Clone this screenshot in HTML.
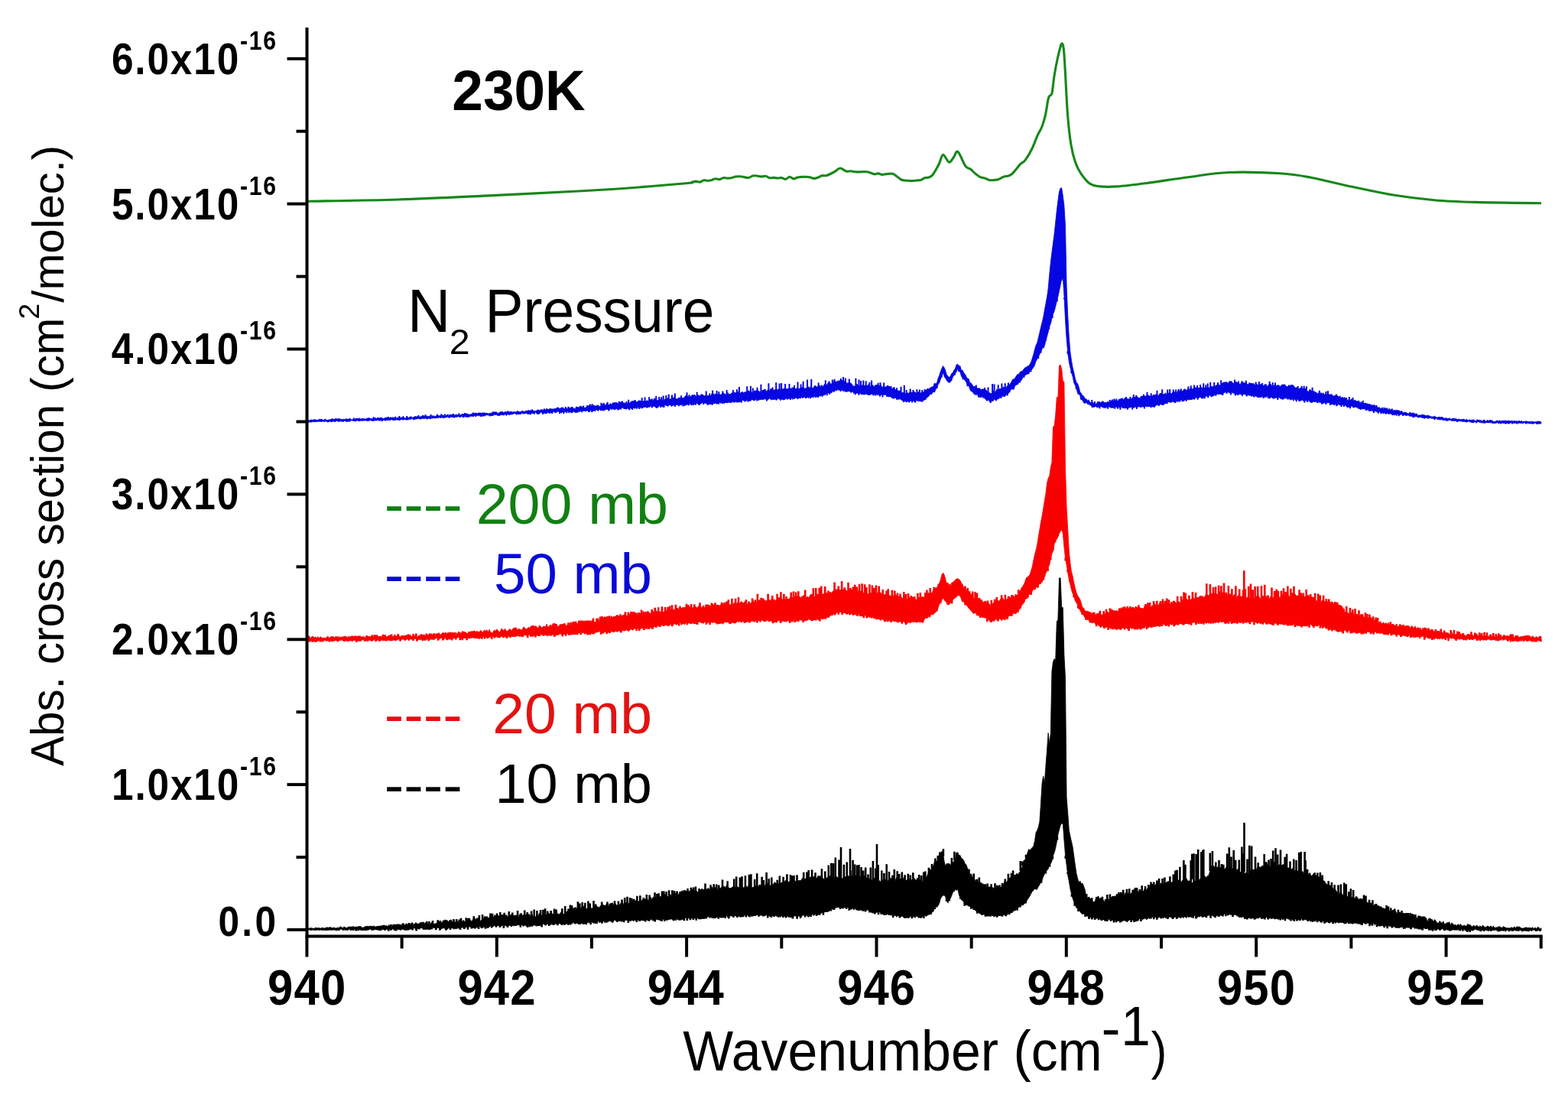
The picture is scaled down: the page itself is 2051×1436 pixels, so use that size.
<!DOCTYPE html>
<html><head><meta charset="utf-8"><title>Absorption cross section 230K</title>
<style>html,body{margin:0;padding:0;background:#fff;}body{width:2051px;height:1436px;overflow:hidden;}svg{display:block;filter:blur(0.55px);}</style>
</head><body>
<svg width="2051" height="1436" viewBox="0 0 2051 1436">
<rect width="100%" height="100%" fill="#fff"/>
<path d="M401.5 263.3C421.2 262.9 479.6 262.3 520.0 261.0C560.4 259.7 603.0 257.5 644.0 255.6C685.0 253.7 733.5 251.3 766.0 249.5C798.5 247.7 816.7 246.3 839.0 244.6C861.3 242.9 889.0 240.5 900.0 239.5C911.0 238.5 903.4 238.7 905.1 238.3C906.9 237.9 908.6 237.2 910.3 237.1C912.0 237.1 913.7 238.4 915.4 238.1C917.2 237.9 918.9 235.9 920.6 235.7C922.3 235.4 924.0 236.6 925.7 236.5C927.4 236.5 929.2 235.8 930.9 235.4C932.6 234.9 934.3 233.9 936.0 233.8C937.7 233.6 939.4 234.8 941.2 234.6C942.9 234.4 944.6 232.7 946.3 232.5C948.0 232.2 949.7 233.1 951.5 233.1C953.2 233.1 954.8 233.0 956.6 232.7C958.4 232.4 960.3 231.3 962.2 231.0C964.1 230.7 965.9 230.7 967.8 230.8C969.7 230.9 971.5 231.3 973.4 231.6C975.3 231.9 977.1 232.8 979.0 232.5C980.9 232.3 982.7 230.4 984.6 230.0C986.5 229.6 988.3 229.8 990.2 230.0C992.1 230.2 993.9 231.0 995.8 231.0C997.7 231.1 999.6 230.0 1001.4 230.3C1003.2 230.6 1004.9 232.3 1006.6 232.6C1008.3 233.0 1010.1 232.3 1011.8 232.3C1013.5 232.4 1015.3 233.0 1017.0 233.0C1018.7 233.0 1020.5 232.4 1022.3 232.6C1024.0 232.8 1025.8 234.6 1027.5 234.4C1029.3 234.2 1031.1 231.4 1032.8 231.3C1034.6 231.3 1036.3 233.8 1038.1 233.9C1039.8 234.0 1041.6 232.4 1043.3 232.0C1045.1 231.6 1046.9 231.6 1048.6 231.4C1050.4 231.3 1052.1 231.2 1053.9 231.3C1055.6 231.4 1057.4 231.5 1059.2 231.8C1060.9 232.2 1062.7 233.3 1064.4 233.4C1066.2 233.5 1068.0 232.9 1069.7 232.3C1071.4 231.7 1073.1 230.3 1074.8 229.8C1076.5 229.4 1078.2 230.0 1079.9 229.7C1081.6 229.4 1083.0 228.9 1085.0 228.0C1087.0 227.1 1089.6 225.8 1092.0 224.4C1094.3 223.1 1096.4 220.1 1098.9 220.0C1101.4 219.9 1104.4 223.3 1106.7 223.9C1109.0 224.5 1110.6 223.7 1112.6 223.8C1114.5 224.0 1116.5 224.5 1118.4 224.7C1120.4 224.9 1122.2 224.9 1124.3 224.9C1126.4 224.9 1128.6 224.4 1130.8 224.5C1133.0 224.6 1135.1 224.9 1137.3 225.4C1139.5 226.0 1141.9 227.6 1143.8 227.8C1145.7 228.0 1147.2 226.8 1148.9 226.9C1150.5 227.0 1152.2 228.3 1153.9 228.4C1155.6 228.5 1157.3 227.8 1159.0 227.6C1160.7 227.4 1162.4 227.2 1164.0 227.2C1165.7 227.2 1166.6 226.5 1169.1 227.8C1171.6 229.1 1176.1 233.6 1178.9 235.0C1181.7 236.4 1183.4 235.8 1185.7 236.1C1188.0 236.3 1190.4 236.6 1192.5 236.6C1194.6 236.6 1196.4 236.1 1198.3 236.0C1200.3 235.8 1202.4 236.1 1204.2 235.6C1206.0 235.1 1207.7 233.3 1209.4 232.7C1211.1 232.1 1212.9 232.7 1214.6 232.0C1216.3 231.4 1217.6 231.6 1219.8 228.8C1222.0 226.0 1225.7 219.4 1228.0 215.0C1230.3 210.6 1231.3 202.9 1233.5 202.4C1235.7 201.9 1239.0 211.6 1241.3 212.2C1243.6 212.8 1245.2 208.3 1247.2 206.0C1249.1 203.7 1250.4 196.6 1253.0 198.5C1255.6 200.4 1260.1 213.3 1262.8 217.1C1265.5 220.9 1267.1 219.5 1269.3 221.1C1271.5 222.8 1273.6 225.3 1275.8 227.1C1278.0 228.8 1280.2 230.7 1282.3 231.7C1284.4 232.7 1286.2 232.4 1288.2 233.1C1290.2 233.7 1292.1 235.1 1294.1 235.5C1296.1 235.9 1298.0 235.8 1300.0 235.6C1302.0 235.4 1304.2 235.2 1306.3 234.5C1308.4 233.7 1310.6 231.9 1312.7 231.2C1314.8 230.4 1317.1 230.7 1319.0 230.0C1320.9 229.3 1322.4 228.6 1324.1 227.2C1325.8 225.7 1327.4 223.5 1329.2 221.3C1331.0 219.1 1333.1 216.2 1335.1 214.2C1337.0 212.3 1338.5 212.8 1340.9 209.6C1343.3 206.4 1347.0 200.4 1349.7 195.0C1352.4 189.6 1354.8 182.3 1357.0 177.4C1359.2 172.5 1361.2 170.1 1362.9 165.7C1364.6 161.3 1365.8 157.4 1367.3 151.1C1368.8 144.8 1370.1 132.6 1371.6 127.7C1373.0 122.8 1374.8 126.5 1376.0 121.9C1377.2 117.3 1377.7 107.5 1378.9 99.9C1380.1 92.3 1381.7 83.6 1383.3 76.5C1384.9 69.4 1387.2 59.4 1388.5 57.5C1389.8 55.6 1390.6 58.1 1391.4 64.9C1392.2 71.7 1392.8 84.4 1393.6 98.5C1394.4 112.6 1395.3 134.5 1396.5 149.6C1397.7 164.7 1399.2 178.6 1400.9 189.1C1402.6 199.6 1404.5 206.2 1406.7 212.5C1408.9 218.8 1410.8 222.5 1414.0 227.1C1417.2 231.7 1421.5 237.5 1425.7 240.3C1429.9 243.1 1433.1 243.3 1438.9 243.9C1444.8 244.5 1450.6 244.6 1460.8 243.9C1471.0 243.2 1484.5 241.5 1500.0 239.5C1515.5 237.5 1535.8 234.0 1553.7 231.7C1571.6 229.4 1587.3 226.3 1607.5 225.5C1627.7 224.7 1656.7 225.7 1674.6 226.8C1692.5 227.9 1699.2 229.3 1714.9 232.2C1730.6 235.1 1750.8 240.5 1768.7 244.3C1786.6 248.1 1804.5 252.1 1822.4 255.0C1840.3 257.9 1858.2 260.1 1876.1 261.7C1894.0 263.3 1906.6 263.7 1929.9 264.4C1953.2 265.1 2001.7 265.6 2016.0 265.8" fill="none" stroke="#17871a" stroke-width="3.1" stroke-linejoin="round"/>
<polygon points="401.5,549.2 403.1,549.4 404.7,550.0 406.3,549.1 407.9,549.2 409.5,549.3 411.1,548.5 412.7,549.1 414.3,549.2 415.9,549.5 417.5,548.2 419.1,548.5 420.7,548.1 422.3,549.4 423.9,549.1 425.5,547.9 427.1,549.5 428.7,549.5 430.3,548.9 431.9,548.8 433.5,548.0 435.1,547.7 436.7,548.5 438.3,547.7 439.9,547.9 441.5,547.9 443.1,547.5 444.7,548.2 446.3,548.2 447.9,548.8 449.5,548.2 451.1,548.4 452.7,548.1 454.3,548.4 455.9,548.0 457.5,547.6 459.1,548.8 460.7,548.8 462.3,548.5 463.9,548.2 465.5,547.5 467.1,547.3 468.7,547.4 470.3,546.9 471.9,548.1 473.5,547.5 475.1,548.2 476.7,547.4 478.3,548.3 479.9,548.1 481.5,546.6 483.1,546.9 484.7,548.1 486.3,547.3 487.9,548.1 489.5,547.1 491.1,546.5 492.7,547.4 494.3,547.6 495.9,546.7 497.5,546.3 499.1,546.7 500.7,547.8 502.3,547.4 503.9,546.3 505.5,546.4 507.1,546.1 508.7,546.0 510.3,547.3 511.9,546.2 513.5,546.8 515.1,546.6 516.7,546.1 518.3,547.0 519.9,545.9 521.5,546.8 523.1,545.8 524.7,546.2 526.3,545.8 527.9,545.8 529.5,546.9 531.1,546.6 532.7,545.6 534.3,546.5 535.9,545.2 537.5,545.5 539.1,546.2 540.7,545.8 542.3,544.7 543.9,546.2 545.5,544.7 547.1,544.7 548.7,545.6 550.3,544.7 551.9,544.5 553.5,544.0 555.1,544.0 556.7,544.8 558.3,544.1 559.9,544.7 561.5,544.2 563.1,544.2 564.7,545.1 566.3,544.1 567.9,544.2 569.5,544.7 571.1,543.3 572.7,543.1 574.3,544.5 575.9,544.2 577.5,543.1 579.1,542.9 580.7,543.8 582.3,544.1 583.9,542.6 585.5,544.0 587.1,543.8 588.7,543.1 590.3,542.7 591.9,542.0 593.5,541.8 595.1,543.5 596.7,542.0 598.3,542.8 599.9,541.9 601.5,542.9 603.1,542.4 604.7,541.7 606.3,541.4 607.9,542.4 609.5,541.0 611.1,541.2 612.7,541.8 614.3,542.3 615.9,541.7 617.5,541.0 619.1,542.2 620.7,540.6 622.3,540.2 623.9,540.6 625.5,540.9 627.1,540.0 628.7,540.1 630.3,540.5 631.9,540.8 633.5,539.8 635.1,540.2 636.7,541.2 638.3,541.3 639.9,540.5 641.5,540.5 643.1,540.2 644.7,539.2 646.3,538.9 647.9,538.7 649.5,540.5 651.1,540.0 652.7,540.5 654.3,538.2 655.9,539.5 657.5,539.1 659.1,539.5 660.7,538.5 662.3,540.0 663.9,537.7 665.5,538.7 667.1,539.1 668.7,539.4 670.3,538.9 671.9,538.7 673.5,538.8 675.1,539.0 676.7,537.5 678.3,538.2 679.9,538.7 681.5,538.5 683.1,537.2 684.7,538.1 686.3,538.2 687.9,537.3 689.5,537.4 691.1,536.6 692.7,537.0 694.3,537.0 695.9,535.4 697.5,536.9 699.1,537.8 700.7,537.4 702.3,536.8 703.9,535.7 705.5,536.7 707.1,536.1 708.7,535.6 710.3,536.7 711.9,534.3 713.5,536.2 715.1,533.9 716.7,535.6 718.3,535.1 719.9,534.2 721.5,535.6 723.1,534.8 724.7,535.1 726.3,536.0 727.9,533.7 729.5,532.8 731.1,533.6 732.7,534.8 734.3,533.1 735.9,532.8 737.5,535.3 739.1,534.3 740.7,533.5 742.3,534.9 743.9,532.8 745.5,533.9 747.1,532.2 748.7,532.9 750.3,534.1 751.9,534.4 753.5,534.2 755.1,532.3 756.7,532.9 758.3,531.8 759.9,531.1 761.5,532.3 763.1,533.4 764.7,533.3 766.3,532.7 767.9,533.4 769.5,530.8 771.1,530.3 772.7,531.1 774.3,530.4 775.9,530.0 777.5,530.5 779.1,531.1 780.7,530.5 782.3,529.7 783.9,531.4 785.5,531.8 787.1,529.7 788.7,528.2 790.3,527.9 791.9,530.7 793.5,527.6 795.1,529.8 796.7,529.2 798.3,528.1 799.9,529.6 801.5,526.7 803.1,527.0 804.7,527.9 806.3,526.2 807.9,529.0 809.5,526.7 811.1,526.2 812.7,525.7 814.3,527.6 815.9,526.8 817.5,527.3 819.1,527.2 820.7,527.6 822.3,528.0 823.9,526.8 825.5,524.9 827.1,525.8 828.7,524.5 830.3,523.8 831.9,525.3 833.5,526.0 835.1,523.9 836.7,524.1 838.3,524.2 839.9,525.3 841.5,524.5 843.1,524.6 844.7,525.0 846.3,523.5 847.9,524.8 849.5,525.1 851.1,521.9 852.7,524.8 854.3,523.9 855.9,521.6 857.5,522.6 859.1,523.1 860.7,523.9 862.3,521.9 863.9,522.4 865.5,523.3 867.1,522.9 868.7,523.3 870.3,521.4 871.9,521.9 873.5,520.1 875.1,521.8 876.7,522.0 878.3,521.2 879.9,521.3 881.5,519.3 883.1,521.6 884.7,521.8 886.3,521.6 887.9,519.9 889.5,520.6 891.1,518.8 892.7,520.7 894.3,520.4 895.9,518.4 897.5,517.2 899.1,518.4 900.7,518.6 902.3,519.3 903.9,518.1 905.5,516.4 907.1,519.0 908.7,516.2 910.3,518.8 911.9,516.4 913.5,516.8 915.1,518.3 916.7,515.9 918.3,515.8 919.9,517.0 921.5,517.6 923.1,517.9 924.7,517.2 926.3,518.0 927.9,516.3 929.5,517.8 931.1,514.5 932.7,514.9 934.3,515.9 935.9,514.9 937.5,516.3 939.1,515.9 940.7,515.3 942.3,516.4 943.9,515.2 945.5,514.2 947.1,514.3 948.7,515.9 950.3,515.9 951.9,513.3 953.5,515.5 955.1,515.8 956.7,514.1 958.3,514.1 959.9,512.7 961.5,513.7 963.1,513.5 964.7,513.7 966.3,511.5 967.9,514.8 969.5,513.0 971.1,512.5 972.7,513.8 974.3,512.8 975.9,512.4 977.5,513.0 979.1,510.6 980.7,512.2 982.3,511.6 983.9,513.5 985.5,513.2 987.1,510.7 988.7,511.4 990.3,510.0 991.9,511.0 993.5,512.3 995.1,512.5 996.7,510.8 998.3,510.1 999.9,509.6 1001.5,511.0 1003.1,512.0 1004.7,509.0 1006.3,511.3 1007.9,508.4 1009.5,508.9 1011.1,508.9 1012.7,510.5 1014.3,509.1 1015.9,509.1 1017.5,509.9 1019.1,508.0 1020.7,510.1 1022.3,507.8 1023.9,509.1 1025.5,508.0 1027.1,507.7 1028.7,508.8 1030.3,508.4 1031.9,508.1 1033.5,508.1 1035.1,508.4 1036.7,506.9 1038.3,506.9 1039.9,508.3 1041.5,508.2 1043.1,507.7 1044.7,508.7 1046.3,507.7 1047.9,508.5 1049.5,506.1 1051.1,507.8 1052.7,507.9 1054.3,508.1 1055.9,505.9 1057.5,505.8 1059.1,507.8 1060.7,505.1 1062.3,507.8 1063.9,507.3 1065.5,504.5 1067.1,504.7 1068.7,506.3 1070.3,504.5 1071.9,503.8 1073.5,506.3 1075.1,504.7 1076.7,505.5 1078.3,502.5 1079.9,503.0 1081.5,503.5 1083.1,500.5 1084.7,500.6 1086.3,501.8 1087.9,502.1 1089.5,501.7 1091.1,498.1 1092.7,499.0 1094.3,499.3 1095.9,497.9 1097.5,498.3 1099.1,497.0 1100.7,497.0 1102.3,497.6 1103.9,497.9 1105.5,500.2 1107.1,500.5 1108.7,501.2 1110.3,500.2 1111.9,500.8 1113.5,501.3 1115.1,504.1 1116.7,505.1 1118.3,505.3 1119.9,502.6 1121.5,502.5 1123.1,505.7 1124.7,504.0 1126.3,505.1 1127.9,503.6 1129.5,504.1 1131.1,504.3 1132.7,504.1 1134.3,504.7 1135.9,502.6 1137.5,505.1 1139.1,505.7 1140.7,503.3 1142.3,504.4 1143.9,505.4 1145.5,504.3 1147.1,503.5 1148.7,503.5 1150.3,504.8 1151.9,503.0 1153.5,506.2 1155.1,505.9 1156.7,505.6 1158.3,506.2 1159.9,505.4 1161.5,504.6 1163.1,505.4 1164.7,505.7 1166.3,508.1 1167.9,508.1 1169.5,506.8 1171.1,509.8 1172.7,509.8 1174.3,510.6 1175.9,511.4 1177.5,510.6 1179.1,513.0 1180.7,513.6 1182.3,513.6 1183.9,514.5 1185.5,514.9 1187.1,513.6 1188.7,514.6 1190.3,512.2 1191.9,513.1 1193.5,513.5 1195.1,511.8 1196.7,512.9 1198.3,513.9 1199.9,513.8 1201.5,512.3 1203.1,514.8 1204.7,513.7 1206.3,512.4 1207.9,513.0 1209.5,511.6 1211.1,510.4 1212.7,508.8 1214.3,509.9 1215.9,507.6 1217.5,506.7 1219.1,505.9 1220.7,505.6 1222.3,501.1 1223.9,502.1 1225.5,500.6 1227.1,494.7 1228.7,491.1 1230.3,485.7 1231.9,482.0 1233.5,478.6 1235.1,480.8 1236.7,484.5 1238.3,490.1 1239.9,492.0 1241.5,493.3 1243.1,492.4 1244.7,488.5 1246.3,487.6 1247.9,483.9 1249.5,482.0 1251.1,476.9 1252.7,476.3 1254.3,478.5 1255.9,478.5 1257.5,484.3 1259.1,484.1 1260.7,487.8 1262.3,489.2 1263.9,492.6 1265.5,495.2 1267.1,495.4 1268.7,500.7 1270.3,501.0 1271.9,503.6 1273.5,505.6 1275.1,505.4 1276.7,505.7 1278.3,507.7 1279.9,508.0 1281.5,507.7 1283.1,509.9 1284.7,509.1 1286.3,508.7 1287.9,510.2 1289.5,510.1 1291.1,511.2 1292.7,514.0 1294.3,513.3 1295.9,515.1 1297.5,513.9 1299.1,510.7 1300.7,513.4 1302.3,512.6 1303.9,508.8 1305.5,511.2 1307.1,508.8 1308.7,508.3 1310.3,509.4 1311.9,506.2 1313.5,506.5 1315.1,507.4 1316.7,505.9 1318.3,503.6 1319.9,503.8 1321.5,501.6 1323.1,499.3 1324.7,495.9 1326.3,496.1 1327.9,493.9 1329.5,491.4 1331.1,489.3 1332.7,489.4 1334.3,486.3 1335.9,485.9 1337.5,485.1 1339.1,482.8 1340.7,480.8 1342.3,480.6 1343.9,478.7 1345.5,478.7 1347.1,476.3 1348.7,473.4 1350.3,468.6 1351.9,463.2 1353.5,456.8 1355.1,451.5 1356.7,448.2 1358.3,441.7 1359.9,435.1 1361.5,428.1 1363.1,421.7 1364.7,415.1 1366.3,405.8 1367.9,397.1 1369.5,388.5 1371.1,377.4 1372.7,359.2 1374.3,343.2 1375.9,330.2 1377.5,317.9 1379.1,305.7 1380.7,290.6 1382.3,275.4 1383.9,262.3 1385.5,250.6 1387.1,246.1 1388.7,245.7 1390.3,256.1 1391.9,268.7 1393.5,295.2 1395.1,373.6 1396.7,412.0 1398.3,440.3 1399.9,460.2 1401.5,471.4 1403.1,480.4 1404.7,486.9 1406.3,494.5 1407.9,500.1 1409.5,501.5 1411.1,505.9 1412.7,512.4 1414.3,514.4 1415.9,517.5 1417.5,518.0 1419.1,521.3 1420.7,521.5 1422.3,524.2 1423.9,523.5 1425.5,525.3 1427.1,527.1 1428.7,525.8 1430.3,527.1 1431.9,527.7 1433.5,528.3 1435.1,526.5 1436.7,526.2 1438.3,525.2 1439.9,527.9 1441.5,524.9 1443.1,524.9 1444.7,526.5 1446.3,526.2 1447.9,526.8 1449.5,525.3 1451.1,527.0 1452.7,524.1 1454.3,524.3 1455.9,525.5 1457.5,523.1 1459.1,523.6 1460.7,524.8 1462.3,524.3 1463.9,522.5 1465.5,521.6 1467.1,522.1 1468.7,523.1 1470.3,521.4 1471.9,520.2 1473.5,522.0 1475.1,521.2 1476.7,522.1 1478.3,522.0 1479.9,521.7 1481.5,519.8 1483.1,521.0 1484.7,519.0 1486.3,518.9 1487.9,519.0 1489.5,520.8 1491.1,520.5 1492.7,518.0 1494.3,518.3 1495.9,518.1 1497.5,518.0 1499.1,517.9 1500.7,517.7 1502.3,516.9 1503.9,518.0 1505.5,518.6 1507.1,517.5 1508.7,518.3 1510.3,517.1 1511.9,515.5 1513.5,517.4 1515.1,517.6 1516.7,515.3 1518.3,514.1 1519.9,515.7 1521.5,515.6 1523.1,515.5 1524.7,516.7 1526.3,515.3 1527.9,515.7 1529.5,512.8 1531.1,514.3 1532.7,515.0 1534.3,512.2 1535.9,512.0 1537.5,514.0 1539.1,514.2 1540.7,510.8 1542.3,512.4 1543.9,510.2 1545.5,512.0 1547.1,511.3 1548.7,509.4 1550.3,508.9 1551.9,510.5 1553.5,509.2 1555.1,509.7 1556.7,507.9 1558.3,507.3 1559.9,509.2 1561.5,507.7 1563.1,506.9 1564.7,506.9 1566.3,507.5 1567.9,507.3 1569.5,507.9 1571.1,506.0 1572.7,507.4 1574.3,506.7 1575.9,507.2 1577.5,506.9 1579.1,506.9 1580.7,507.0 1582.3,507.1 1583.9,505.8 1585.5,505.3 1587.1,505.8 1588.7,505.9 1590.3,504.0 1591.9,503.6 1593.5,502.1 1595.1,503.8 1596.7,504.2 1598.3,501.5 1599.9,500.3 1601.5,500.0 1603.1,500.3 1604.7,499.3 1606.3,501.8 1607.9,498.6 1609.5,499.7 1611.1,499.1 1612.7,501.1 1614.3,501.7 1615.9,499.7 1617.5,499.4 1619.1,501.0 1620.7,501.6 1622.3,502.9 1623.9,499.8 1625.5,500.2 1627.1,500.6 1628.7,500.9 1630.3,501.1 1631.9,502.9 1633.5,502.5 1635.1,501.3 1636.7,501.3 1638.3,501.7 1639.9,501.4 1641.5,503.6 1643.1,502.1 1644.7,503.0 1646.3,504.1 1647.9,503.0 1649.5,502.3 1651.1,504.6 1652.7,504.8 1654.3,502.8 1655.9,503.7 1657.5,505.2 1659.1,503.6 1660.7,502.7 1662.3,502.2 1663.9,505.5 1665.5,505.0 1667.1,503.6 1668.7,504.2 1670.3,504.2 1671.9,503.4 1673.5,506.0 1675.1,504.9 1676.7,503.5 1678.3,502.7 1679.9,504.5 1681.5,504.2 1683.1,505.8 1684.7,505.5 1686.3,505.2 1687.9,503.7 1689.5,503.7 1691.1,504.7 1692.7,504.9 1694.3,507.5 1695.9,506.6 1697.5,507.5 1699.1,509.2 1700.7,507.0 1702.3,508.4 1703.9,507.5 1705.5,510.1 1707.1,507.8 1708.7,511.2 1710.3,511.7 1711.9,512.1 1713.5,509.8 1715.1,510.9 1716.7,512.9 1718.3,511.0 1719.9,512.7 1721.5,512.9 1723.1,515.0 1724.7,513.9 1726.3,515.2 1727.9,513.5 1729.5,515.6 1731.1,514.5 1732.7,516.6 1734.3,514.0 1735.9,516.9 1737.5,515.0 1739.1,516.5 1740.7,516.8 1742.3,515.8 1743.9,518.6 1745.5,517.2 1747.1,517.5 1748.7,517.1 1750.3,518.3 1751.9,519.3 1753.5,520.6 1755.1,519.7 1756.7,521.2 1758.3,519.5 1759.9,521.0 1761.5,521.6 1763.1,523.8 1764.7,523.7 1766.3,523.5 1767.9,521.5 1769.5,523.2 1771.1,524.8 1772.7,523.5 1774.3,525.1 1775.9,525.1 1777.5,523.9 1779.1,527.9 1780.7,527.6 1782.3,525.9 1783.9,527.8 1785.5,527.1 1787.1,527.9 1788.7,528.9 1790.3,528.5 1791.9,529.1 1793.5,529.7 1795.1,531.1 1796.7,530.1 1798.3,530.3 1799.9,532.7 1801.5,531.7 1803.1,534.4 1804.7,533.4 1806.3,534.4 1807.9,533.5 1809.5,535.7 1811.1,533.5 1812.7,534.2 1814.3,534.3 1815.9,536.6 1817.5,536.9 1819.1,535.4 1820.7,536.4 1822.3,538.1 1823.9,537.5 1825.5,536.2 1827.1,536.9 1828.7,537.0 1830.3,537.1 1831.9,538.2 1833.5,537.5 1835.1,540.2 1836.7,539.1 1838.3,539.6 1839.9,540.2 1841.5,540.7 1843.1,541.1 1844.7,540.3 1846.3,540.4 1847.9,540.8 1849.5,540.2 1851.1,541.3 1852.7,542.3 1854.3,543.1 1855.9,542.9 1857.5,542.9 1859.1,543.0 1860.7,541.9 1862.3,542.8 1863.9,543.0 1865.5,543.8 1867.1,542.9 1868.7,543.7 1870.3,544.1 1871.9,544.9 1873.5,545.1 1875.1,544.9 1876.7,544.2 1878.3,545.6 1879.9,546.0 1881.5,545.5 1883.1,545.4 1884.7,545.8 1886.3,545.4 1887.9,546.6 1889.5,547.3 1891.1,546.6 1892.7,547.2 1894.3,547.6 1895.9,546.6 1897.5,548.2 1899.1,547.8 1900.7,547.2 1902.3,547.2 1903.9,547.5 1905.5,548.2 1907.1,548.5 1908.7,548.0 1910.3,549.1 1911.9,548.2 1913.5,548.5 1915.1,548.0 1916.7,549.6 1918.3,548.2 1919.9,549.7 1921.5,549.1 1923.1,549.3 1924.7,549.4 1926.3,548.9 1927.9,550.2 1929.5,550.4 1931.1,550.2 1932.7,549.9 1934.3,549.2 1935.9,550.5 1937.5,549.7 1939.1,550.8 1940.7,549.8 1942.3,550.5 1943.9,551.0 1945.5,550.0 1947.1,550.6 1948.7,549.8 1950.3,549.7 1951.9,550.0 1953.5,551.4 1955.1,551.4 1956.7,550.9 1958.3,550.3 1959.9,550.9 1961.5,551.1 1963.1,550.5 1964.7,550.9 1966.3,551.2 1967.9,549.9 1969.5,550.2 1971.1,550.7 1972.7,550.1 1974.3,550.6 1975.9,550.9 1977.5,550.2 1979.1,550.9 1980.7,550.4 1982.3,551.0 1983.9,550.6 1985.5,551.2 1987.1,550.1 1988.7,551.2 1990.3,550.3 1991.9,551.8 1993.5,551.2 1995.1,550.9 1996.7,550.9 1998.3,551.2 1999.9,551.4 2001.5,551.5 2003.1,551.5 2004.7,551.1 2006.3,552.0 2007.9,551.7 2009.5,551.8 2011.1,551.0 2012.7,551.0 2014.3,551.3 2015.9,551.9 2016.0,553.8 2014.4,553.8 2012.8,553.7 2011.2,554.4 2009.6,553.4 2008.0,553.0 2006.4,554.0 2004.8,554.3 2003.2,554.0 2001.6,553.8 2000.0,554.0 1998.4,553.3 1996.8,553.7 1995.2,552.9 1993.6,553.0 1992.0,553.4 1990.4,553.5 1988.8,553.3 1987.2,552.8 1985.6,553.8 1984.0,553.5 1982.4,553.0 1980.8,553.1 1979.2,553.2 1977.6,553.0 1976.0,552.7 1974.4,554.0 1972.8,554.0 1971.2,553.5 1969.6,553.8 1968.0,553.1 1966.4,553.7 1964.8,552.8 1963.2,553.6 1961.6,553.3 1960.0,553.8 1958.4,552.5 1956.8,553.6 1955.2,552.5 1953.6,553.2 1952.0,553.8 1950.4,552.3 1948.8,552.7 1947.2,552.7 1945.6,552.7 1944.0,552.3 1942.4,553.4 1940.8,553.2 1939.2,552.5 1937.6,552.3 1936.0,552.6 1934.4,551.7 1932.8,551.5 1931.2,552.8 1929.6,551.8 1928.0,552.0 1926.4,552.5 1924.8,552.5 1923.2,551.6 1921.6,551.1 1920.0,551.2 1918.4,552.0 1916.8,551.9 1915.2,550.7 1913.6,551.6 1912.0,550.8 1910.4,550.8 1908.8,550.3 1907.2,551.3 1905.6,551.3 1904.0,550.0 1902.4,550.6 1900.8,549.8 1899.2,550.7 1897.6,549.2 1896.0,549.2 1894.4,549.9 1892.8,549.1 1891.2,549.9 1889.6,549.6 1888.0,549.2 1886.4,548.1 1884.8,548.8 1883.2,549.1 1881.6,548.1 1880.0,547.3 1878.4,547.4 1876.8,547.3 1875.2,547.8 1873.6,546.8 1872.0,546.6 1870.4,546.5 1868.8,547.1 1867.2,547.1 1865.6,546.2 1864.0,546.5 1862.4,546.8 1860.8,546.1 1859.2,545.3 1857.6,545.2 1856.0,546.2 1854.4,545.5 1852.8,544.6 1851.2,545.1 1849.6,543.8 1848.0,545.5 1846.4,544.2 1844.8,544.2 1843.2,544.0 1841.6,542.7 1840.0,543.8 1838.4,542.9 1836.8,542.6 1835.2,543.7 1833.6,541.8 1832.0,542.1 1830.4,543.1 1828.8,541.6 1827.2,541.5 1825.6,542.1 1824.0,540.9 1822.4,542.7 1820.8,542.7 1819.2,539.9 1817.6,540.9 1816.0,541.6 1814.4,540.3 1812.8,541.7 1811.2,540.1 1809.6,538.9 1808.0,539.7 1806.4,539.7 1804.8,538.5 1803.2,539.1 1801.6,539.1 1800.0,538.0 1798.4,537.7 1796.8,538.4 1795.2,537.6 1793.6,536.8 1792.0,537.8 1790.4,535.1 1788.8,536.6 1787.2,534.5 1785.6,535.5 1784.0,534.1 1782.4,534.4 1780.8,535.1 1779.2,534.8 1777.6,534.5 1776.0,532.6 1774.4,533.1 1772.8,532.0 1771.2,532.9 1769.6,532.4 1768.0,530.8 1766.4,532.2 1764.8,532.3 1763.2,531.7 1761.6,532.3 1760.0,530.0 1758.4,529.7 1756.8,529.1 1755.2,530.2 1753.6,529.8 1752.0,529.6 1750.4,528.8 1748.8,530.2 1747.2,527.8 1745.6,530.1 1744.0,528.8 1742.4,528.5 1740.8,529.0 1739.2,527.1 1737.6,526.7 1736.0,527.0 1734.4,526.0 1732.8,526.7 1731.2,527.4 1729.6,527.0 1728.0,526.0 1726.4,526.8 1724.8,525.2 1723.2,527.2 1721.6,525.1 1720.0,525.2 1718.4,524.7 1716.8,526.2 1715.2,526.4 1713.6,526.0 1712.0,523.6 1710.4,524.5 1708.8,524.1 1707.2,523.5 1705.6,525.5 1704.0,522.5 1702.4,523.6 1700.8,524.2 1699.2,524.7 1697.6,522.0 1696.0,522.7 1694.4,523.3 1692.8,521.0 1691.2,521.4 1689.6,523.1 1688.0,520.8 1686.4,521.4 1684.8,521.0 1683.2,521.3 1681.6,520.1 1680.0,519.9 1678.4,522.6 1676.8,521.8 1675.2,521.6 1673.6,520.0 1672.0,519.9 1670.4,520.7 1668.8,519.7 1667.2,520.2 1665.6,521.5 1664.0,519.7 1662.4,519.5 1660.8,521.3 1659.2,520.1 1657.6,518.2 1656.0,519.2 1654.4,519.8 1652.8,517.9 1651.2,518.6 1649.6,519.5 1648.0,519.8 1646.4,518.8 1644.8,519.6 1643.2,518.2 1641.6,517.8 1640.0,519.0 1638.4,517.5 1636.8,518.5 1635.2,516.6 1633.6,516.9 1632.0,516.2 1630.4,517.2 1628.8,515.8 1627.2,515.7 1625.6,515.5 1624.0,516.1 1622.4,515.4 1620.8,515.6 1619.2,517.0 1617.6,515.8 1616.0,516.1 1614.4,513.9 1612.8,514.2 1611.2,513.1 1609.6,514.7 1608.0,513.5 1606.4,513.0 1604.8,512.1 1603.2,512.9 1601.6,513.5 1600.0,514.2 1598.4,516.1 1596.8,515.8 1595.2,514.8 1593.6,515.4 1592.0,515.1 1590.4,517.8 1588.8,516.4 1587.2,518.0 1585.6,518.1 1584.0,519.0 1582.4,516.6 1580.8,517.9 1579.2,518.3 1577.6,517.7 1576.0,520.5 1574.4,519.1 1572.8,520.7 1571.2,520.3 1569.6,519.2 1568.0,520.5 1566.4,520.4 1564.8,520.1 1563.2,520.7 1561.6,522.3 1560.0,520.9 1558.4,521.9 1556.8,522.5 1555.2,523.0 1553.6,522.0 1552.0,524.0 1550.4,522.8 1548.8,524.5 1547.2,524.5 1545.6,523.1 1544.0,523.5 1542.4,524.0 1540.8,525.5 1539.2,524.8 1537.6,524.9 1536.0,526.6 1534.4,525.0 1532.8,525.5 1531.2,526.0 1529.6,525.9 1528.0,525.7 1526.4,525.9 1524.8,528.0 1523.2,528.1 1521.6,529.2 1520.0,530.0 1518.4,528.3 1516.8,529.7 1515.2,530.7 1513.6,528.9 1512.0,530.7 1510.4,530.9 1508.8,532.1 1507.2,532.1 1505.6,530.5 1504.0,532.0 1502.4,530.7 1500.8,531.9 1499.2,531.8 1497.6,530.9 1496.0,532.0 1494.4,531.9 1492.8,532.5 1491.2,532.0 1489.6,531.7 1488.0,532.5 1486.4,532.9 1484.8,532.0 1483.2,533.6 1481.6,532.4 1480.0,532.1 1478.4,532.9 1476.8,533.3 1475.2,532.4 1473.6,533.7 1472.0,534.0 1470.4,533.5 1468.8,533.9 1467.2,531.9 1465.6,533.0 1464.0,532.8 1462.4,531.9 1460.8,532.9 1459.2,531.8 1457.6,533.1 1456.0,533.4 1454.4,533.0 1452.8,532.5 1451.2,532.3 1449.6,531.5 1448.0,532.3 1446.4,533.8 1444.8,532.8 1443.2,531.7 1441.6,532.8 1440.0,531.3 1438.4,532.0 1436.8,532.3 1435.2,533.2 1433.6,531.4 1432.0,531.9 1430.4,532.7 1428.8,531.7 1427.2,530.6 1425.6,529.8 1424.0,528.5 1422.4,527.7 1420.8,526.6 1419.2,527.5 1417.6,526.9 1416.0,523.6 1414.4,522.7 1412.8,517.6 1411.2,515.4 1409.6,514.0 1408.0,508.6 1406.4,503.9 1404.8,500.9 1403.2,493.0 1401.6,487.2 1400.0,481.3 1398.4,473.8 1396.8,462.3 1395.2,444.4 1393.6,420.7 1392.0,387.8 1390.4,364.4 1388.8,364.0 1387.2,372.5 1385.6,380.1 1384.0,387.6 1382.4,393.4 1380.8,400.2 1379.2,406.7 1377.6,410.4 1376.0,415.9 1374.4,423.1 1372.8,427.0 1371.2,434.1 1369.6,439.8 1368.0,445.6 1366.4,452.1 1364.8,454.8 1363.2,455.9 1361.6,460.4 1360.0,463.1 1358.4,466.4 1356.8,469.2 1355.2,472.3 1353.6,477.1 1352.0,479.9 1350.4,482.4 1348.8,484.3 1347.2,486.0 1345.6,487.0 1344.0,489.5 1342.4,489.8 1340.8,491.1 1339.2,492.5 1337.6,494.2 1336.0,497.6 1334.4,497.4 1332.8,500.1 1331.2,502.6 1329.6,503.3 1328.0,504.0 1326.4,507.7 1324.8,509.3 1323.2,508.5 1321.6,510.7 1320.0,513.0 1318.4,515.5 1316.8,515.8 1315.2,517.4 1313.6,516.6 1312.0,518.7 1310.4,518.2 1308.8,518.9 1307.2,520.8 1305.6,521.7 1304.0,522.3 1302.4,522.2 1300.8,522.4 1299.2,523.9 1297.6,524.3 1296.0,525.6 1294.4,525.6 1292.8,522.8 1291.2,522.7 1289.6,522.8 1288.0,520.7 1286.4,519.8 1284.8,518.4 1283.2,519.4 1281.6,519.6 1280.0,518.9 1278.4,515.6 1276.8,516.5 1275.2,514.9 1273.6,514.7 1272.0,512.3 1270.4,511.6 1268.8,509.5 1267.2,504.5 1265.6,504.2 1264.0,500.2 1262.4,497.7 1260.8,495.8 1259.2,494.4 1257.6,492.4 1256.0,487.0 1254.4,484.9 1252.8,481.9 1251.2,486.0 1249.6,488.3 1248.0,490.5 1246.4,492.9 1244.8,496.9 1243.2,499.5 1241.6,500.4 1240.0,499.7 1238.4,497.3 1236.8,494.7 1235.2,492.2 1233.6,487.4 1232.0,492.0 1230.4,495.7 1228.8,500.6 1227.2,502.7 1225.6,507.0 1224.0,509.2 1222.4,513.0 1220.8,512.4 1219.2,514.5 1217.6,514.7 1216.0,516.7 1214.4,517.2 1212.8,520.2 1211.2,520.3 1209.6,523.1 1208.0,523.5 1206.4,524.2 1204.8,524.9 1203.2,524.6 1201.6,524.3 1200.0,523.7 1198.4,523.7 1196.8,526.2 1195.2,524.4 1193.6,523.7 1192.0,524.0 1190.4,525.0 1188.8,526.5 1187.2,524.1 1185.6,526.1 1184.0,524.6 1182.4,523.9 1180.8,524.6 1179.2,522.8 1177.6,521.3 1176.0,522.3 1174.4,522.1 1172.8,521.5 1171.2,519.9 1169.6,521.4 1168.0,520.7 1166.4,520.6 1164.8,518.4 1163.2,519.1 1161.6,518.5 1160.0,516.8 1158.4,516.2 1156.8,516.4 1155.2,516.1 1153.6,515.9 1152.0,516.6 1150.4,517.6 1148.8,516.1 1147.2,516.6 1145.6,514.9 1144.0,515.4 1142.4,517.5 1140.8,514.5 1139.2,515.9 1137.6,516.6 1136.0,516.4 1134.4,516.1 1132.8,515.0 1131.2,516.0 1129.6,515.9 1128.0,515.6 1126.4,516.1 1124.8,513.3 1123.2,515.7 1121.6,513.9 1120.0,514.7 1118.4,513.1 1116.8,514.8 1115.2,511.8 1113.6,513.1 1112.0,511.7 1110.4,511.9 1108.8,511.5 1107.2,512.1 1105.6,512.2 1104.0,510.5 1102.4,511.0 1100.8,509.8 1099.2,509.3 1097.6,510.8 1096.0,509.4 1094.4,509.3 1092.8,510.6 1091.2,512.5 1089.6,511.5 1088.0,513.7 1086.4,513.7 1084.8,514.8 1083.2,513.9 1081.6,514.3 1080.0,515.0 1078.4,516.2 1076.8,517.1 1075.2,516.5 1073.6,518.1 1072.0,518.0 1070.4,517.8 1068.8,518.6 1067.2,520.0 1065.6,517.9 1064.0,520.0 1062.4,518.5 1060.8,519.9 1059.2,518.1 1057.6,520.9 1056.0,519.3 1054.4,521.1 1052.8,519.0 1051.2,519.7 1049.6,520.7 1048.0,519.2 1046.4,519.6 1044.8,521.0 1043.2,521.9 1041.6,520.2 1040.0,519.9 1038.4,520.6 1036.8,522.6 1035.2,520.2 1033.6,521.8 1032.0,521.1 1030.4,522.0 1028.8,520.7 1027.2,522.0 1025.6,522.8 1024.0,522.8 1022.4,522.1 1020.8,521.8 1019.2,522.0 1017.6,520.7 1016.0,522.9 1014.4,522.5 1012.8,521.8 1011.2,522.5 1009.6,521.8 1008.0,521.7 1006.4,521.3 1004.8,522.4 1003.2,522.4 1001.6,522.2 1000.0,520.8 998.4,522.6 996.8,522.1 995.2,522.6 993.6,522.7 992.0,523.7 990.4,521.4 988.8,522.4 987.2,524.1 985.6,523.5 984.0,522.3 982.4,523.8 980.8,524.7 979.2,523.1 977.6,524.7 976.0,522.6 974.4,525.4 972.8,524.0 971.2,523.4 969.6,525.4 968.0,525.0 966.4,526.0 964.8,525.9 963.2,525.9 961.6,525.2 960.0,526.8 958.4,524.2 956.8,526.8 955.2,526.5 953.6,525.3 952.0,527.1 950.4,526.2 948.8,526.6 947.2,527.8 945.6,525.9 944.0,526.3 942.4,527.5 940.8,525.9 939.2,527.4 937.6,528.2 936.0,527.3 934.4,526.7 932.8,528.4 931.2,528.6 929.6,528.5 928.0,527.9 926.4,529.0 924.8,528.8 923.2,526.9 921.6,527.6 920.0,526.9 918.4,526.8 916.8,527.8 915.2,529.4 913.6,529.4 912.0,527.3 910.4,527.6 908.8,528.3 907.2,529.7 905.6,529.1 904.0,530.0 902.4,527.6 900.8,530.4 899.2,528.2 897.6,529.5 896.0,530.4 894.4,530.0 892.8,528.5 891.2,530.1 889.6,529.5 888.0,528.3 886.4,529.4 884.8,529.4 883.2,530.5 881.6,529.5 880.0,530.6 878.4,531.0 876.8,529.5 875.2,529.5 873.6,531.3 872.0,530.7 870.4,529.8 868.8,529.8 867.2,532.4 865.6,531.5 864.0,530.9 862.4,530.5 860.8,533.0 859.2,532.2 857.6,532.4 856.0,531.4 854.4,531.3 852.8,531.7 851.2,531.0 849.6,532.6 848.0,532.1 846.4,533.4 844.8,532.2 843.2,532.5 841.6,532.7 840.0,534.1 838.4,532.4 836.8,533.6 835.2,532.3 833.6,533.4 832.0,532.7 830.4,534.5 828.8,532.9 827.2,534.7 825.6,534.2 824.0,533.7 822.4,535.2 820.8,533.7 819.2,534.9 817.6,534.5 816.0,534.2 814.4,533.1 812.8,534.3 811.2,534.0 809.6,534.6 808.0,536.2 806.4,534.3 804.8,535.6 803.2,535.7 801.6,534.5 800.0,535.1 798.4,534.3 796.8,536.7 795.2,534.9 793.6,535.5 792.0,535.4 790.4,536.9 788.8,537.1 787.2,536.4 785.6,536.4 784.0,535.2 782.4,537.6 780.8,535.3 779.2,536.3 777.6,536.4 776.0,537.5 774.4,537.5 772.8,536.6 771.2,538.4 769.6,538.6 768.0,535.9 766.4,537.9 764.8,537.5 763.2,537.2 761.6,537.6 760.0,537.2 758.4,538.4 756.8,538.2 755.2,539.4 753.6,539.5 752.0,539.6 750.4,537.9 748.8,539.3 747.2,538.8 745.6,539.0 744.0,540.0 742.4,537.3 740.8,538.5 739.2,538.4 737.6,539.2 736.0,538.0 734.4,540.4 732.8,538.2 731.2,538.7 729.6,538.1 728.0,538.9 726.4,540.0 724.8,538.2 723.2,538.5 721.6,539.9 720.0,539.9 718.4,540.3 716.8,539.1 715.2,540.6 713.6,540.5 712.0,540.7 710.4,539.0 708.8,540.0 707.2,538.9 705.6,541.1 704.0,541.4 702.4,541.4 700.8,539.3 699.2,540.1 697.6,540.7 696.0,540.7 694.4,539.8 692.8,541.5 691.2,540.4 689.6,541.0 688.0,540.1 686.4,541.2 684.8,540.3 683.2,540.3 681.6,541.3 680.0,540.9 678.4,542.1 676.8,541.0 675.2,541.4 673.6,540.7 672.0,541.1 670.4,541.7 668.8,542.0 667.2,541.9 665.6,542.8 664.0,541.3 662.4,542.9 660.8,541.6 659.2,543.2 657.6,542.4 656.0,542.3 654.4,542.7 652.8,543.3 651.2,543.6 649.6,542.6 648.0,541.9 646.4,542.3 644.8,543.5 643.2,543.5 641.6,543.5 640.0,542.6 638.4,543.3 636.8,542.5 635.2,542.7 633.6,543.2 632.0,544.4 630.4,543.9 628.8,544.4 627.2,543.0 625.6,543.8 624.0,543.2 622.4,543.6 620.8,543.5 619.2,544.9 617.6,544.0 616.0,544.4 614.4,544.7 612.8,545.2 611.2,545.4 609.6,544.8 608.0,544.8 606.4,545.5 604.8,544.7 603.2,544.7 601.6,545.5 600.0,544.8 598.4,545.0 596.8,545.2 595.2,545.4 593.6,545.2 592.0,545.4 590.4,545.6 588.8,545.0 587.2,546.4 585.6,545.1 584.0,546.0 582.4,546.1 580.8,545.9 579.2,545.7 577.6,545.6 576.0,546.1 574.4,546.1 572.8,546.5 571.2,546.1 569.6,547.1 568.0,546.7 566.4,546.0 564.8,546.7 563.2,547.7 561.6,546.3 560.0,547.3 558.4,547.9 556.8,547.1 555.2,547.5 553.6,547.2 552.0,547.2 550.4,547.8 548.8,547.8 547.2,547.5 545.6,547.8 544.0,547.9 542.4,548.4 540.8,547.4 539.2,547.5 537.6,547.9 536.0,548.0 534.4,548.8 532.8,548.4 531.2,549.1 529.6,548.5 528.0,548.4 526.4,549.1 524.8,548.2 523.2,549.7 521.6,549.5 520.0,548.8 518.4,548.8 516.8,549.6 515.2,549.6 513.6,549.4 512.0,548.6 510.4,549.7 508.8,548.6 507.2,549.5 505.6,549.5 504.0,550.1 502.4,549.7 500.8,548.8 499.2,550.2 497.6,549.9 496.0,549.7 494.4,548.9 492.8,550.0 491.2,549.6 489.6,550.0 488.0,550.5 486.4,550.5 484.8,549.2 483.2,550.3 481.6,549.8 480.0,550.4 478.4,549.8 476.8,550.0 475.2,550.0 473.6,549.6 472.0,549.9 470.4,550.6 468.8,549.6 467.2,549.7 465.6,550.8 464.0,550.6 462.4,550.5 460.8,549.8 459.2,549.9 457.6,550.2 456.0,551.2 454.4,550.7 452.8,551.2 451.2,550.2 449.6,550.6 448.0,550.8 446.4,551.3 444.8,550.2 443.2,551.4 441.6,550.8 440.0,550.2 438.4,550.8 436.8,550.8 435.2,551.3 433.6,551.7 432.0,551.1 430.4,551.4 428.8,551.0 427.2,551.6 425.6,550.6 424.0,551.6 422.4,550.8 420.8,551.5 419.2,550.9 417.6,551.2 416.0,551.0 414.4,551.3 412.8,551.7 411.2,551.6 409.6,551.4 408.0,551.8 406.4,552.2 404.8,551.5 403.2,551.9 401.6,551.8" fill="#0606e2" stroke="#0606e2" stroke-width="0.8" stroke-linejoin="round"/>
<path d="M439.7 550.4V547.5M443.5 550.3V547.5M452.9 550.1V547.5M457.7 550.0V547.3M462.8 549.9V546.6M467.0 549.8V546.9M474.8 549.6V547.2M479.7 549.5V546.8M483.8 549.4V546.8M488.6 549.3V545.3M494.0 549.2V546.0M499.4 549.0V545.9M504.6 548.9V545.8M507.8 548.8V545.1M511.0 548.8V545.6M513.8 548.7V545.5M517.1 548.6V544.8M522.3 548.5V544.0M527.5 548.2V544.3M532.2 548.0V543.9M537.5 547.7V544.5M543.7 547.3V544.3M547.5 547.1V543.1M552.9 546.9V543.1M556.5 546.7V542.3M563.7 546.3V542.1M566.4 546.1V543.5M572.0 545.8V541.8M574.6 545.7V543.3M577.1 545.6V541.4M581.7 545.3V541.4M585.8 545.1V541.7M588.8 544.9V541.8M592.8 544.7V541.1M596.5 544.5V542.1M600.4 544.3V540.4M604.6 544.1V541.2M608.1 543.9V540.1M619.0 543.3V539.6M621.5 543.2V539.9M626.1 543.0V539.7M631.4 542.7V539.5M636.9 542.4V539.9M644.6 542.0V538.6M649.2 541.7V538.6M654.0 541.3V539.3M656.6 541.2V537.9M661.7 540.8V538.2M665.2 540.6V537.7M668.4 540.4V537.7M720.9 537.0V534.5M726.1 536.6V534.1M729.5 536.4V533.3M734.1 536.1V533.1M736.7 535.9V533.2M739.8 535.7V532.0M743.4 535.5V531.8M749.0 535.1V532.5M753.9 534.8V531.7M758.8 534.5V531.4M763.1 534.2V530.5M768.1 533.8V529.9M771.8 533.4V528.6M774.6 533.1V528.3M786.4 531.9V526.7M789.5 531.6V526.9M794.7 531.1V525.7M798.5 530.7V527.7M804.4 530.1V526.1M807.0 529.9V526.5M809.8 529.6V524.8M814.0 529.2V524.4M819.4 528.6V524.9M822.1 528.3V522.7M827.4 527.8V524.3M830.9 527.5V523.3M839.7 526.6V520.2M843.6 526.2V519.4M849.1 525.6V519.3M852.8 525.3V521.5M855.8 525.0V520.9M858.2 524.7V518.0M862.2 524.3V518.9M865.2 524.0V519.3M867.7 523.8V517.6M871.3 523.4V517.1M874.7 523.0V515.7M879.0 522.6V516.5M882.9 522.2V514.5M891.1 521.4V517.3M898.5 520.7V513.3M901.6 520.4V516.2M907.1 519.9V516.3M911.7 519.6V512.8M919.7 518.9V516.8M923.7 518.6V511.6M928.1 518.3V514.6M932.1 517.9V510.4M937.6 517.5V511.0M940.3 517.3V512.2M945.3 516.9V511.6M950.6 516.5V509.9M958.8 515.8V510.1M963.9 515.4V509.2M966.9 515.2V506.0M977.2 514.4V505.2M981.9 514.0V504.7M984.8 513.8V507.6M990.5 513.3V506.8M995.4 513.0V502.7M1000.8 512.6V508.9M1005.4 512.3V501.3M1010.5 512.0V506.6M1015.2 511.6V500.3M1019.6 511.3V501.5M1022.1 511.2V501.0M1027.1 510.8V501.9M1032.5 510.5V502.0M1036.1 510.2V507.1M1039.0 509.9V503.8M1043.5 509.6V499.4M1047.6 509.2V502.5M1050.6 509.0V498.8M1056.0 508.5V496.6M1061.3 508.1V495.9M1070.6 507.4V500.4M1074.6 507.0V503.6M1079.8 505.4V497.2M1084.6 503.7V498.5M1088.8 502.3V496.5M1091.5 501.4V495.7M1100.0 500.4V494.9M1103.1 501.3V492.9M1105.9 502.1V494.5M1110.8 503.6V495.5M1119.4 506.0V494.7M1123.5 506.1V496.5M1126.0 506.2V498.1M1129.3 506.2V497.4M1132.7 506.3V498.2M1137.4 506.4V499.9M1140.1 506.5V497.4M1145.4 506.6V503.2M1148.6 506.7V500.8M1151.5 506.7V500.3M1156.2 506.8V500.5M1160.8 507.0V504.1M1165.5 508.0V505.0M1169.4 509.6V506.3M1173.1 511.1V507.2M1178.5 513.3V505.8M1182.8 515.1V503.7M1185.6 516.0V510.0M1190.7 515.7V508.6M1194.4 515.6V510.1M1199.4 515.3V509.2M1202.9 515.2V509.5M1206.3 515.0V510.0M1209.7 513.2V509.1M1213.6 510.6V507.9M1276.8 508.5V503.4M1284.4 511.7V509.0M1288.1 513.2V507.1M1292.5 515.0V506.5M1298.1 514.7V502.0M1300.6 513.7V502.4M1305.7 511.6V503.2M1310.4 509.7V501.6M1314.7 508.0V501.3M1318.9 505.1V500.4M1423.7 525.9V522.8M1428.3 528.2V523.0M1431.9 528.9V525.0M1436.1 528.7V525.3M1440.6 528.5V525.7M1448.9 528.1V525.3M1451.6 527.9V523.1M1454.9 527.2V522.5M1457.4 526.7V521.6M1460.4 526.0V521.4M1463.9 525.3V522.0M1467.8 524.4V520.4M1472.8 523.4V519.0M1478.4 522.4V519.0M1482.8 521.9V516.1M1486.3 521.6V517.0M1495.9 520.6V515.7M1500.5 520.1V512.7M1505.7 519.5V514.2M1508.9 519.1V516.1M1513.5 518.5V510.8M1517.6 517.9V514.4M1520.2 517.6V509.3M1524.5 517.0V513.8M1527.2 516.7V509.4M1530.2 516.3V509.1M1534.8 515.7V509.4M1538.1 515.0V509.5M1541.7 514.1V509.1M1544.9 513.3V508.4M1549.2 512.2V508.7M1554.3 510.9V505.6M1557.7 510.1V504.2M1562.1 509.0V503.6M1566.1 508.7V504.1M1570.1 508.4V503.1M1574.2 508.1V501.2M1577.3 507.8V503.2M1579.8 507.6V501.4M1583.2 507.4V500.0M1588.2 506.9V499.9M1593.0 505.5V500.3M1597.2 504.3V497.3M1602.5 502.7V499.8M1609.9 502.4V498.3M1615.0 502.8V496.4M1620.1 503.2V498.6M1624.5 503.6V498.2M1629.9 504.0V497.7M1634.2 504.2V500.5M1642.7 504.7V499.5M1646.8 505.0V499.1M1651.2 505.2V501.0M1655.7 505.5V502.3M1660.6 505.7V498.7M1664.8 505.9V500.3M1668.0 506.0V500.4M1672.8 506.2V503.7M1677.8 506.5V503.1M1680.3 506.6V502.4M1685.8 506.8V503.5M1690.8 507.2V503.3M1697.7 509.1V505.1M1702.7 510.4V505.0M1705.7 511.2V504.7M1708.9 512.1V505.3M1713.5 513.3V509.3M1716.6 514.1V506.7M1725.8 515.8V510.8M1730.5 516.7V513.8M1734.5 517.5V512.1M1737.0 517.9V511.2M1740.6 518.7V515.2M1747.9 520.4V515.4M1752.7 521.6V517.7M1755.8 522.3V519.3M1760.9 523.6V519.9M1764.8 524.5V519.1M1769.6 525.7V520.0M1772.2 526.3V522.9M1775.1 527.0V524.5M1780.3 528.4V525.4M1782.8 529.1V524.0M1788.2 530.6V527.6M1791.5 531.5V528.5M1794.5 532.4V529.2M1797.5 533.2V529.3M1800.4 534.0V529.9M1804.0 535.0V532.6M1808.4 536.2V532.8M1810.8 536.9V533.0M1814.4 537.7V533.4M1817.3 538.2V534.3M1820.9 538.8V534.6M1823.4 539.2V536.1M1828.2 539.9V536.3M1833.6 540.8V537.7M1838.7 541.6V539.1M1844.2 542.5V539.1M1847.8 543.0V539.7M1853.0 543.9V540.8M1927.8 551.4V548.8M1932.4 551.7V548.6M1935.5 551.9V549.2M1937.9 552.1V550.0M1941.3 552.3V548.8M1945.8 552.5V549.2M1948.9 552.5V549.3M1957.8 552.6V549.8M1961.2 552.7V549.8M1965.8 552.7V549.7M1971.3 552.8V549.9M1974.2 552.8V550.2M403.7 549.7V552.8M407.7 549.7V551.8M412.7 549.5V551.6M416.3 549.5V551.5M419.5 549.4V551.5M424.2 549.3V551.4M429.0 549.2V552.2M433.0 549.1V551.2M438.1 548.9V551.9M444.0 548.8V551.5M448.8 548.7V551.8M453.9 548.6V551.8M457.6 548.5V551.5M462.6 548.4V551.0M465.4 548.3V550.9M469.0 548.2V551.0M473.5 548.1V550.8M476.5 548.1V550.2M481.3 547.9V550.8M487.6 547.8V550.8M491.3 547.7V550.3M495.9 547.6V550.6M500.0 547.5V550.7M504.4 547.4V549.9M508.9 547.3V549.8M515.2 547.2V549.2M519.3 547.1V549.2M524.4 546.9V549.1M527.7 546.7V549.3M532.5 546.5V549.5M536.8 546.3V548.6M540.9 546.1V549.2M544.3 545.9V547.9M550.2 545.6V548.2M553.4 545.5V547.6M559.3 545.2V548.2M562.2 545.0V547.9M565.7 544.9V547.4M570.6 544.6V546.7M576.6 544.3V546.8M579.9 544.2V547.2M583.0 544.0V546.1M588.0 543.8V546.4M593.9 543.5V546.6M597.4 543.3V545.4M602.3 543.1V545.7M606.0 542.9V546.2M609.5 542.7V545.6M612.5 542.6V545.9M618.6 542.3V545.1M622.4 542.1V545.1M628.4 541.8V544.9M631.2 541.6V544.4M634.4 541.5V544.3M640.6 541.2V544.5M644.2 541.0V543.8M648.0 540.8V543.1M653.4 540.6V543.8M657.3 540.4V543.1M662.5 540.2V543.4M666.9 540.0V542.2M669.9 539.8V542.1M675.6 539.6V542.5M680.6 539.4V542.0M684.6 539.2V541.5M690.8 538.9V542.1M694.0 538.7V542.2M698.9 538.5V541.8M704.3 538.3V541.6M710.2 538.0V542.1M714.3 537.8V541.3M718.4 537.6V540.6M722.4 537.5V541.0M726.4 537.3V540.1M732.1 537.0V540.9M737.3 536.8V540.9M741.3 536.6V540.2M745.0 536.4V539.2M748.0 536.3V540.3M754.0 536.0V538.8M758.1 535.9V538.1M761.3 535.7V539.3M767.2 535.4V537.6M770.8 535.2V539.1M774.3 535.0V539.2M778.3 534.7V537.9M781.7 534.5V537.2M786.0 534.2V536.9M791.3 533.9V536.0M796.3 533.6V537.6M800.2 533.3V535.8M803.3 533.1V535.3M808.9 532.8V536.3M811.6 532.6V535.7M816.5 532.3V535.1M819.3 532.1V535.2M823.3 531.9V536.3M827.3 531.6V535.9M833.1 531.2V534.7M836.2 531.0V535.1M839.3 530.9V534.2M842.3 530.7V532.9M846.5 530.4V532.8M852.8 530.0V533.4M858.7 529.6V534.0M864.1 529.3V532.9M868.5 529.0V532.9M873.6 528.7V531.1M878.2 528.4V531.4M882.8 528.1V531.9M888.0 527.8V531.2M893.5 527.4V531.5M896.5 527.2V529.6M899.4 527.0V529.4M905.6 526.7V529.5M909.8 526.6V529.7M914.6 526.3V529.0M920.1 526.1V528.9M925.8 525.8V529.8M928.5 525.7V529.1M931.6 525.6V529.8M934.5 525.4V528.1M940.0 525.2V528.7M945.1 524.9V527.9M949.7 524.4V526.9M954.0 524.0V526.6M959.2 523.4V525.7M962.4 523.1V525.6M967.0 522.7V526.1M969.7 522.4V526.8M975.4 521.8V524.7M978.7 521.5V525.5M984.9 520.8V523.3M990.3 520.4V524.5M996.4 520.3V522.8M999.5 520.2V522.6M1003.0 520.2V524.4M1009.0 520.0V523.2M1012.2 520.0V522.8M1015.7 519.9V523.5M1021.0 519.7V523.7M1025.3 519.7V522.8M1029.7 519.6V522.5M1034.0 519.3V523.0M1039.3 518.9V521.7M1044.0 518.5V520.9M1046.9 518.3V521.3M1050.9 518.0V520.0M1053.9 517.7V520.8M1060.0 517.2V521.3M1062.8 517.0V519.8M1066.8 516.7V519.4M1070.0 516.4V519.9M1075.7 515.7V518.7M1079.1 514.4V516.7M1081.8 513.4V517.3M1085.3 512.0V515.8M1090.9 509.9V512.1M1094.3 508.6V511.3M1099.7 508.1V511.9M1103.5 508.8V512.0M1107.5 509.6V512.8M1113.1 510.8V513.4M1118.7 511.9V516.2M1123.5 512.4V516.8M1129.6 513.0V515.4M1135.9 513.5V516.0M1141.5 514.0V516.3M1145.3 514.4V517.5M1151.0 514.9V518.6M1154.4 515.2V519.5M1160.2 515.7V519.0M1163.1 516.0V518.8M1166.9 517.2V520.3M1173.0 519.2V522.7M1178.6 521.0V523.1M1182.2 522.1V525.9M1186.1 523.0V525.6M1189.1 523.0V525.1M1193.2 523.0V526.4M1197.4 523.0V526.4M1201.1 523.0V525.0M1206.3 523.0V525.8M1210.7 519.8V522.7M1214.4 516.6V518.8M1218.2 513.4V516.1M1221.3 510.7V512.8M1225.7 505.7V507.7M1231.6 490.5V493.4M1235.9 490.1V493.4M1238.7 495.5V497.7M1244.2 495.0V498.3M1248.7 487.9V490.7M1254.1 482.8V486.1M1259.6 492.4V496.5M1265.5 501.5V505.3M1270.7 508.7V511.9M1275.3 513.1V516.6M1279.9 515.4V519.5M1285.7 518.3V520.5M1291.1 521.0V524.6M1295.9 522.6V526.9M1298.8 521.4V524.6M1302.9 519.8V524.2M1306.1 518.4V521.8M1309.4 517.1V521.0M1313.8 515.3V519.1M1317.6 513.4V517.6M1320.4 510.6V513.2M1325.7 505.3V509.5M1331.2 499.8V502.5M1334.2 496.8V500.6M1339.5 491.5V493.7M1345.6 486.0V489.3M1348.4 483.4V486.6M1352.3 477.1V479.3M1358.2 464.6V468.9M1361.4 458.5V461.6M1365.0 451.3V455.0M1368.1 442.5V445.4M1372.3 427.4V430.5M1376.6 412.4V415.9M1382.7 390.3V394.6M1388.6 362.8V366.9M1392.2 389.2V391.8M1396.5 459.2V462.8M1401.4 485.3V488.2M1407.7 506.2V509.0M1410.4 513.3V515.5M1413.9 518.6V522.5M1419.6 524.7V526.8M1423.2 526.3V528.9M1428.7 528.9V532.9M1432.3 529.7V531.9M1438.5 530.1V534.5M1443.8 530.5V533.7M1449.2 530.9V534.8M1453.7 531.1V533.7M1458.3 531.1V534.8M1462.2 531.2V534.8M1465.4 531.3V535.7M1468.9 531.3V533.9M1475.0 531.5V535.8M1481.1 531.3V535.4M1486.8 530.9V535.0M1491.6 530.6V532.8M1496.9 530.3V534.4M1502.6 529.9V532.0M1505.5 529.3V533.2M1510.0 528.5V532.7M1516.3 527.3V530.4M1521.4 526.3V530.0M1526.6 525.3V528.2M1531.6 524.3V526.5M1537.5 523.3V527.1M1543.1 522.5V525.7M1546.6 522.1V525.2M1551.7 521.4V524.8M1554.8 521.0V523.0M1558.9 520.4V523.0M1562.4 519.9V522.5M1566.6 519.1V522.8M1572.6 518.0V521.6M1575.4 517.4V521.6M1580.3 516.5V520.3M1585.2 515.5V518.4M1589.1 514.8V516.9M1594.2 513.7V515.9M1599.4 512.7V516.9M1604.5 511.6V515.1M1610.1 512.2V516.6M1615.7 513.0V517.5M1620.1 513.6V515.6M1625.0 514.3V517.9M1630.8 515.1V518.6M1634.8 515.5V517.5M1640.5 516.0V519.6M1646.7 516.6V520.1M1652.5 517.2V521.1M1658.8 517.7V520.9M1664.7 518.1V521.1M1667.4 518.3V521.2M1671.4 518.6V523.1M1675.5 518.9V521.6M1680.7 519.3V521.6M1684.5 519.6V522.6M1687.6 519.8V523.3M1691.9 520.3V524.3M1695.8 520.8V525.2M1699.2 521.2V524.6M1702.7 521.7V523.7M1706.5 522.2V526.5M1710.2 522.7V525.9M1714.8 523.3V526.0M1719.5 523.9V526.0M1723.4 524.3V527.0M1729.1 524.9V528.8M1734.3 525.4V528.9M1740.1 526.0V529.9M1743.0 526.4V528.8M1748.4 527.2V531.3M1754.6 528.2V532.1M1757.9 528.7V532.1M1762.9 529.4V532.9M1766.0 529.9V534.3M1770.6 530.5V533.2M1776.8 531.5V534.4M1779.8 532.0V535.7M1783.4 532.7V535.3M1787.2 533.5V537.0M1791.0 534.2V537.9M1797.0 535.4V539.9M1802.9 536.5V540.8M1806.5 537.2V541.3M1809.5 537.8V541.3M1812.5 538.4V540.7M1818.6 539.1V541.4M1823.9 539.7V542.9M1826.6 540.0V543.8M1829.5 540.4V544.3M1835.2 541.0V544.0M1839.5 541.5V543.6M1844.7 542.1V544.2M1849.3 542.6V546.2M1854.4 543.2V545.4M1859.7 543.8V546.8M1863.6 544.2V547.4M1868.4 544.7V547.3M1873.0 545.2V547.6M1876.7 545.7V548.9M1880.7 546.1V549.1M1884.7 546.5V548.8M1887.4 546.8V550.1M1892.8 547.4V550.7M1897.6 547.9V550.0M1900.9 548.3V550.4M1905.8 548.6V551.4M1912.0 549.0V551.3M1915.5 549.2V551.5M1918.7 549.4V551.4M1923.2 549.7V552.2M1927.2 549.9V553.1M1931.1 550.1V553.2M1935.7 550.4V552.6M1938.5 550.6V553.4M1944.3 551.0V553.0M1949.6 551.1V553.3M1954.7 551.1V554.2M1960.1 551.2V553.5M1963.3 551.2V554.4M1969.3 551.3V554.4M1974.0 551.3V553.4M1978.0 551.4V554.5M1980.9 551.4V553.8M1983.8 551.4V554.6M1987.8 551.5V553.6M1991.7 551.5V553.8M1996.0 551.6V554.4M2001.1 551.6V553.8M2005.7 551.7V553.8M2010.0 551.7V554.8M2013.6 551.8V554.8" stroke="#0606e2" stroke-width="2.0" fill="none"/>
<polygon points="401.5,835.0 403.1,832.3 404.7,831.9 406.3,835.1 407.9,832.4 409.5,832.2 411.1,833.9 412.7,832.9 414.3,834.7 415.9,832.5 417.5,834.9 419.1,832.8 420.7,833.7 422.3,834.8 423.9,833.9 425.5,834.7 427.1,834.0 428.7,831.8 430.3,834.5 431.9,833.5 433.5,832.6 435.1,832.2 436.7,834.4 438.3,833.5 439.9,834.6 441.5,834.1 443.1,834.7 444.7,833.4 446.3,833.8 447.9,833.5 449.5,832.3 451.1,834.6 452.7,832.5 454.3,834.0 455.9,834.5 457.5,833.5 459.1,831.9 460.7,834.1 462.3,833.5 463.9,832.0 465.5,831.5 467.1,833.1 468.7,831.4 470.3,834.3 471.9,832.9 473.5,833.0 475.1,832.6 476.7,833.4 478.3,834.2 479.9,832.2 481.5,832.4 483.1,833.1 484.7,832.2 486.3,833.1 487.9,832.9 489.5,832.6 491.1,833.3 492.7,832.8 494.3,831.4 495.9,834.3 497.5,832.2 499.1,832.5 500.7,832.4 502.3,834.0 503.9,834.1 505.5,832.7 507.1,832.3 508.7,831.3 510.3,833.9 511.9,831.5 513.5,832.7 515.1,832.1 516.7,832.0 518.3,832.1 519.9,831.5 521.5,831.0 523.1,832.5 524.7,833.3 526.3,832.7 527.9,831.2 529.5,832.7 531.1,830.5 532.7,831.6 534.3,832.9 535.9,833.1 537.5,831.5 539.1,832.7 540.7,831.4 542.3,831.4 543.9,831.5 545.5,832.9 547.1,831.9 548.7,830.9 550.3,831.7 551.9,831.3 553.5,830.1 555.1,831.7 556.7,831.7 558.3,830.8 559.9,832.0 561.5,828.3 563.1,830.1 564.7,830.6 566.3,829.3 567.9,828.5 569.5,830.6 571.1,829.4 572.7,828.6 574.3,827.6 575.9,831.4 577.5,828.7 579.1,827.6 580.7,827.9 582.3,828.0 583.9,830.5 585.5,827.5 587.1,827.8 588.7,826.9 590.3,828.4 591.9,827.2 593.5,827.7 595.1,829.4 596.7,830.2 598.3,829.7 599.9,825.9 601.5,827.4 603.1,829.5 604.7,825.5 606.3,826.2 607.9,827.5 609.5,826.9 611.1,828.6 612.7,828.4 614.3,827.0 615.9,825.9 617.5,825.7 619.1,825.8 620.7,824.7 622.3,827.6 623.9,824.9 625.5,828.5 627.1,827.2 628.7,824.2 630.3,826.3 631.9,826.7 633.5,823.8 635.1,825.9 636.7,823.6 638.3,827.2 639.9,823.3 641.5,826.3 643.1,828.0 644.7,827.2 646.3,823.9 647.9,825.3 649.5,823.2 651.1,824.0 652.7,826.5 654.3,826.1 655.9,821.9 657.5,823.6 659.1,824.7 660.7,822.2 662.3,825.2 663.9,825.5 665.5,823.6 667.1,822.5 668.7,824.8 670.3,823.0 671.9,821.2 673.5,821.5 675.1,820.7 676.7,824.0 678.3,822.2 679.9,823.0 681.5,823.4 683.1,824.0 684.7,819.9 686.3,820.9 687.9,823.1 689.5,822.3 691.1,820.3 692.7,821.5 694.3,819.0 695.9,818.7 697.5,818.0 699.1,819.5 700.7,818.6 702.3,819.9 703.9,822.0 705.5,817.7 707.1,819.6 708.7,821.0 710.3,819.5 711.9,819.0 713.5,820.0 715.1,816.1 716.7,820.6 718.3,819.1 719.9,819.6 721.5,819.5 723.1,815.7 724.7,815.4 726.3,815.8 727.9,817.3 729.5,819.3 731.1,819.0 732.7,816.3 734.3,817.2 735.9,817.7 737.5,815.5 739.1,818.5 740.7,818.2 742.3,817.0 743.9,817.7 745.5,817.0 747.1,816.1 748.7,814.3 750.3,814.0 751.9,813.6 753.5,812.5 755.1,816.7 756.7,813.4 758.3,811.9 759.9,813.2 761.5,812.0 763.1,813.5 764.7,812.8 766.3,811.8 767.9,813.1 769.5,812.5 771.1,811.9 772.7,813.9 774.3,811.1 775.9,812.0 777.5,813.4 779.1,813.5 780.7,810.3 782.3,808.4 783.9,812.7 785.5,810.2 787.1,808.5 788.7,807.7 790.3,808.0 791.9,808.1 793.5,807.0 795.1,806.2 796.7,810.7 798.3,809.5 799.9,805.7 801.5,807.3 803.1,808.6 804.7,806.9 806.3,804.4 807.9,805.5 809.5,805.4 811.1,807.8 812.7,805.9 814.3,805.0 815.9,805.6 817.5,802.4 819.1,805.3 820.7,805.6 822.3,804.7 823.9,802.8 825.5,802.2 827.1,800.5 828.7,800.7 830.3,800.9 831.9,802.3 833.5,803.7 835.1,800.8 836.7,801.9 838.3,802.5 839.9,802.3 841.5,799.1 843.1,803.4 844.7,801.6 846.3,800.0 847.9,799.5 849.5,801.6 851.1,802.7 852.7,799.5 854.3,799.7 855.9,800.3 857.5,798.2 859.1,799.2 860.7,801.6 862.3,799.7 863.9,800.8 865.5,797.9 867.1,800.7 868.7,800.1 870.3,797.2 871.9,798.5 873.5,799.1 875.1,798.4 876.7,798.4 878.3,796.4 879.9,797.8 881.5,796.7 883.1,798.7 884.7,796.4 886.3,799.3 887.9,797.1 889.5,795.2 891.1,796.0 892.7,794.4 894.3,797.3 895.9,793.7 897.5,796.3 899.1,794.6 900.7,796.8 902.3,793.4 903.9,796.0 905.5,796.0 907.1,793.4 908.7,792.8 910.3,793.8 911.9,795.0 913.5,792.9 915.1,791.5 916.7,793.5 918.3,795.2 919.9,791.8 921.5,795.5 923.1,793.2 924.7,791.3 926.3,790.8 927.9,792.0 929.5,792.4 931.1,790.7 932.7,790.1 934.3,792.0 935.9,790.6 937.5,791.4 939.1,791.3 940.7,792.3 942.3,791.6 943.9,789.7 945.5,789.3 947.1,792.5 948.7,788.3 950.3,788.5 951.9,788.1 953.5,791.8 955.1,790.2 956.7,792.0 958.3,790.3 959.9,788.7 961.5,789.1 963.1,790.4 964.7,787.8 966.3,790.5 967.9,788.4 969.5,786.4 971.1,787.8 972.7,788.7 974.3,786.5 975.9,790.1 977.5,790.1 979.1,787.9 980.7,789.7 982.3,788.5 983.9,787.6 985.5,785.5 987.1,789.3 988.7,789.0 990.3,786.5 991.9,786.0 993.5,784.3 995.1,786.9 996.7,787.9 998.3,785.4 999.9,784.7 1001.5,786.2 1003.1,786.9 1004.7,783.6 1006.3,784.0 1007.9,785.7 1009.5,782.5 1011.1,786.2 1012.7,783.6 1014.3,786.0 1015.9,783.9 1017.5,782.3 1019.1,781.4 1020.7,781.7 1022.3,782.3 1023.9,784.6 1025.5,784.6 1027.1,783.7 1028.7,781.9 1030.3,783.5 1031.9,783.7 1033.5,781.7 1035.1,780.1 1036.7,781.9 1038.3,780.5 1039.9,780.1 1041.5,781.0 1043.1,779.2 1044.7,783.2 1046.3,779.9 1047.9,782.8 1049.5,781.9 1051.1,778.1 1052.7,782.3 1054.3,781.7 1055.9,780.1 1057.5,781.8 1059.1,779.6 1060.7,777.1 1062.3,777.6 1063.9,778.2 1065.5,780.8 1067.1,780.5 1068.7,776.7 1070.3,777.7 1071.9,776.4 1073.5,776.8 1075.1,777.2 1076.7,777.1 1078.3,775.3 1079.9,777.3 1081.5,774.8 1083.1,777.6 1084.7,775.0 1086.3,774.3 1087.9,775.5 1089.5,772.9 1091.1,772.0 1092.7,770.9 1094.3,771.3 1095.9,770.5 1097.5,772.7 1099.1,771.0 1100.7,772.9 1102.3,770.9 1103.9,770.0 1105.5,771.3 1107.1,771.9 1108.7,774.6 1110.3,771.2 1111.9,771.4 1113.5,771.3 1115.1,771.9 1116.7,775.6 1118.3,775.6 1119.9,772.2 1121.5,771.5 1123.1,773.9 1124.7,774.6 1126.3,772.4 1127.9,774.1 1129.5,776.0 1131.1,772.4 1132.7,776.1 1134.3,776.2 1135.9,776.9 1137.5,775.5 1139.1,775.6 1140.7,776.1 1142.3,774.3 1143.9,776.3 1145.5,775.1 1147.1,775.7 1148.7,774.4 1150.3,775.1 1151.9,774.8 1153.5,777.3 1155.1,776.0 1156.7,777.7 1158.3,777.6 1159.9,776.4 1161.5,776.0 1163.1,778.5 1164.7,779.2 1166.3,779.6 1167.9,779.0 1169.5,779.7 1171.1,777.3 1172.7,779.0 1174.3,781.8 1175.9,780.0 1177.5,779.0 1179.1,780.9 1180.7,783.3 1182.3,779.9 1183.9,780.3 1185.5,782.5 1187.1,784.4 1188.7,782.0 1190.3,781.2 1191.9,783.8 1193.5,780.5 1195.1,781.5 1196.7,783.0 1198.3,784.2 1199.9,784.3 1201.5,781.6 1203.1,781.3 1204.7,781.8 1206.3,780.6 1207.9,780.7 1209.5,782.0 1211.1,781.8 1212.7,777.1 1214.3,774.9 1215.9,777.0 1217.5,777.0 1219.1,774.9 1220.7,771.8 1222.3,772.2 1223.9,771.1 1225.5,769.1 1227.1,764.1 1228.7,763.0 1230.3,758.2 1231.9,751.8 1233.5,749.2 1235.1,751.6 1236.7,757.2 1238.3,763.6 1239.9,766.1 1241.5,768.5 1243.1,767.8 1244.7,762.3 1246.3,761.6 1247.9,760.3 1249.5,758.3 1251.1,757.3 1252.7,756.6 1254.3,757.7 1255.9,759.1 1257.5,762.4 1259.1,764.4 1260.7,769.3 1262.3,769.8 1263.9,771.4 1265.5,772.0 1267.1,773.7 1268.7,777.0 1270.3,776.7 1271.9,780.9 1273.5,781.4 1275.1,783.3 1276.7,782.9 1278.3,783.0 1279.9,782.8 1281.5,781.8 1283.1,785.9 1284.7,787.1 1286.3,787.8 1287.9,788.7 1289.5,785.9 1291.1,790.0 1292.7,788.7 1294.3,790.1 1295.9,792.5 1297.5,789.6 1299.1,789.3 1300.7,786.6 1302.3,786.6 1303.9,786.1 1305.5,785.5 1307.1,786.4 1308.7,783.4 1310.3,783.0 1311.9,782.4 1313.5,785.0 1315.1,785.6 1316.7,783.9 1318.3,782.2 1319.9,779.8 1321.5,782.6 1323.1,778.9 1324.7,778.2 1326.3,779.9 1327.9,781.2 1329.5,778.0 1331.1,778.6 1332.7,773.0 1334.3,773.3 1335.9,769.2 1337.5,766.9 1339.1,764.6 1340.7,761.1 1342.3,755.8 1343.9,755.1 1345.5,753.1 1347.1,751.7 1348.7,746.2 1350.3,741.0 1351.9,732.6 1353.5,725.2 1355.1,719.5 1356.7,712.3 1358.3,702.2 1359.9,692.3 1361.5,682.7 1363.1,674.5 1364.7,665.2 1366.3,655.0 1367.9,645.6 1369.5,631.9 1371.1,625.6 1372.7,622.4 1374.3,611.3 1375.9,604.5 1377.5,558.1 1379.1,556.8 1380.7,542.7 1382.3,519.5 1383.9,520.1 1385.5,478.2 1387.1,477.2 1388.7,482.5 1390.3,498.4 1391.9,499.3 1393.5,611.4 1395.1,663.8 1396.7,691.7 1398.3,720.9 1399.9,736.1 1401.5,747.7 1403.1,753.5 1404.7,761.9 1406.3,768.7 1407.9,774.9 1409.5,778.7 1411.1,781.2 1412.7,784.0 1414.3,788.6 1415.9,794.8 1417.5,795.0 1419.1,799.0 1420.7,799.3 1422.3,799.3 1423.9,799.7 1425.5,801.5 1427.1,804.0 1428.7,802.2 1430.3,801.3 1431.9,805.0 1433.5,803.7 1435.1,802.4 1436.7,802.5 1438.3,801.0 1439.9,803.3 1441.5,804.4 1443.1,802.6 1444.7,802.9 1446.3,802.5 1447.9,799.8 1449.5,800.7 1451.1,801.7 1452.7,799.8 1454.3,796.6 1455.9,798.8 1457.5,798.6 1459.1,799.1 1460.7,798.5 1462.3,799.4 1463.9,799.6 1465.5,795.6 1467.1,796.8 1468.7,794.5 1470.3,799.0 1471.9,794.4 1473.5,795.9 1475.1,796.7 1476.7,795.6 1478.3,794.1 1479.9,795.6 1481.5,794.1 1483.1,795.2 1484.7,796.2 1486.3,794.0 1487.9,794.5 1489.5,795.2 1491.1,794.5 1492.7,795.6 1494.3,795.8 1495.9,795.9 1497.5,791.7 1499.1,793.0 1500.7,791.0 1502.3,793.6 1503.9,791.9 1505.5,793.9 1507.1,791.9 1508.7,793.2 1510.3,789.1 1511.9,791.8 1513.5,790.5 1515.1,792.4 1516.7,788.5 1518.3,788.2 1519.9,791.0 1521.5,788.9 1523.1,789.2 1524.7,788.8 1526.3,791.5 1527.9,789.4 1529.5,790.2 1531.1,790.0 1532.7,789.9 1534.3,787.6 1535.9,786.6 1537.5,787.5 1539.1,789.1 1540.7,788.8 1542.3,786.5 1543.9,788.4 1545.5,787.5 1547.1,783.6 1548.7,786.4 1550.3,786.9 1551.9,782.9 1553.5,784.4 1555.1,785.5 1556.7,784.4 1558.3,784.1 1559.9,781.4 1561.5,781.8 1563.1,784.4 1564.7,781.3 1566.3,781.5 1567.9,781.5 1569.5,779.5 1571.1,779.7 1572.7,779.7 1574.3,781.1 1575.9,780.5 1577.5,776.7 1579.1,777.8 1580.7,778.6 1582.3,778.8 1583.9,776.5 1585.5,776.6 1587.1,776.2 1588.7,775.8 1590.3,776.5 1591.9,776.9 1593.5,777.3 1595.1,773.3 1596.7,776.5 1598.3,775.2 1599.9,775.0 1601.5,774.4 1603.1,778.8 1604.7,779.0 1606.3,777.5 1607.9,777.7 1609.5,776.6 1611.1,780.5 1612.7,780.0 1614.3,777.4 1615.9,779.7 1617.5,782.2 1619.1,778.8 1620.7,779.7 1622.3,780.0 1623.9,780.3 1625.5,779.3 1627.1,781.8 1628.7,779.9 1630.3,782.1 1631.9,781.0 1633.5,782.9 1635.1,782.4 1636.7,783.0 1638.3,779.5 1639.9,782.7 1641.5,782.6 1643.1,780.2 1644.7,778.7 1646.3,779.2 1647.9,782.6 1649.5,783.5 1651.1,779.0 1652.7,779.9 1654.3,780.7 1655.9,779.0 1657.5,781.9 1659.1,783.0 1660.7,782.7 1662.3,779.3 1663.9,782.7 1665.5,782.0 1667.1,778.6 1668.7,782.0 1670.3,782.2 1671.9,781.8 1673.5,781.0 1675.1,781.1 1676.7,779.6 1678.3,776.8 1679.9,779.9 1681.5,778.9 1683.1,777.0 1684.7,776.7 1686.3,780.3 1687.9,780.2 1689.5,775.8 1691.1,775.5 1692.7,778.7 1694.3,776.9 1695.9,780.1 1697.5,778.4 1699.1,780.0 1700.7,777.0 1702.3,781.0 1703.9,778.4 1705.5,779.9 1707.1,780.5 1708.7,780.0 1710.3,779.9 1711.9,781.3 1713.5,779.6 1715.1,780.5 1716.7,780.7 1718.3,784.6 1719.9,782.2 1721.5,785.9 1723.1,785.8 1724.7,782.5 1726.3,786.2 1727.9,787.3 1729.5,785.0 1731.1,785.7 1732.7,787.1 1734.3,786.7 1735.9,786.0 1737.5,788.8 1739.1,786.7 1740.7,788.0 1742.3,786.7 1743.9,788.6 1745.5,791.5 1747.1,788.6 1748.7,789.4 1750.3,791.0 1751.9,791.8 1753.5,791.6 1755.1,793.1 1756.7,795.1 1758.3,799.3 1759.9,800.5 1761.5,801.6 1763.1,801.3 1764.7,803.1 1766.3,799.6 1767.9,802.1 1769.5,801.0 1771.1,803.8 1772.7,801.5 1774.3,803.2 1775.9,803.7 1777.5,804.8 1779.1,804.4 1780.7,802.9 1782.3,805.2 1783.9,806.7 1785.5,808.1 1787.1,805.4 1788.7,808.5 1790.3,809.1 1791.9,807.0 1793.5,807.5 1795.1,810.5 1796.7,811.3 1798.3,810.7 1799.9,812.9 1801.5,811.2 1803.1,814.0 1804.7,814.6 1806.3,816.7 1807.9,816.6 1809.5,813.7 1811.1,816.3 1812.7,814.4 1814.3,816.6 1815.9,817.6 1817.5,818.0 1819.1,814.8 1820.7,817.6 1822.3,816.1 1823.9,818.0 1825.5,818.1 1827.1,818.4 1828.7,820.0 1830.3,817.9 1831.9,819.0 1833.5,818.1 1835.1,818.1 1836.7,820.4 1838.3,818.2 1839.9,821.6 1841.5,819.6 1843.1,818.5 1844.7,822.0 1846.3,818.3 1847.9,819.9 1849.5,821.8 1851.1,818.8 1852.7,822.4 1854.3,821.8 1855.9,824.1 1857.5,820.9 1859.1,823.7 1860.7,824.6 1862.3,822.3 1863.9,820.5 1865.5,822.2 1867.1,824.9 1868.7,821.2 1870.3,824.7 1871.9,824.5 1873.5,826.0 1875.1,824.5 1876.7,827.7 1878.3,824.0 1879.9,825.8 1881.5,825.7 1883.1,827.3 1884.7,825.9 1886.3,827.2 1887.9,827.8 1889.5,830.4 1891.1,826.7 1892.7,827.9 1894.3,827.4 1895.9,830.0 1897.5,830.3 1899.1,827.1 1900.7,830.5 1902.3,831.0 1903.9,829.3 1905.5,829.9 1907.1,830.8 1908.7,831.5 1910.3,828.6 1911.9,830.7 1913.5,828.2 1915.1,829.4 1916.7,831.7 1918.3,830.7 1919.9,830.4 1921.5,830.1 1923.1,830.2 1924.7,828.6 1926.3,830.8 1927.9,832.3 1929.5,829.2 1931.1,829.0 1932.7,831.3 1934.3,832.1 1935.9,830.7 1937.5,829.6 1939.1,831.7 1940.7,831.8 1942.3,830.4 1943.9,832.5 1945.5,831.6 1947.1,832.6 1948.7,830.7 1950.3,831.2 1951.9,832.3 1953.5,832.3 1955.1,833.0 1956.7,833.3 1958.3,832.6 1959.9,830.2 1961.5,831.8 1963.1,832.5 1964.7,833.0 1966.3,831.4 1967.9,830.5 1969.5,832.4 1971.1,831.1 1972.7,832.2 1974.3,831.3 1975.9,833.6 1977.5,830.7 1979.1,832.5 1980.7,833.7 1982.3,832.9 1983.9,831.2 1985.5,832.6 1987.1,833.6 1988.7,833.0 1990.3,834.0 1991.9,833.7 1993.5,832.3 1995.1,831.4 1996.7,833.4 1998.3,832.7 1999.9,833.9 2001.5,832.7 2003.1,833.6 2004.7,831.7 2006.3,833.8 2007.9,834.2 2009.5,834.1 2011.1,834.0 2012.7,833.7 2014.3,832.1 2015.9,832.6 2016.0,837.4 2014.4,837.4 2012.8,838.2 2011.2,837.5 2009.6,838.3 2008.0,839.0 2006.4,839.2 2004.8,836.3 2003.2,838.1 2001.6,837.9 2000.0,837.5 1998.4,838.3 1996.8,838.7 1995.2,836.8 1993.6,837.9 1992.0,836.5 1990.4,837.3 1988.8,837.0 1987.2,838.3 1985.6,838.6 1984.0,838.4 1982.4,837.4 1980.8,837.9 1979.2,837.7 1977.6,837.3 1976.0,836.1 1974.4,836.5 1972.8,838.5 1971.2,837.4 1969.6,835.9 1968.0,836.6 1966.4,835.9 1964.8,835.8 1963.2,836.6 1961.6,836.3 1960.0,835.4 1958.4,836.8 1956.8,838.1 1955.2,836.6 1953.6,836.4 1952.0,836.3 1950.4,835.9 1948.8,836.1 1947.2,835.7 1945.6,836.3 1944.0,837.7 1942.4,836.1 1940.8,837.6 1939.2,836.4 1937.6,836.8 1936.0,836.3 1934.4,835.9 1932.8,837.4 1931.2,836.5 1929.6,835.2 1928.0,835.5 1926.4,835.7 1924.8,836.2 1923.2,835.6 1921.6,835.2 1920.0,835.3 1918.4,837.4 1916.8,836.6 1915.2,836.9 1913.6,836.9 1912.0,834.6 1910.4,835.8 1908.8,836.3 1907.2,835.6 1905.6,835.6 1904.0,835.9 1902.4,835.9 1900.8,834.5 1899.2,834.1 1897.6,834.7 1896.0,833.9 1894.4,834.7 1892.8,833.9 1891.2,834.0 1889.6,835.6 1888.0,834.1 1886.4,835.6 1884.8,834.6 1883.2,835.8 1881.6,834.9 1880.0,835.7 1878.4,834.3 1876.8,834.2 1875.2,835.6 1873.6,834.8 1872.0,834.0 1870.4,835.2 1868.8,834.7 1867.2,834.4 1865.6,832.4 1864.0,834.9 1862.4,832.5 1860.8,832.0 1859.2,832.8 1857.6,832.2 1856.0,832.2 1854.4,832.8 1852.8,832.7 1851.2,833.1 1849.6,833.5 1848.0,832.8 1846.4,833.1 1844.8,831.7 1843.2,830.7 1841.6,832.2 1840.0,832.9 1838.4,830.2 1836.8,831.4 1835.2,830.6 1833.6,832.2 1832.0,829.2 1830.4,830.4 1828.8,829.9 1827.2,829.7 1825.6,830.7 1824.0,828.3 1822.4,829.0 1820.8,830.9 1819.2,829.2 1817.6,827.7 1816.0,829.4 1814.4,829.3 1812.8,830.0 1811.2,829.7 1809.6,829.7 1808.0,827.5 1806.4,827.5 1804.8,828.6 1803.2,827.5 1801.6,827.5 1800.0,826.4 1798.4,826.8 1796.8,826.5 1795.2,827.1 1793.6,828.1 1792.0,826.5 1790.4,826.7 1788.8,826.0 1787.2,826.9 1785.6,827.3 1784.0,827.3 1782.4,827.4 1780.8,826.9 1779.2,827.3 1777.6,827.6 1776.0,827.6 1774.4,825.0 1772.8,827.7 1771.2,826.3 1769.6,827.8 1768.0,827.0 1766.4,826.0 1764.8,824.7 1763.2,824.8 1761.6,826.7 1760.0,824.3 1758.4,824.4 1756.8,826.2 1755.2,825.9 1753.6,826.0 1752.0,824.1 1750.4,826.7 1748.8,825.7 1747.2,823.0 1745.6,824.2 1744.0,823.1 1742.4,822.3 1740.8,823.0 1739.2,823.6 1737.6,820.3 1736.0,822.2 1734.4,822.1 1732.8,819.1 1731.2,821.1 1729.6,818.0 1728.0,818.5 1726.4,817.2 1724.8,817.6 1723.2,817.5 1721.6,818.6 1720.0,818.2 1718.4,819.7 1716.8,819.0 1715.2,816.8 1713.6,816.7 1712.0,817.3 1710.4,818.8 1708.8,818.7 1707.2,818.7 1705.6,818.7 1704.0,818.2 1702.4,817.6 1700.8,818.4 1699.2,818.3 1697.6,818.2 1696.0,818.3 1694.4,817.2 1692.8,815.8 1691.2,817.3 1689.6,817.4 1688.0,818.1 1686.4,817.4 1684.8,817.8 1683.2,817.7 1681.6,815.9 1680.0,817.6 1678.4,816.5 1676.8,816.0 1675.2,815.9 1673.6,816.0 1672.0,815.7 1670.4,816.5 1668.8,815.1 1667.2,815.5 1665.6,816.1 1664.0,817.0 1662.4,816.2 1660.8,815.6 1659.2,814.9 1657.6,815.7 1656.0,816.4 1654.4,813.6 1652.8,814.6 1651.2,814.3 1649.6,815.7 1648.0,815.3 1646.4,813.2 1644.8,815.8 1643.2,814.2 1641.6,813.3 1640.0,813.1 1638.4,813.0 1636.8,813.4 1635.2,812.9 1633.6,814.6 1632.0,812.9 1630.4,813.7 1628.8,814.3 1627.2,813.5 1625.6,813.0 1624.0,813.5 1622.4,813.5 1620.8,813.8 1619.2,813.9 1617.6,813.0 1616.0,814.1 1614.4,814.7 1612.8,815.0 1611.2,814.0 1609.6,813.0 1608.0,812.1 1606.4,813.4 1604.8,815.1 1603.2,815.1 1601.6,814.2 1600.0,812.7 1598.4,812.7 1596.8,812.6 1595.2,813.4 1593.6,815.0 1592.0,812.7 1590.4,814.6 1588.8,813.9 1587.2,813.1 1585.6,813.7 1584.0,812.6 1582.4,814.4 1580.8,815.3 1579.2,813.6 1577.6,815.7 1576.0,813.7 1574.4,814.0 1572.8,815.1 1571.2,813.7 1569.6,813.3 1568.0,814.7 1566.4,814.8 1564.8,813.9 1563.2,814.0 1561.6,813.9 1560.0,814.2 1558.4,814.1 1556.8,815.7 1555.2,816.5 1553.6,815.7 1552.0,814.7 1550.4,815.7 1548.8,817.0 1547.2,815.3 1545.6,816.5 1544.0,814.4 1542.4,816.8 1540.8,817.1 1539.2,816.3 1537.6,817.4 1536.0,816.6 1534.4,817.2 1532.8,816.4 1531.2,816.2 1529.6,815.9 1528.0,816.9 1526.4,817.6 1524.8,815.5 1523.2,817.5 1521.6,815.7 1520.0,817.7 1518.4,818.2 1516.8,819.0 1515.2,818.5 1513.6,818.7 1512.0,819.0 1510.4,819.3 1508.8,819.6 1507.2,819.8 1505.6,820.5 1504.0,819.3 1502.4,821.3 1500.8,819.3 1499.2,819.1 1497.6,819.3 1496.0,821.0 1494.4,822.2 1492.8,820.2 1491.2,822.8 1489.6,821.9 1488.0,822.6 1486.4,821.1 1484.8,823.6 1483.2,822.0 1481.6,821.3 1480.0,822.5 1478.4,820.7 1476.8,822.6 1475.2,823.1 1473.6,821.0 1472.0,821.4 1470.4,821.4 1468.8,821.2 1467.2,822.5 1465.6,823.0 1464.0,822.0 1462.4,822.7 1460.8,823.3 1459.2,823.1 1457.6,821.7 1456.0,823.3 1454.4,821.2 1452.8,822.8 1451.2,820.3 1449.6,820.7 1448.0,819.7 1446.4,820.8 1444.8,819.1 1443.2,820.3 1441.6,818.6 1440.0,819.8 1438.4,819.0 1436.8,818.0 1435.2,816.5 1433.6,817.3 1432.0,814.6 1430.4,814.0 1428.8,814.8 1427.2,813.7 1425.6,812.2 1424.0,810.9 1422.4,810.5 1420.8,809.5 1419.2,807.9 1417.6,805.6 1416.0,802.4 1414.4,801.3 1412.8,798.1 1411.2,796.5 1409.6,791.4 1408.0,788.2 1406.4,786.1 1404.8,780.7 1403.2,776.5 1401.6,771.9 1400.0,765.0 1398.4,758.3 1396.8,749.8 1395.2,739.1 1393.6,730.8 1392.0,716.2 1390.4,698.3 1388.8,692.1 1387.2,694.8 1385.6,697.4 1384.0,701.1 1382.4,705.3 1380.8,705.9 1379.2,711.2 1377.6,720.1 1376.0,723.9 1374.4,731.1 1372.8,738.1 1371.2,742.6 1369.6,746.5 1368.0,749.4 1366.4,754.8 1364.8,756.6 1363.2,761.4 1361.6,762.2 1360.0,763.9 1358.4,764.2 1356.8,768.3 1355.2,767.2 1353.6,771.4 1352.0,770.5 1350.4,773.1 1348.8,774.9 1347.2,777.0 1345.6,778.0 1344.0,782.5 1342.4,782.8 1340.8,784.6 1339.2,788.4 1337.6,790.4 1336.0,792.5 1334.4,795.8 1332.8,797.8 1331.2,798.3 1329.6,802.0 1328.0,802.9 1326.4,801.3 1324.8,803.5 1323.2,805.5 1321.6,805.0 1320.0,805.6 1318.4,807.0 1316.8,808.9 1315.2,806.7 1313.6,809.0 1312.0,809.4 1310.4,810.5 1308.8,809.9 1307.2,809.1 1305.6,810.5 1304.0,811.1 1302.4,809.6 1300.8,811.9 1299.2,811.7 1297.6,812.0 1296.0,812.4 1294.4,812.3 1292.8,810.0 1291.2,809.2 1289.6,808.0 1288.0,808.2 1286.4,807.1 1284.8,807.4 1283.2,805.1 1281.6,804.4 1280.0,804.8 1278.4,804.8 1276.8,803.1 1275.2,801.0 1273.6,802.8 1272.0,800.2 1270.4,799.3 1268.8,796.9 1267.2,795.5 1265.6,793.3 1264.0,791.1 1262.4,789.6 1260.8,787.1 1259.2,786.0 1257.6,783.9 1256.0,779.7 1254.4,778.6 1252.8,778.6 1251.2,779.8 1249.6,781.7 1248.0,783.2 1246.4,784.2 1244.8,787.3 1243.2,788.1 1241.6,790.6 1240.0,790.8 1238.4,788.5 1236.8,786.7 1235.2,784.2 1233.6,782.4 1232.0,784.8 1230.4,788.8 1228.8,789.8 1227.2,794.4 1225.6,799.1 1224.0,800.5 1222.4,801.9 1220.8,803.5 1219.2,802.2 1217.6,804.4 1216.0,806.8 1214.4,806.2 1212.8,808.0 1211.2,808.2 1209.6,809.0 1208.0,812.7 1206.4,813.0 1204.8,813.3 1203.2,813.8 1201.6,812.9 1200.0,813.9 1198.4,813.9 1196.8,813.1 1195.2,813.3 1193.6,812.7 1192.0,813.5 1190.4,814.9 1188.8,812.6 1187.2,815.5 1185.6,813.4 1184.0,814.3 1182.4,813.5 1180.8,812.6 1179.2,814.2 1177.6,812.7 1176.0,813.2 1174.4,814.3 1172.8,813.0 1171.2,812.6 1169.6,811.8 1168.0,811.3 1166.4,813.5 1164.8,812.3 1163.2,811.6 1161.6,812.7 1160.0,811.7 1158.4,810.5 1156.8,812.3 1155.2,810.4 1153.6,809.8 1152.0,811.4 1150.4,809.4 1148.8,809.3 1147.2,810.0 1145.6,809.2 1144.0,807.7 1142.4,806.7 1140.8,806.5 1139.2,806.4 1137.6,807.8 1136.0,806.4 1134.4,806.6 1132.8,805.5 1131.2,804.5 1129.6,807.0 1128.0,805.7 1126.4,805.4 1124.8,804.9 1123.2,802.9 1121.6,804.9 1120.0,804.7 1118.4,802.5 1116.8,804.3 1115.2,804.4 1113.6,801.9 1112.0,803.9 1110.4,801.2 1108.8,803.1 1107.2,803.6 1105.6,801.0 1104.0,801.7 1102.4,800.3 1100.8,801.7 1099.2,800.1 1097.6,801.2 1096.0,800.7 1094.4,801.3 1092.8,803.4 1091.2,802.7 1089.6,803.1 1088.0,804.2 1086.4,805.1 1084.8,806.6 1083.2,807.0 1081.6,807.6 1080.0,808.6 1078.4,808.0 1076.8,809.8 1075.2,808.6 1073.6,808.9 1072.0,810.4 1070.4,810.7 1068.8,809.6 1067.2,811.8 1065.6,809.3 1064.0,811.5 1062.4,810.8 1060.8,811.0 1059.2,810.6 1057.6,809.6 1056.0,810.8 1054.4,811.6 1052.8,811.9 1051.2,812.2 1049.6,810.7 1048.0,811.4 1046.4,810.3 1044.8,811.3 1043.2,811.4 1041.6,812.6 1040.0,810.6 1038.4,810.5 1036.8,812.3 1035.2,812.9 1033.6,810.8 1032.0,812.8 1030.4,811.2 1028.8,813.3 1027.2,812.6 1025.6,811.3 1024.0,811.8 1022.4,813.2 1020.8,813.5 1019.2,810.8 1017.6,812.0 1016.0,811.0 1014.4,813.6 1012.8,813.5 1011.2,812.0 1009.6,813.2 1008.0,811.5 1006.4,813.2 1004.8,811.2 1003.2,811.6 1001.6,812.3 1000.0,812.9 998.4,812.1 996.8,811.0 995.2,810.8 993.6,811.2 992.0,811.5 990.4,812.7 988.8,811.3 987.2,813.5 985.6,812.8 984.0,811.8 982.4,812.7 980.8,813.6 979.2,811.9 977.6,813.2 976.0,813.2 974.4,813.9 972.8,813.4 971.2,811.7 969.6,814.2 968.0,812.3 966.4,813.6 964.8,812.2 963.2,814.3 961.6,814.5 960.0,814.5 958.4,814.3 956.8,815.0 955.2,813.9 953.6,815.0 952.0,813.3 950.4,813.0 948.8,813.4 947.2,813.9 945.6,815.2 944.0,815.2 942.4,813.8 940.8,815.2 939.2,815.6 937.6,814.1 936.0,815.0 934.4,813.8 932.8,814.1 931.2,813.5 929.6,813.9 928.0,813.1 926.4,814.1 924.8,815.3 923.2,813.5 921.6,813.5 920.0,815.6 918.4,813.9 916.8,813.6 915.2,813.4 913.6,813.0 912.0,815.5 910.4,815.1 908.8,815.8 907.2,815.5 905.6,814.8 904.0,815.7 902.4,813.7 900.8,815.1 899.2,815.4 897.6,813.7 896.0,816.2 894.4,816.5 892.8,814.5 891.2,814.5 889.6,814.5 888.0,815.0 886.4,815.7 884.8,817.2 883.2,815.7 881.6,815.9 880.0,817.5 878.4,818.1 876.8,815.9 875.2,818.4 873.6,818.3 872.0,817.4 870.4,818.1 868.8,817.0 867.2,818.4 865.6,817.3 864.0,819.7 862.4,819.2 860.8,818.4 859.2,818.7 857.6,820.1 856.0,819.4 854.4,821.0 852.8,820.7 851.2,821.4 849.6,819.7 848.0,820.1 846.4,822.6 844.8,822.1 843.2,821.4 841.6,823.3 840.0,820.7 838.4,822.6 836.8,821.3 835.2,822.1 833.6,822.0 832.0,822.7 830.4,821.9 828.8,822.5 827.2,824.2 825.6,822.8 824.0,823.9 822.4,825.5 820.8,825.0 819.2,823.1 817.6,825.1 816.0,824.8 814.4,824.8 812.8,825.7 811.2,826.3 809.6,824.7 808.0,826.2 806.4,824.4 804.8,825.6 803.2,826.7 801.6,826.6 800.0,825.4 798.4,827.1 796.8,826.3 795.2,827.4 793.6,827.2 792.0,826.3 790.4,826.1 788.8,825.6 787.2,828.0 785.6,825.8 784.0,825.8 782.4,826.6 780.8,826.2 779.2,826.7 777.6,828.2 776.0,827.2 774.4,828.9 772.8,827.6 771.2,829.2 769.6,829.2 768.0,827.6 766.4,828.7 764.8,829.1 763.2,827.6 761.6,827.3 760.0,829.9 758.4,827.3 756.8,827.9 755.2,827.8 753.6,830.0 752.0,829.5 750.4,829.2 748.8,829.2 747.2,830.6 745.6,828.4 744.0,830.4 742.4,828.8 740.8,828.8 739.2,830.1 737.6,829.4 736.0,829.9 734.4,830.3 732.8,828.5 731.2,829.6 729.6,829.7 728.0,831.0 726.4,830.9 724.8,830.0 723.2,829.9 721.6,831.1 720.0,831.1 718.4,829.0 716.8,831.4 715.2,831.6 713.6,830.0 712.0,831.2 710.4,830.7 708.8,830.1 707.2,829.6 705.6,831.1 704.0,831.7 702.4,830.8 700.8,831.5 699.2,830.2 697.6,832.2 696.0,832.0 694.4,831.4 692.8,830.3 691.2,830.0 689.6,831.3 688.0,830.9 686.4,830.3 684.8,831.2 683.2,833.1 681.6,831.9 680.0,832.5 678.4,831.8 676.8,831.5 675.2,831.1 673.6,832.4 672.0,832.8 670.4,832.4 668.8,832.3 667.2,832.7 665.6,831.6 664.0,833.9 662.4,833.8 660.8,831.7 659.2,833.9 657.6,833.5 656.0,831.5 654.4,833.8 652.8,834.0 651.2,832.5 649.6,832.3 648.0,833.2 646.4,831.9 644.8,832.3 643.2,834.0 641.6,833.1 640.0,833.2 638.4,834.8 636.8,834.5 635.2,833.0 633.6,832.4 632.0,832.4 630.4,834.3 628.8,834.0 627.2,835.4 625.6,834.1 624.0,834.3 622.4,834.9 620.8,834.1 619.2,834.1 617.6,833.8 616.0,834.2 614.4,834.9 612.8,834.3 611.2,835.1 609.6,834.0 608.0,834.8 606.4,834.3 604.8,834.7 603.2,835.4 601.6,833.5 600.0,833.3 598.4,833.9 596.8,834.0 595.2,833.8 593.6,835.1 592.0,834.8 590.4,834.8 588.8,835.8 587.2,833.9 585.6,836.4 584.0,836.0 582.4,834.5 580.8,836.0 579.2,836.4 577.6,833.9 576.0,834.9 574.4,836.1 572.8,835.0 571.2,834.6 569.6,835.0 568.0,835.0 566.4,836.4 564.8,835.7 563.2,835.3 561.6,837.3 560.0,835.4 558.4,836.1 556.8,837.2 555.2,837.5 553.6,835.8 552.0,835.8 550.4,836.5 548.8,836.3 547.2,836.4 545.6,836.5 544.0,835.4 542.4,835.4 540.8,836.6 539.2,835.7 537.6,836.4 536.0,835.2 534.4,836.2 532.8,835.7 531.2,836.7 529.6,837.9 528.0,835.9 526.4,836.1 524.8,836.5 523.2,836.4 521.6,835.9 520.0,835.9 518.4,837.5 516.8,838.0 515.2,835.7 513.6,837.8 512.0,837.9 510.4,837.8 508.8,837.8 507.2,836.1 505.6,836.6 504.0,838.2 502.4,837.3 500.8,838.0 499.2,836.6 497.6,838.2 496.0,838.4 494.4,836.4 492.8,838.0 491.2,838.7 489.6,836.1 488.0,836.6 486.4,838.5 484.8,838.0 483.2,837.0 481.6,836.5 480.0,838.6 478.4,836.2 476.8,838.9 475.2,836.2 473.6,837.1 472.0,837.5 470.4,837.8 468.8,838.5 467.2,837.4 465.6,838.8 464.0,837.1 462.4,837.2 460.8,839.0 459.2,837.2 457.6,837.7 456.0,836.5 454.4,838.6 452.8,837.8 451.2,838.8 449.6,838.3 448.0,837.6 446.4,836.5 444.8,837.4 443.2,837.8 441.6,837.5 440.0,837.7 438.4,837.2 436.8,837.1 435.2,839.1 433.6,838.8 432.0,837.6 430.4,838.9 428.8,836.8 427.2,838.4 425.6,837.4 424.0,837.5 422.4,838.1 420.8,838.3 419.2,837.5 417.6,837.4 416.0,837.8 414.4,839.1 412.8,839.4 411.2,839.3 409.6,838.9 408.0,839.6 406.4,836.9 404.8,839.4 403.2,837.9 401.6,837.0" fill="#fa0000" stroke="#fa0000" stroke-width="0.8" stroke-linejoin="round"/>
<path d="M435.7 835.2V832.6M439.5 835.2V832.2M442.4 835.2V832.2M446.5 835.1V832.7M451.5 835.1V831.8M456.0 835.0V831.9M460.8 835.0V831.6M463.3 835.0V832.0M467.8 834.9V832.2M470.5 834.9V831.5M479.5 834.9V831.0M482.4 834.8V832.2M486.7 834.8V830.4M489.8 834.8V830.2M492.5 834.7V830.2M496.5 834.7V832.0M501.0 834.7V829.8M503.7 834.7V830.2M509.8 834.6V830.5M512.2 834.6V829.4M516.3 834.5V829.9M520.8 834.5V829.1M525.6 834.3V831.0M529.8 834.1V831.1M533.7 833.8V829.4M535.9 833.7V829.7M540.5 833.4V828.9M544.3 833.2V828.5M550.9 832.8V829.2M554.4 832.6V829.7M557.8 832.4V828.5M560.3 832.3V830.0M563.9 832.1V828.5M568.0 831.9V828.6M571.0 831.7V828.5M574.2 831.5V829.3M583.0 831.0V827.3M586.4 830.8V828.3M590.3 830.6V827.0M595.3 830.3V827.0M598.3 830.1V827.8M602.2 829.9V827.2M607.1 829.6V826.1M613.4 829.3V826.0M617.2 829.0V826.0M622.0 828.8V825.9M626.2 828.5V826.1M720.1 820.0V817.0M724.2 819.6V816.9M727.5 819.3V815.9M735.7 818.5V816.0M738.5 818.2V815.2M743.5 817.7V814.3M746.5 817.4V813.9M749.9 817.1V812.7M757.2 816.4V811.8M760.5 816.0V811.4M763.5 815.7V811.7M768.4 815.1V811.6M771.4 814.6V811.5M776.0 813.8V808.5M780.4 813.0V808.8M785.1 812.2V806.5M787.4 811.8V805.9M791.1 811.2V806.5M794.5 810.6V806.1M797.3 810.1V805.2M801.1 809.5V807.1M803.5 809.1V806.1M807.8 808.3V804.5M811.5 807.7V803.2M815.6 807.0V803.9M817.9 806.6V800.2M821.8 805.9V800.6M825.4 805.3V799.8M828.8 804.8V800.0M832.3 804.5V801.6M839.0 803.8V797.6M844.0 803.3V799.9M852.7 802.4V797.1M856.7 801.9V794.7M861.2 801.5V794.2M865.9 801.0V793.3M870.1 800.6V794.1M873.6 800.2V794.0M876.0 800.0V792.6M879.0 799.7V791.3M883.8 799.2V790.8M886.3 798.9V795.0M889.5 798.6V792.7M894.2 798.1V794.3M897.9 797.7V789.8M900.5 797.4V791.2M904.2 797.1V790.1M908.3 796.6V790.3M915.5 795.9V788.2M920.0 795.5V792.0M923.6 795.1V790.5M930.9 794.3V788.6M935.4 793.9V788.3M939.1 793.5V790.9M944.0 793.0V787.7M947.5 792.7V788.1M950.4 792.4V786.4M952.8 792.2V784.3M957.4 791.8V782.8M962.1 791.4V782.8M966.0 791.0V781.1M975.9 790.1V784.3M979.6 789.8V786.6M984.1 789.4V782.5M987.9 789.0V784.3M990.9 788.7V776.7M995.6 788.2V781.7M998.2 788.0V782.4M1001.8 787.6V785.3M1004.6 787.3V776.8M1010.3 786.7V779.1M1016.6 786.1V776.8M1021.4 785.6V774.2M1025.4 785.2V776.8M1028.6 784.8V779.9M1034.7 784.2V774.8M1037.9 783.9V773.6M1041.1 783.5V774.5M1044.3 783.2V773.2M1049.3 782.7V779.8M1053.2 782.3V771.4M1063.8 781.2V769.2M1067.2 780.8V769.1M1071.7 780.3V768.7M1074.3 780.1V766.5M1079.2 778.7V766.9M1083.4 777.5V772.6M1091.6 775.1V761.5M1096.8 773.6V766.4M1101.1 773.9V760.0M1104.8 774.2V768.3M1109.5 774.6V761.7M1112.4 774.9V768.9M1115.9 775.2V767.6M1118.2 775.4V764.7M1120.8 775.7V767.5M1124.1 776.1V763.8M1127.6 776.5V763.3M1131.2 776.9V764.3M1133.4 777.1V768.0M1137.4 777.6V764.3M1140.8 778.0V765.6M1143.3 778.2V769.0M1146.0 778.5V765.6M1149.7 778.8V766.5M1154.7 779.2V770.9M1159.6 779.7V772.5M1161.7 779.9V770.2M1166.9 780.8V771.7M1170.3 781.5V772.4M1174.0 782.2V775.6M1177.6 783.0V776.6M1182.3 783.9V774.1M1185.0 784.5V776.9M1188.1 784.5V776.0M1191.8 784.5V779.0M1196.3 784.5V780.3M1200.4 784.5V775.7M1203.8 784.5V775.1M1206.8 784.5V780.7M1210.2 782.1V775.3M1212.4 780.4V771.5M1216.7 777.2V768.9M1221.7 773.5V767.7M1224.1 771.7V768.5M1239.3 766.6V762.0M1242.0 769.7V763.7M1262.4 771.4V766.5M1265.7 774.7V769.0M1268.2 777.2V773.2M1272.3 781.3V773.4M1275.6 783.3V774.3M1278.0 784.5V775.5M1283.9 787.4V784.3M1287.7 789.4V786.2M1292.0 791.5V785.4M1296.8 792.3V784.7M1301.1 790.6V783.8M1303.8 789.6V781.1M1306.9 788.4V785.8M1310.1 787.2V778.2M1314.9 785.3V777.8M1319.1 783.9V779.7M1323.6 782.6V778.2M1328.6 781.2V777.3M1332.2 776.7V771.2M1425.8 803.4V800.6M1428.6 805.0V801.3M1431.4 805.0V800.7M1436.2 805.0V802.3M1438.8 805.0V798.8M1443.7 804.3V799.2M1447.0 803.0V796.7M1451.9 801.0V795.6M1455.0 800.1V798.0M1464.0 799.2V795.4M1467.8 798.8V794.6M1470.6 798.5V793.3M1474.7 798.1V792.9M1478.3 797.8V793.0M1481.8 797.4V793.9M1485.6 797.0V793.3M1489.4 796.6V791.3M1498.5 795.2V789.9M1501.4 794.8V788.3M1504.1 794.4V787.9M1509.1 793.6V786.0M1513.2 793.0V785.8M1518.0 792.3V786.1M1520.9 791.9V783.5M1523.9 791.4V785.8M1526.3 791.1V782.6M1529.0 790.7V784.2M1532.3 790.2V787.1M1535.3 789.7V785.7M1540.2 789.0V779.8M1545.0 788.2V779.7M1548.5 787.7V774.5M1550.7 787.4V775.6M1555.4 786.7V778.8M1559.9 785.5V773.9M1564.0 784.3V775.0M1578.3 780.0V763.2M1582.9 778.7V764.0M1587.0 777.5V767.9M1590.1 776.6V767.3M1594.1 776.9V765.6M1597.4 777.6V766.3M1601.0 778.3V762.5M1603.9 778.9V774.8M1606.9 779.5V766.0M1611.4 780.4V770.3M1616.4 781.5V766.2M1621.2 782.4V770.4M1626.2 783.2V771.6M1628.9 783.2V770.3M1633.2 783.2V766.7M1636.0 783.2V763.6M1638.7 783.2V771.2M1641.6 783.2V767.1M1645.2 783.2V766.8M1650.0 783.2V766.1M1654.3 783.2V764.7M1658.6 783.2V778.6M1663.5 782.7V768.4M1667.1 782.4V772.9M1669.7 782.1V770.5M1671.8 781.9V772.7M1675.9 781.5V772.7M1679.0 781.1V769.2M1681.7 780.9V774.1M1684.4 780.6V766.4M1688.3 780.2V769.8M1692.5 779.7V766.8M1699.6 781.0V771.3M1701.8 781.5V775.2M1704.8 782.1V775.5M1708.7 782.9V771.1M1711.2 783.4V778.2M1714.2 784.0V776.9M1717.5 784.7V781.1M1720.1 785.2V775.7M1724.1 786.0V776.4M1726.7 786.5V778.5M1731.1 787.8V778.7M1734.8 788.9V783.1M1738.3 789.9V783.4M1746.2 792.2V787.0M1749.3 793.1V787.8M1754.2 796.6V792.0M1757.9 799.5V796.2M1761.3 802.0V792.7M1765.9 802.8V794.9M1769.3 803.3V796.9M1772.6 803.8V796.0M1777.5 804.5V798.3M1782.2 806.4V803.6M1786.0 808.1V801.3M1788.3 809.1V803.0M1791.4 810.5V803.5M1796.1 812.6V806.3M1799.7 814.2V807.4M1802.1 815.2V808.0M1805.6 816.8V812.7M1808.4 817.6V814.9M1815.8 818.7V814.6M1818.8 819.2V813.3M1821.8 819.6V816.2M1826.8 820.4V816.3M1831.4 821.1V816.2M1835.6 821.7V816.9M1840.6 822.2V817.9M1850.0 823.1V820.8M1854.9 823.6V820.5M1857.9 823.9V821.8M1861.5 824.2V821.2M1865.2 824.9V821.3M1868.4 825.6V821.7M1872.9 826.7V822.8M1877.8 827.8V823.1M1881.7 828.7V825.0M1884.8 829.4V822.6M1889.1 830.4V824.4M1897.7 831.1V823.9M1901.9 831.3V824.1M1906.4 831.6V825.5M1908.7 831.7V826.2M1913.2 831.9V828.1M1920.4 832.2V828.9M1924.5 832.4V826.2M1929.1 832.7V827.5M1931.3 832.8V828.8M1935.2 833.0V827.2M1938.1 833.1V828.0M1941.6 833.3V826.8M1944.9 833.4V827.2M1949.9 833.6V829.6M1953.3 833.7V828.1M1956.8 833.8V828.9M1960.3 833.9V828.2M1962.9 833.9V830.0M1967.3 834.1V830.6M1976.1 834.3V829.3M1978.7 834.3V829.4M1982.6 834.4V830.9M1985.0 834.5V831.3M1989.5 834.6V832.2M1992.3 834.6V831.7M1997.0 834.8V830.7M1999.8 834.8V831.0M2004.8 834.9V832.4M2009.6 835.0V832.4M2013.9 835.1V832.2M405.3 836.3V839.5M408.7 836.2V838.7M412.6 836.2V838.3M415.3 836.2V838.6M418.8 836.1V839.6M421.9 836.1V839.4M427.9 836.0V838.2M430.9 836.0V839.6M437.1 835.9V838.5M441.7 835.9V839.3M444.7 835.8V838.1M450.3 835.8V838.8M456.0 835.7V838.9M459.3 835.7V838.3M462.2 835.6V837.8M466.3 835.6V839.9M471.2 835.5V838.7M477.5 835.5V838.7M481.2 835.4V838.8M487.3 835.4V838.2M491.5 835.3V839.1M496.1 835.3V839.0M500.7 835.2V837.6M506.0 835.2V838.5M511.3 835.1V837.7M514.8 835.1V837.5M519.5 835.0V837.3M523.5 835.0V838.8M529.6 834.8V836.9M534.9 834.6V837.7M540.5 834.5V837.9M545.3 834.3V838.7M548.8 834.2V836.3M552.8 834.1V838.2M556.0 834.0V837.6M560.5 833.9V838.2M564.1 833.8V836.6M567.7 833.7V836.8M573.1 833.5V837.7M579.4 833.3V837.4M584.4 833.2V837.2M587.8 833.1V836.5M591.1 833.0V837.4M596.3 832.8V836.4M601.7 832.6V837.2M604.8 832.6V837.3M610.6 832.4V837.2M613.6 832.3V835.0M616.8 832.2V834.2M620.9 832.1V834.7M625.8 831.9V835.4M630.4 831.8V835.8M634.0 831.7V835.6M638.2 831.6V833.9M643.2 831.4V835.9M646.7 831.3V834.5M651.1 831.1V834.1M653.9 831.0V833.6M659.9 830.8V833.1M662.8 830.6V834.9M667.3 830.5V834.0M671.2 830.3V832.6M674.9 830.2V832.4M680.9 829.9V831.9M684.0 829.8V832.8M690.2 829.5V834.3M694.2 829.4V832.8M697.5 829.3V832.2M700.5 829.1V833.5M705.9 828.9V832.1M710.2 828.7V831.4M716.1 828.5V831.4M719.5 828.4V831.4M725.2 828.1V832.9M730.2 827.9V830.5M735.8 827.7V832.5M740.1 827.5V831.7M744.7 827.4V830.7M750.0 827.1V829.9M755.3 826.9V829.9M759.6 826.8V829.9M765.3 826.5V828.8M768.6 826.3V830.6M772.0 826.0V830.2M776.4 825.7V829.4M780.0 825.4V827.4M786.2 824.9V829.7M789.2 824.7V828.6M793.6 824.3V829.1M797.6 824.0V828.1M802.1 823.7V826.3M806.9 823.3V826.5M812.1 822.9V827.6M817.8 822.4V824.5M822.0 822.1V824.1M827.4 821.7V823.9M832.6 821.0V825.0M836.2 820.5V825.0M842.4 819.7V824.1M848.7 818.9V823.1M853.5 818.3V823.0M858.5 817.7V820.7M862.6 817.2V819.6M868.0 816.5V819.0M874.3 815.7V819.0M879.3 815.0V819.3M884.9 814.3V817.3M888.1 813.9V818.4M891.6 813.5V817.1M894.7 813.1V815.8M898.8 812.6V817.3M903.2 812.4V816.0M909.4 812.4V816.0M912.1 812.4V817.1M918.0 812.4V815.0M923.9 812.4V816.7M928.5 812.4V817.0M932.1 812.4V814.6M938.2 812.4V816.4M941.6 812.4V816.0M945.3 812.3V816.3M950.1 812.1V814.2M954.8 811.9V815.9M960.9 811.6V815.3M966.7 811.3V813.3M970.1 811.1V813.5M973.9 810.9V815.1M977.5 810.7V813.4M980.4 810.6V814.5M986.0 810.3V812.7M990.3 810.2V814.5M994.5 810.2V813.5M999.9 810.2V812.5M1005.6 810.2V812.6M1011.1 810.2V815.2M1015.6 810.2V814.3M1021.0 810.2V815.1M1025.8 810.2V813.2M1028.6 810.2V812.5M1033.2 810.1V814.9M1036.5 810.0V813.2M1039.7 809.8V814.0M1044.4 809.6V813.1M1050.6 809.2V813.9M1055.9 809.0V811.6M1062.2 808.7V812.0M1066.2 808.4V811.1M1072.4 808.1V812.6M1075.8 807.7V809.7M1079.7 806.1V809.8M1083.4 804.6V807.9M1088.6 802.6V804.9M1092.1 801.2V804.6M1096.7 799.3V803.7M1101.7 799.7V804.1M1106.6 800.2V802.5M1111.5 800.6V804.3M1117.5 801.2V804.3M1121.6 801.9V805.7M1125.0 802.6V805.9M1129.9 803.6V808.2M1133.9 804.4V808.6M1140.1 805.6V808.5M1143.2 806.2V809.0M1146.2 806.8V810.1M1151.4 807.9V810.8M1157.6 809.1V813.3M1160.9 809.8V812.9M1165.5 810.4V813.9M1169.7 810.9V813.1M1174.3 811.3V814.0M1179.8 811.9V815.7M1185.0 812.4V817.0M1190.7 811.8V815.1M1194.8 811.4V813.9M1198.8 811.0V813.8M1203.6 810.5V813.6M1206.9 810.2V814.5M1212.4 806.2V808.4M1215.9 803.7V807.2M1219.7 800.9V804.2M1225.3 796.4V799.2M1230.2 786.3V789.0M1236.1 783.3V785.4M1239.7 788.5V791.0M1245.1 785.1V789.5M1250.4 778.3V781.3M1254.0 776.2V779.2M1259.1 782.4V787.2M1262.6 786.8V791.4M1267.9 793.1V795.8M1273.2 799.3V802.0M1278.6 802.0V805.3M1282.1 803.8V807.9M1285.2 805.3V807.7M1291.2 808.3V812.9M1296.4 809.9V814.0M1299.7 809.3V812.4M1305.5 808.1V812.4M1310.3 807.1V811.6M1314.4 806.3V810.9M1317.7 805.4V810.1M1323.1 802.4V805.8M1327.6 799.9V802.3M1331.5 796.5V800.7M1334.8 791.8V795.5M1339.6 785.2V787.3M1344.4 778.4V781.4M1348.7 773.2V778.0M1354.0 767.9V770.3M1357.7 764.2V768.4M1360.6 761.3V763.7M1364.9 755.2V758.6M1370.6 742.7V747.0M1374.4 729.7V731.8M1377.5 717.2V719.5M1380.3 706.3V709.3M1383.8 699.2V701.5M1388.1 690.7V693.9M1393.7 729.3V733.5M1396.5 745.1V747.8M1399.2 758.4V761.1M1404.5 779.2V781.3M1410.2 792.1V795.7M1415.5 800.0V803.7M1420.4 806.2V810.8M1425.9 809.7V814.4M1428.7 811.5V814.4M1434.1 814.9V819.2M1439.8 817.3V820.8M1444.4 818.2V821.9M1449.6 819.2V824.1M1455.5 820.1V823.1M1460.9 820.1V823.2M1465.6 820.1V823.8M1471.0 820.1V823.6M1476.6 820.1V825.0M1482.8 820.1V822.2M1487.5 820.1V823.6M1492.1 819.5V823.6M1496.8 818.8V821.4M1500.1 818.3V822.9M1506.2 817.4V821.1M1509.6 816.9V819.2M1513.4 816.3V818.6M1516.8 815.8V819.4M1519.9 815.3V819.0M1525.3 814.8V818.7M1528.7 814.7V819.5M1532.1 814.5V817.2M1535.8 814.3V819.2M1540.3 814.1V817.3M1544.8 813.9V816.1M1547.7 813.7V817.6M1552.0 813.5V816.1M1558.1 813.2V817.8M1564.3 812.9V817.0M1568.0 812.7V816.0M1571.1 812.6V816.0M1574.4 812.4V816.7M1580.0 812.1V814.5M1584.1 811.9V815.8M1587.2 811.8V815.4M1592.6 811.6V814.3M1598.2 811.6V814.1M1602.7 811.6V815.8M1607.1 811.6V815.8M1610.9 811.6V815.7M1615.7 811.6V815.1M1618.4 811.6V815.7M1622.6 811.6V815.1M1626.1 811.7V815.8M1630.2 811.9V814.4M1634.8 812.1V816.3M1640.5 812.4V817.3M1646.5 812.7V815.1M1651.9 812.9V816.7M1657.2 813.2V816.4M1660.8 813.4V816.3M1665.6 813.6V817.9M1671.6 813.9V817.7M1675.6 814.1V816.4M1678.5 814.3V816.6M1684.8 814.6V818.6M1689.9 814.8V818.0M1693.9 815.0V820.0M1699.6 815.3V818.1M1702.4 815.5V820.4M1706.0 815.6V818.5M1708.9 815.8V818.6M1712.6 816.0V820.7M1718.3 816.3V820.9M1723.1 816.5V819.2M1726.8 816.7V821.5M1729.9 817.5V821.7M1734.4 818.8V821.8M1737.9 819.8V824.5M1742.4 821.1V825.6M1748.1 822.7V825.5M1751.8 823.4V826.3M1756.7 823.6V828.5M1762.6 823.9V827.5M1766.7 824.1V828.4M1771.3 824.4V827.3M1774.7 824.5V828.8M1780.8 824.8V829.4M1783.5 825.0V829.3M1786.9 825.1V828.8M1793.1 825.4V829.3M1796.7 825.6V829.7M1801.3 825.8V828.4M1806.6 826.1V828.4M1811.9 826.6V829.3M1815.5 827.0V830.6M1819.7 827.4V831.3M1823.9 827.8V829.8M1826.8 828.1V832.4M1832.4 828.6V833.1M1838.5 829.3V832.1M1841.6 829.6V832.2M1845.1 829.9V834.0M1850.2 830.4V833.9M1853.4 830.7V833.3M1857.0 831.1V835.0M1863.2 831.7V836.7M1868.4 832.0V834.5M1873.3 832.3V836.9M1876.2 832.4V836.3M1882.1 832.7V834.8M1887.3 833.0V835.7M1891.0 833.2V836.9M1894.6 833.3V838.2M1899.0 833.4V835.4M1904.8 833.5V837.9M1910.8 833.7V835.9M1914.7 833.8V836.5M1917.8 833.9V836.3M1922.2 834.0V836.9M1926.2 834.1V837.1M1932.1 834.2V837.9M1935.9 834.3V837.9M1941.6 834.4V836.7M1947.4 834.6V836.6M1950.3 834.6V837.5M1953.3 834.7V836.9M1959.5 834.8V838.6M1962.3 834.9V837.4M1966.4 835.0V837.5M1972.1 835.1V838.5M1976.0 835.2V839.6M1979.1 835.2V838.9M1982.3 835.3V838.4M1985.8 835.4V839.2M1989.6 835.5V838.4M1992.9 835.5V839.1M1998.5 835.6V838.2M2004.3 835.8V839.6M2009.7 835.9V839.6M2015.4 836.0V839.3M1627.3 785.0V746.2" stroke="#fa0000" stroke-width="2.6" fill="none"/>
<polygon points="401.5,1213.9 403.1,1214.0 404.7,1214.2 406.3,1213.4 407.9,1213.9 409.5,1214.3 411.1,1214.3 412.7,1213.1 414.3,1213.8 415.9,1213.7 417.5,1213.5 419.1,1214.3 420.7,1213.5 422.3,1213.3 423.9,1214.2 425.5,1213.6 427.1,1213.0 428.7,1212.9 430.3,1213.2 431.9,1212.4 433.5,1213.4 435.1,1213.6 436.7,1213.0 438.3,1213.8 439.9,1213.9 441.5,1213.2 443.1,1213.4 444.7,1212.2 446.3,1212.0 447.9,1213.9 449.5,1212.4 451.1,1212.3 452.7,1213.7 454.3,1213.3 455.9,1212.0 457.5,1212.3 459.1,1212.1 460.7,1212.2 462.3,1211.5 463.9,1212.7 465.5,1212.1 467.1,1212.3 468.7,1211.8 470.3,1211.6 471.9,1211.4 473.5,1213.3 475.1,1213.0 476.7,1212.5 478.3,1211.4 479.9,1211.5 481.5,1211.3 483.1,1211.8 484.7,1211.1 486.3,1211.6 487.9,1211.3 489.5,1211.2 491.1,1212.3 492.7,1211.7 494.3,1211.6 495.9,1211.2 497.5,1211.6 499.1,1212.2 500.7,1210.7 502.3,1209.9 503.9,1211.0 505.5,1210.6 507.1,1211.8 508.7,1209.5 510.3,1211.9 511.9,1209.0 513.5,1210.6 515.1,1210.2 516.7,1209.6 518.3,1211.6 519.9,1210.9 521.5,1208.8 523.1,1209.9 524.7,1210.2 526.3,1207.9 527.9,1208.0 529.5,1209.9 531.1,1210.3 532.7,1209.2 534.3,1208.9 535.9,1209.2 537.5,1208.0 539.1,1210.6 540.7,1210.8 542.3,1208.6 543.9,1206.5 545.5,1208.1 547.1,1209.8 548.7,1207.4 550.3,1206.2 551.9,1206.4 553.5,1208.8 555.1,1208.2 556.7,1206.3 558.3,1207.8 559.9,1208.4 561.5,1209.2 563.1,1208.4 564.7,1206.2 566.3,1207.9 567.9,1208.4 569.5,1207.9 571.1,1207.2 572.7,1206.2 574.3,1205.6 575.9,1207.2 577.5,1206.0 579.1,1206.4 580.7,1203.8 582.3,1203.0 583.9,1203.8 585.5,1205.3 587.1,1205.2 588.7,1203.2 590.3,1203.1 591.9,1206.8 593.5,1202.3 595.1,1206.5 596.7,1205.6 598.3,1204.5 599.9,1206.6 601.5,1204.9 603.1,1201.4 604.7,1206.0 606.3,1203.3 607.9,1205.7 609.5,1205.1 611.1,1201.6 612.7,1201.1 614.3,1200.9 615.9,1204.6 617.5,1204.5 619.1,1201.6 620.7,1200.9 622.3,1201.9 623.9,1203.9 625.5,1203.4 627.1,1203.9 628.7,1204.2 630.3,1202.9 631.9,1203.1 633.5,1198.8 635.1,1198.6 636.7,1202.7 638.3,1201.3 639.9,1199.6 641.5,1198.4 643.1,1199.3 644.7,1199.1 646.3,1199.7 647.9,1199.3 649.5,1197.9 651.1,1197.3 652.7,1197.8 654.3,1197.3 655.9,1197.1 657.5,1198.6 659.1,1197.1 660.7,1200.4 662.3,1199.0 663.9,1198.5 665.5,1199.4 667.1,1197.3 668.7,1196.1 670.3,1196.3 671.9,1197.5 673.5,1197.6 675.1,1197.0 676.7,1197.2 678.3,1199.7 679.9,1195.5 681.5,1197.6 683.1,1197.2 684.7,1196.6 686.3,1198.8 687.9,1196.2 689.5,1195.2 691.1,1195.7 692.7,1199.7 694.3,1196.5 695.9,1195.3 697.5,1199.5 699.1,1197.8 700.7,1199.2 702.3,1195.9 703.9,1198.2 705.5,1194.2 707.1,1195.0 708.7,1197.6 710.3,1196.0 711.9,1197.3 713.5,1195.1 715.1,1197.4 716.7,1193.2 718.3,1195.8 719.9,1193.5 721.5,1193.3 723.1,1196.6 724.7,1194.2 726.3,1195.9 727.9,1193.1 729.5,1195.2 731.1,1195.9 732.7,1194.4 734.3,1192.2 735.9,1194.3 737.5,1195.5 739.1,1194.6 740.7,1192.5 742.3,1191.8 743.9,1189.8 745.5,1192.7 747.1,1189.2 748.7,1189.0 750.3,1187.6 751.9,1187.7 753.5,1188.4 755.1,1188.4 756.7,1186.4 758.3,1187.1 759.9,1188.3 761.5,1184.8 763.1,1184.9 764.7,1186.6 766.3,1188.4 767.9,1188.3 769.5,1186.4 771.1,1183.8 772.7,1187.6 774.3,1188.0 775.9,1187.4 777.5,1185.4 779.1,1184.5 780.7,1185.4 782.3,1186.2 783.9,1187.1 785.5,1184.4 787.1,1184.3 788.7,1183.2 790.3,1184.2 791.9,1184.0 793.5,1182.6 795.1,1183.3 796.7,1185.4 798.3,1181.8 799.9,1181.8 801.5,1181.8 803.1,1184.4 804.7,1181.4 806.3,1183.8 807.9,1184.0 809.5,1183.5 811.1,1183.0 812.7,1179.7 814.3,1180.7 815.9,1182.4 817.5,1179.3 819.1,1180.8 820.7,1182.0 822.3,1182.0 823.9,1178.9 825.5,1177.5 827.1,1176.9 828.7,1178.1 830.3,1179.0 831.9,1177.4 833.5,1179.9 835.1,1178.8 836.7,1178.5 838.3,1179.3 839.9,1176.6 841.5,1177.9 843.1,1176.2 844.7,1175.7 846.3,1174.6 847.9,1177.7 849.5,1178.1 851.1,1173.4 852.7,1176.5 854.3,1173.0 855.9,1174.4 857.5,1173.6 859.1,1176.2 860.7,1173.5 862.3,1173.6 863.9,1172.5 865.5,1171.7 867.1,1171.3 868.7,1170.1 870.3,1169.5 871.9,1171.9 873.5,1172.5 875.1,1171.8 876.7,1169.5 878.3,1172.8 879.9,1167.9 881.5,1169.4 883.1,1168.5 884.7,1167.5 886.3,1171.0 887.9,1169.5 889.5,1166.3 891.1,1166.2 892.7,1169.0 894.3,1166.5 895.9,1165.8 897.5,1165.5 899.1,1165.3 900.7,1166.4 902.3,1164.8 903.9,1166.0 905.5,1163.2 907.1,1165.3 908.7,1165.4 910.3,1163.9 911.9,1166.4 913.5,1166.5 915.1,1165.0 916.7,1163.6 918.3,1162.1 919.9,1164.2 921.5,1162.4 923.1,1161.6 924.7,1163.2 926.3,1161.3 927.9,1163.3 929.5,1163.8 931.1,1159.8 932.7,1162.7 934.3,1160.3 935.9,1160.9 937.5,1162.6 939.1,1163.6 940.7,1160.2 942.3,1162.2 943.9,1160.0 945.5,1162.7 947.1,1158.7 948.7,1161.0 950.3,1157.9 951.9,1160.2 953.5,1161.1 955.1,1161.9 956.7,1161.1 958.3,1159.9 959.9,1159.1 961.5,1160.2 963.1,1160.2 964.7,1160.0 966.3,1160.4 967.9,1160.5 969.5,1161.4 971.1,1159.8 972.7,1161.0 974.3,1160.2 975.9,1158.4 977.5,1160.4 979.1,1158.2 980.7,1160.4 982.3,1160.6 983.9,1160.6 985.5,1160.6 987.1,1159.5 988.7,1158.4 990.3,1157.3 991.9,1159.0 993.5,1160.2 995.1,1157.5 996.7,1156.7 998.3,1159.4 999.9,1160.1 1001.5,1156.3 1003.1,1155.7 1004.7,1155.4 1006.3,1157.3 1007.9,1158.5 1009.5,1155.3 1011.1,1157.8 1012.7,1153.9 1014.3,1154.4 1015.9,1155.9 1017.5,1156.7 1019.1,1155.2 1020.7,1155.9 1022.3,1154.0 1023.9,1153.9 1025.5,1154.4 1027.1,1151.5 1028.7,1152.3 1030.3,1152.8 1031.9,1154.1 1033.5,1151.6 1035.1,1151.5 1036.7,1155.0 1038.3,1153.1 1039.9,1151.6 1041.5,1153.3 1043.1,1152.7 1044.7,1152.9 1046.3,1151.4 1047.9,1151.4 1049.5,1148.6 1051.1,1150.0 1052.7,1149.6 1054.3,1148.7 1055.9,1149.0 1057.5,1151.3 1059.1,1147.8 1060.7,1147.0 1062.3,1147.8 1063.9,1146.7 1065.5,1145.8 1067.1,1150.0 1068.7,1147.9 1070.3,1145.0 1071.9,1147.3 1073.5,1145.4 1075.1,1146.9 1076.7,1149.2 1078.3,1149.4 1079.9,1146.5 1081.5,1148.4 1083.1,1147.0 1084.7,1144.9 1086.3,1146.5 1087.9,1148.6 1089.5,1148.4 1091.1,1148.1 1092.7,1149.4 1094.3,1146.4 1095.9,1148.0 1097.5,1148.6 1099.1,1149.1 1100.7,1148.9 1102.3,1148.9 1103.9,1146.2 1105.5,1146.4 1107.1,1147.6 1108.7,1145.1 1110.3,1146.0 1111.9,1146.4 1113.5,1145.5 1115.1,1145.4 1116.7,1147.8 1118.3,1146.0 1119.9,1144.8 1121.5,1148.5 1123.1,1149.2 1124.7,1145.6 1126.3,1147.9 1127.9,1144.9 1129.5,1145.6 1131.1,1145.5 1132.7,1148.2 1134.3,1148.1 1135.9,1149.7 1137.5,1149.2 1139.1,1150.0 1140.7,1150.9 1142.3,1149.8 1143.9,1148.3 1145.5,1148.3 1147.1,1152.0 1148.7,1152.2 1150.3,1151.6 1151.9,1153.2 1153.5,1152.4 1155.1,1150.3 1156.7,1149.2 1158.3,1150.3 1159.9,1152.7 1161.5,1152.4 1163.1,1147.9 1164.7,1147.9 1166.3,1150.0 1167.9,1152.2 1169.5,1152.0 1171.1,1151.7 1172.7,1147.8 1174.3,1148.4 1175.9,1151.2 1177.5,1149.4 1179.1,1148.7 1180.7,1151.9 1182.3,1147.2 1183.9,1149.5 1185.5,1151.5 1187.1,1150.6 1188.7,1151.5 1190.3,1148.5 1191.9,1149.9 1193.5,1152.0 1195.1,1147.8 1196.7,1149.3 1198.3,1152.1 1199.9,1148.0 1201.5,1151.2 1203.1,1151.3 1204.7,1149.0 1206.3,1152.8 1207.9,1151.9 1209.5,1146.5 1211.1,1148.4 1212.7,1145.5 1214.3,1141.1 1215.9,1136.5 1217.5,1138.0 1219.1,1134.6 1220.7,1133.0 1222.3,1127.2 1223.9,1126.8 1225.5,1126.1 1227.1,1123.3 1228.7,1117.6 1230.3,1115.5 1231.9,1113.2 1233.5,1115.9 1235.1,1126.6 1236.7,1133.1 1238.3,1129.2 1239.9,1133.0 1241.5,1129.5 1243.1,1131.6 1244.7,1128.4 1246.3,1128.5 1247.9,1125.9 1249.5,1123.4 1251.1,1117.0 1252.7,1114.6 1254.3,1118.7 1255.9,1118.5 1257.5,1122.5 1259.1,1123.2 1260.7,1125.5 1262.3,1129.5 1263.9,1131.0 1265.5,1135.4 1267.1,1138.6 1268.7,1143.7 1270.3,1143.9 1271.9,1146.9 1273.5,1148.7 1275.1,1150.3 1276.7,1152.5 1278.3,1150.9 1279.9,1154.9 1281.5,1154.6 1283.1,1154.0 1284.7,1156.0 1286.3,1156.0 1287.9,1158.5 1289.5,1156.5 1291.1,1162.0 1292.7,1160.4 1294.3,1159.8 1295.9,1160.5 1297.5,1161.4 1299.1,1160.7 1300.7,1163.3 1302.3,1160.7 1303.9,1163.1 1305.5,1159.4 1307.1,1158.7 1308.7,1160.8 1310.3,1159.3 1311.9,1158.7 1313.5,1153.6 1315.1,1152.2 1316.7,1154.2 1318.3,1151.2 1319.9,1148.9 1321.5,1147.7 1323.1,1147.6 1324.7,1146.4 1326.3,1146.9 1327.9,1147.4 1329.5,1142.1 1331.1,1144.0 1332.7,1141.8 1334.3,1139.9 1335.9,1136.9 1337.5,1132.8 1339.1,1125.2 1340.7,1124.6 1342.3,1121.1 1343.9,1115.8 1345.5,1110.7 1347.1,1112.2 1348.7,1109.9 1350.3,1108.5 1351.9,1106.4 1353.5,1099.4 1355.1,1088.7 1356.7,1085.9 1358.3,1081.8 1359.9,1074.5 1361.5,1050.2 1363.1,1024.3 1364.7,1015.0 1366.3,1024.7 1367.9,1002.0 1369.5,981.5 1371.1,958.5 1372.7,972.7 1374.3,959.1 1375.9,878.1 1377.5,865.5 1379.1,861.6 1380.7,863.9 1382.3,812.7 1383.9,810.5 1385.5,755.9 1387.1,755.9 1388.7,794.3 1390.3,794.5 1391.9,856.3 1393.5,886.3 1395.1,1042.9 1396.7,1063.1 1398.3,1085.4 1399.9,1093.5 1401.5,1100.6 1403.1,1107.6 1404.7,1119.2 1406.3,1130.8 1407.9,1142.0 1409.5,1148.4 1411.1,1154.3 1412.7,1152.0 1414.3,1155.8 1415.9,1155.0 1417.5,1159.1 1419.1,1163.2 1420.7,1171.5 1422.3,1174.0 1423.9,1175.1 1425.5,1174.8 1427.1,1176.0 1428.7,1178.7 1430.3,1179.7 1431.9,1179.5 1433.5,1174.9 1435.1,1173.5 1436.7,1171.8 1438.3,1176.2 1439.9,1173.8 1441.5,1177.5 1443.1,1176.8 1444.7,1180.1 1446.3,1179.3 1447.9,1179.7 1449.5,1175.2 1451.1,1178.3 1452.7,1175.0 1454.3,1172.5 1455.9,1175.7 1457.5,1171.8 1459.1,1173.1 1460.7,1169.1 1462.3,1170.4 1463.9,1169.8 1465.5,1169.0 1467.1,1170.9 1468.7,1168.2 1470.3,1171.4 1471.9,1167.6 1473.5,1171.6 1475.1,1168.0 1476.7,1169.1 1478.3,1169.6 1479.9,1167.6 1481.5,1167.6 1483.1,1163.0 1484.7,1166.9 1486.3,1162.3 1487.9,1165.5 1489.5,1166.2 1491.1,1165.9 1492.7,1165.7 1494.3,1164.7 1495.9,1165.8 1497.5,1161.2 1499.1,1163.8 1500.7,1162.5 1502.3,1158.6 1503.9,1159.2 1505.5,1158.2 1507.1,1156.0 1508.7,1158.7 1510.3,1157.9 1511.9,1156.6 1513.5,1152.6 1515.1,1155.8 1516.7,1156.4 1518.3,1155.1 1519.9,1155.8 1521.5,1155.6 1523.1,1154.6 1524.7,1155.1 1526.3,1153.3 1527.9,1155.9 1529.5,1154.0 1531.1,1154.0 1532.7,1154.0 1534.3,1153.6 1535.9,1151.9 1537.5,1152.1 1539.1,1152.4 1540.7,1151.8 1542.3,1150.3 1543.9,1153.4 1545.5,1153.4 1547.1,1150.5 1548.7,1151.9 1550.3,1152.5 1551.9,1148.8 1553.5,1152.0 1555.1,1152.5 1556.7,1150.9 1558.3,1155.0 1559.9,1154.6 1561.5,1152.7 1563.1,1152.1 1564.7,1153.0 1566.3,1148.5 1567.9,1152.0 1569.5,1149.7 1571.1,1148.0 1572.7,1147.2 1574.3,1148.1 1575.9,1145.3 1577.5,1148.3 1579.1,1145.7 1580.7,1145.5 1582.3,1140.7 1583.9,1134.8 1585.5,1131.2 1587.1,1132.0 1588.7,1134.1 1590.3,1135.8 1591.9,1134.4 1593.5,1133.2 1595.1,1135.6 1596.7,1134.0 1598.3,1134.8 1599.9,1134.3 1601.5,1136.9 1603.1,1135.4 1604.7,1133.0 1606.3,1135.8 1607.9,1135.0 1609.5,1134.3 1611.1,1136.4 1612.7,1135.7 1614.3,1139.6 1615.9,1136.4 1617.5,1138.5 1619.1,1136.3 1620.7,1138.3 1622.3,1140.5 1623.9,1140.2 1625.5,1141.5 1627.1,1141.5 1628.7,1142.2 1630.3,1140.9 1631.9,1144.0 1633.5,1141.8 1635.1,1137.9 1636.7,1141.2 1638.3,1137.1 1639.9,1137.5 1641.5,1137.9 1643.1,1138.3 1644.7,1133.9 1646.3,1133.8 1647.9,1134.1 1649.5,1134.1 1651.1,1132.2 1652.7,1132.7 1654.3,1133.3 1655.9,1128.4 1657.5,1130.3 1659.1,1132.4 1660.7,1132.6 1662.3,1133.5 1663.9,1130.6 1665.5,1130.3 1667.1,1132.6 1668.7,1133.6 1670.3,1133.6 1671.9,1132.4 1673.5,1130.6 1675.1,1133.6 1676.7,1131.5 1678.3,1130.6 1679.9,1131.0 1681.5,1133.1 1683.1,1133.8 1684.7,1135.1 1686.3,1135.1 1687.9,1135.9 1689.5,1137.0 1691.1,1135.2 1692.7,1138.7 1694.3,1138.6 1695.9,1139.8 1697.5,1139.0 1699.1,1139.3 1700.7,1141.3 1702.3,1140.9 1703.9,1139.4 1705.5,1142.8 1707.1,1139.9 1708.7,1140.8 1710.3,1144.1 1711.9,1142.7 1713.5,1141.6 1715.1,1145.8 1716.7,1144.8 1718.3,1142.3 1719.9,1144.4 1721.5,1144.9 1723.1,1145.1 1724.7,1147.7 1726.3,1145.9 1727.9,1146.6 1729.5,1151.8 1731.1,1151.8 1732.7,1152.6 1734.3,1156.1 1735.9,1156.4 1737.5,1158.6 1739.1,1157.4 1740.7,1158.7 1742.3,1160.2 1743.9,1162.2 1745.5,1164.1 1747.1,1163.6 1748.7,1166.8 1750.3,1169.7 1751.9,1169.3 1753.5,1166.1 1755.1,1169.1 1756.7,1170.4 1758.3,1168.1 1759.9,1173.3 1761.5,1172.9 1763.1,1172.3 1764.7,1172.7 1766.3,1173.8 1767.9,1173.2 1769.5,1174.6 1771.1,1174.9 1772.7,1174.6 1774.3,1175.6 1775.9,1173.8 1777.5,1176.8 1779.1,1175.1 1780.7,1175.7 1782.3,1175.8 1783.9,1179.5 1785.5,1178.7 1787.1,1180.0 1788.7,1180.3 1790.3,1181.4 1791.9,1180.9 1793.5,1181.1 1795.1,1184.3 1796.7,1184.8 1798.3,1182.5 1799.9,1183.1 1801.5,1184.7 1803.1,1187.5 1804.7,1185.6 1806.3,1185.7 1807.9,1187.2 1809.5,1188.0 1811.1,1189.1 1812.7,1188.0 1814.3,1188.9 1815.9,1192.3 1817.5,1191.6 1819.1,1189.4 1820.7,1191.3 1822.3,1190.0 1823.9,1194.6 1825.5,1191.5 1827.1,1195.3 1828.7,1192.2 1830.3,1192.7 1831.9,1193.7 1833.5,1193.9 1835.1,1194.4 1836.7,1194.9 1838.3,1195.3 1839.9,1194.2 1841.5,1197.1 1843.1,1197.7 1844.7,1195.7 1846.3,1195.6 1847.9,1195.4 1849.5,1196.5 1851.1,1198.5 1852.7,1199.3 1854.3,1201.2 1855.9,1201.0 1857.5,1198.1 1859.1,1199.0 1860.7,1199.1 1862.3,1198.8 1863.9,1199.0 1865.5,1202.0 1867.1,1204.5 1868.7,1205.0 1870.3,1200.6 1871.9,1202.2 1873.5,1203.1 1875.1,1206.0 1876.7,1202.6 1878.3,1204.7 1879.9,1207.3 1881.5,1207.2 1883.1,1204.4 1884.7,1206.3 1886.3,1207.4 1887.9,1204.8 1889.5,1208.8 1891.1,1208.1 1892.7,1206.7 1894.3,1206.8 1895.9,1205.8 1897.5,1210.1 1899.1,1206.8 1900.7,1209.0 1902.3,1209.8 1903.9,1209.5 1905.5,1210.7 1907.1,1208.5 1908.7,1210.4 1910.3,1208.5 1911.9,1210.7 1913.5,1211.0 1915.1,1209.9 1916.7,1211.1 1918.3,1211.0 1919.9,1208.4 1921.5,1209.4 1923.1,1209.5 1924.7,1211.4 1926.3,1212.1 1927.9,1209.9 1929.5,1212.6 1931.1,1210.1 1932.7,1211.0 1934.3,1212.6 1935.9,1210.7 1937.5,1212.8 1939.1,1210.2 1940.7,1211.1 1942.3,1213.0 1943.9,1212.5 1945.5,1211.0 1947.1,1212.1 1948.7,1212.3 1950.3,1210.8 1951.9,1213.6 1953.5,1210.9 1955.1,1213.6 1956.7,1213.0 1958.3,1212.9 1959.9,1212.1 1961.5,1211.8 1963.1,1212.6 1964.7,1213.9 1966.3,1211.5 1967.9,1212.7 1969.5,1213.0 1971.1,1214.1 1972.7,1213.4 1974.3,1214.1 1975.9,1213.5 1977.5,1212.8 1979.1,1214.2 1980.7,1211.8 1982.3,1213.7 1983.9,1211.9 1985.5,1212.1 1987.1,1212.1 1988.7,1213.1 1990.3,1214.1 1991.9,1214.1 1993.5,1213.7 1995.1,1213.1 1996.7,1213.0 1998.3,1213.4 1999.9,1213.2 2001.5,1213.6 2003.1,1214.0 2004.7,1212.8 2006.3,1214.7 2007.9,1212.9 2009.5,1214.7 2011.1,1212.8 2012.7,1212.8 2014.3,1215.0 2015.9,1213.6 2016.0,1216.9 2014.4,1217.6 2012.8,1216.3 2011.2,1217.3 2009.6,1217.8 2008.0,1217.0 2006.4,1216.1 2004.8,1216.3 2003.2,1217.7 2001.6,1216.4 2000.0,1217.4 1998.4,1217.2 1996.8,1217.5 1995.2,1217.2 1993.6,1217.0 1992.0,1217.5 1990.4,1217.4 1988.8,1216.3 1987.2,1215.9 1985.6,1217.0 1984.0,1217.0 1982.4,1217.2 1980.8,1216.3 1979.2,1217.9 1977.6,1217.0 1976.0,1216.6 1974.4,1216.0 1972.8,1216.0 1971.2,1216.2 1969.6,1217.1 1968.0,1216.5 1966.4,1217.4 1964.8,1216.2 1963.2,1217.5 1961.6,1217.8 1960.0,1217.0 1958.4,1217.4 1956.8,1216.1 1955.2,1216.5 1953.6,1216.3 1952.0,1216.3 1950.4,1217.8 1948.8,1216.1 1947.2,1217.7 1945.6,1217.1 1944.0,1215.9 1942.4,1216.3 1940.8,1216.2 1939.2,1216.3 1937.6,1217.7 1936.0,1216.8 1934.4,1216.3 1932.8,1216.6 1931.2,1215.8 1929.6,1215.1 1928.0,1215.9 1926.4,1217.1 1924.8,1217.1 1923.2,1214.8 1921.6,1216.5 1920.0,1216.9 1918.4,1216.5 1916.8,1217.4 1915.2,1215.4 1913.6,1215.0 1912.0,1215.7 1910.4,1214.5 1908.8,1217.0 1907.2,1215.7 1905.6,1216.4 1904.0,1215.9 1902.4,1216.0 1900.8,1215.5 1899.2,1216.8 1897.6,1217.0 1896.0,1217.4 1894.4,1216.1 1892.8,1215.8 1891.2,1216.1 1889.6,1217.3 1888.0,1215.4 1886.4,1214.4 1884.8,1215.9 1883.2,1217.0 1881.6,1214.8 1880.0,1215.4 1878.4,1216.1 1876.8,1216.0 1875.2,1215.0 1873.6,1216.1 1872.0,1216.2 1870.4,1215.7 1868.8,1216.1 1867.2,1213.8 1865.6,1214.5 1864.0,1214.3 1862.4,1213.9 1860.8,1214.1 1859.2,1215.5 1857.6,1214.9 1856.0,1213.1 1854.4,1214.5 1852.8,1214.3 1851.2,1213.0 1849.6,1213.2 1848.0,1212.5 1846.4,1213.4 1844.8,1214.1 1843.2,1212.9 1841.6,1212.7 1840.0,1212.4 1838.4,1214.5 1836.8,1212.3 1835.2,1212.7 1833.6,1212.0 1832.0,1212.7 1830.4,1213.5 1828.8,1213.6 1827.2,1212.7 1825.6,1213.6 1824.0,1211.6 1822.4,1212.6 1820.8,1211.6 1819.2,1211.1 1817.6,1211.4 1816.0,1210.7 1814.4,1211.9 1812.8,1210.4 1811.2,1211.9 1809.6,1211.8 1808.0,1209.6 1806.4,1210.5 1804.8,1211.2 1803.2,1210.7 1801.6,1210.2 1800.0,1208.0 1798.4,1209.7 1796.8,1207.5 1795.2,1207.1 1793.6,1209.2 1792.0,1208.2 1790.4,1207.4 1788.8,1207.1 1787.2,1207.8 1785.6,1208.6 1784.0,1206.6 1782.4,1208.0 1780.8,1207.7 1779.2,1208.9 1777.6,1207.5 1776.0,1206.6 1774.4,1207.8 1772.8,1206.3 1771.2,1206.2 1769.6,1208.5 1768.0,1207.4 1766.4,1206.7 1764.8,1206.2 1763.2,1205.9 1761.6,1206.7 1760.0,1206.6 1758.4,1208.1 1756.8,1206.6 1755.2,1206.3 1753.6,1206.5 1752.0,1205.8 1750.4,1206.4 1748.8,1205.9 1747.2,1205.3 1745.6,1205.7 1744.0,1206.8 1742.4,1204.7 1740.8,1206.1 1739.2,1207.0 1737.6,1205.9 1736.0,1205.4 1734.4,1206.6 1732.8,1206.1 1731.2,1204.8 1729.6,1203.7 1728.0,1206.4 1726.4,1204.9 1724.8,1204.3 1723.2,1203.2 1721.6,1203.7 1720.0,1205.1 1718.4,1204.6 1716.8,1203.1 1715.2,1204.7 1713.6,1204.7 1712.0,1202.4 1710.4,1203.9 1708.8,1202.9 1707.2,1202.8 1705.6,1202.4 1704.0,1203.0 1702.4,1201.5 1700.8,1204.0 1699.2,1201.5 1697.6,1203.9 1696.0,1201.0 1694.4,1202.0 1692.8,1201.6 1691.2,1203.6 1689.6,1201.6 1688.0,1203.5 1686.4,1201.5 1684.8,1200.7 1683.2,1201.4 1681.6,1200.4 1680.0,1201.6 1678.4,1200.5 1676.8,1200.6 1675.2,1200.3 1673.6,1200.8 1672.0,1202.7 1670.4,1201.2 1668.8,1201.5 1667.2,1202.0 1665.6,1200.7 1664.0,1201.3 1662.4,1199.3 1660.8,1200.8 1659.2,1201.6 1657.6,1200.1 1656.0,1199.3 1654.4,1201.7 1652.8,1201.3 1651.2,1199.9 1649.6,1199.2 1648.0,1200.0 1646.4,1200.3 1644.8,1199.7 1643.2,1201.5 1641.6,1200.6 1640.0,1201.3 1638.4,1200.5 1636.8,1201.7 1635.2,1200.8 1633.6,1200.4 1632.0,1200.4 1630.4,1201.3 1628.8,1200.3 1627.2,1199.8 1625.6,1198.3 1624.0,1200.1 1622.4,1199.2 1620.8,1199.8 1619.2,1197.8 1617.6,1196.8 1616.0,1196.1 1614.4,1196.6 1612.8,1196.8 1611.2,1195.7 1609.6,1196.8 1608.0,1194.9 1606.4,1196.9 1604.8,1194.8 1603.2,1195.1 1601.6,1195.0 1600.0,1197.2 1598.4,1197.7 1596.8,1197.3 1595.2,1196.1 1593.6,1198.1 1592.0,1197.8 1590.4,1196.6 1588.8,1198.8 1587.2,1198.5 1585.6,1197.2 1584.0,1198.2 1582.4,1196.8 1580.8,1197.2 1579.2,1197.3 1577.6,1199.5 1576.0,1198.4 1574.4,1198.9 1572.8,1199.9 1571.2,1198.0 1569.6,1197.6 1568.0,1198.0 1566.4,1200.1 1564.8,1198.2 1563.2,1197.4 1561.6,1197.5 1560.0,1198.5 1558.4,1200.1 1556.8,1198.1 1555.2,1199.8 1553.6,1198.6 1552.0,1200.4 1550.4,1199.4 1548.8,1198.3 1547.2,1198.6 1545.6,1199.2 1544.0,1198.9 1542.4,1199.0 1540.8,1200.6 1539.2,1197.9 1537.6,1198.9 1536.0,1200.0 1534.4,1200.5 1532.8,1200.5 1531.2,1199.0 1529.6,1199.0 1528.0,1200.7 1526.4,1199.8 1524.8,1201.0 1523.2,1198.5 1521.6,1200.5 1520.0,1200.4 1518.4,1201.3 1516.8,1199.1 1515.2,1200.2 1513.6,1201.0 1512.0,1199.9 1510.4,1198.9 1508.8,1200.7 1507.2,1199.2 1505.6,1199.2 1504.0,1201.7 1502.4,1200.3 1500.8,1202.1 1499.2,1202.4 1497.6,1200.3 1496.0,1200.9 1494.4,1202.8 1492.8,1201.3 1491.2,1201.5 1489.6,1201.7 1488.0,1204.4 1486.4,1204.8 1484.8,1205.0 1483.2,1203.8 1481.6,1203.3 1480.0,1204.2 1478.4,1202.7 1476.8,1203.2 1475.2,1205.3 1473.6,1205.6 1472.0,1203.7 1470.4,1203.3 1468.8,1204.4 1467.2,1205.3 1465.6,1204.3 1464.0,1204.1 1462.4,1204.5 1460.8,1204.5 1459.2,1203.2 1457.6,1203.2 1456.0,1203.6 1454.4,1203.5 1452.8,1205.0 1451.2,1202.5 1449.6,1201.9 1448.0,1203.4 1446.4,1204.6 1444.8,1204.3 1443.2,1201.7 1441.6,1204.0 1440.0,1203.6 1438.4,1201.4 1436.8,1201.1 1435.2,1200.8 1433.6,1201.4 1432.0,1201.4 1430.4,1200.0 1428.8,1200.6 1427.2,1200.4 1425.6,1198.9 1424.0,1200.1 1422.4,1198.0 1420.8,1198.0 1419.2,1196.2 1417.6,1195.0 1416.0,1195.3 1414.4,1194.6 1412.8,1192.2 1411.2,1189.4 1409.6,1187.9 1408.0,1187.6 1406.4,1183.5 1404.8,1179.4 1403.2,1175.3 1401.6,1169.2 1400.0,1163.0 1398.4,1153.1 1396.8,1145.0 1395.2,1132.1 1393.6,1119.2 1392.0,1099.7 1390.4,1077.9 1388.8,1076.6 1387.2,1079.2 1385.6,1084.8 1384.0,1091.0 1382.4,1100.5 1380.8,1108.5 1379.2,1115.0 1377.6,1118.8 1376.0,1125.9 1374.4,1129.5 1372.8,1130.5 1371.2,1136.2 1369.6,1138.2 1368.0,1140.3 1366.4,1143.1 1364.8,1146.2 1363.2,1150.6 1361.6,1154.0 1360.0,1156.7 1358.4,1159.3 1356.8,1162.1 1355.2,1162.4 1353.6,1162.4 1352.0,1164.0 1350.4,1165.2 1348.8,1168.5 1347.2,1171.2 1345.6,1174.4 1344.0,1176.4 1342.4,1179.7 1340.8,1181.1 1339.2,1182.5 1337.6,1184.2 1336.0,1183.5 1334.4,1184.6 1332.8,1186.5 1331.2,1187.9 1329.6,1188.9 1328.0,1188.7 1326.4,1191.4 1324.8,1192.2 1323.2,1192.2 1321.6,1194.7 1320.0,1193.7 1318.4,1194.7 1316.8,1197.5 1315.2,1196.1 1313.6,1196.6 1312.0,1196.2 1310.4,1197.1 1308.8,1197.8 1307.2,1197.1 1305.6,1197.7 1304.0,1197.9 1302.4,1197.7 1300.8,1199.0 1299.2,1198.2 1297.6,1196.2 1296.0,1198.7 1294.4,1198.1 1292.8,1198.1 1291.2,1198.1 1289.6,1197.9 1288.0,1195.9 1286.4,1196.1 1284.8,1196.1 1283.2,1195.1 1281.6,1195.1 1280.0,1193.4 1278.4,1193.6 1276.8,1191.4 1275.2,1190.0 1273.6,1189.6 1272.0,1187.7 1270.4,1186.1 1268.8,1185.6 1267.2,1184.8 1265.6,1184.0 1264.0,1183.5 1262.4,1183.2 1260.8,1179.7 1259.2,1178.2 1257.6,1176.8 1256.0,1173.7 1254.4,1170.5 1252.8,1162.3 1251.2,1161.8 1249.6,1163.5 1248.0,1164.8 1246.4,1167.0 1244.8,1171.3 1243.2,1175.1 1241.6,1176.3 1240.0,1181.1 1238.4,1177.0 1236.8,1173.0 1235.2,1170.9 1233.6,1170.7 1232.0,1172.5 1230.4,1175.0 1228.8,1180.7 1227.2,1184.1 1225.6,1186.5 1224.0,1185.7 1222.4,1187.9 1220.8,1192.3 1219.2,1193.0 1217.6,1194.0 1216.0,1196.0 1214.4,1196.2 1212.8,1197.3 1211.2,1198.4 1209.6,1197.1 1208.0,1197.9 1206.4,1199.0 1204.8,1200.0 1203.2,1198.8 1201.6,1199.0 1200.0,1198.7 1198.4,1197.4 1196.8,1200.0 1195.2,1199.0 1193.6,1198.1 1192.0,1197.8 1190.4,1198.9 1188.8,1200.1 1187.2,1200.2 1185.6,1200.2 1184.0,1200.6 1182.4,1199.8 1180.8,1198.7 1179.2,1198.3 1177.6,1199.1 1176.0,1198.5 1174.4,1197.4 1172.8,1199.3 1171.2,1196.4 1169.6,1196.4 1168.0,1196.1 1166.4,1196.8 1164.8,1197.1 1163.2,1195.3 1161.6,1194.9 1160.0,1196.1 1158.4,1196.4 1156.8,1194.8 1155.2,1195.7 1153.6,1194.5 1152.0,1193.8 1150.4,1192.9 1148.8,1192.6 1147.2,1192.8 1145.6,1194.2 1144.0,1193.2 1142.4,1193.2 1140.8,1193.4 1139.2,1193.0 1137.6,1191.2 1136.0,1190.6 1134.4,1189.8 1132.8,1191.5 1131.2,1189.8 1129.6,1191.4 1128.0,1191.3 1126.4,1189.1 1124.8,1190.9 1123.2,1189.1 1121.6,1189.5 1120.0,1190.2 1118.4,1187.6 1116.8,1187.9 1115.2,1187.7 1113.6,1189.2 1112.0,1189.2 1110.4,1187.7 1108.8,1186.4 1107.2,1188.4 1105.6,1186.6 1104.0,1187.3 1102.4,1188.2 1100.8,1187.4 1099.2,1186.8 1097.6,1186.5 1096.0,1186.0 1094.4,1186.8 1092.8,1187.2 1091.2,1188.7 1089.6,1190.0 1088.0,1188.0 1086.4,1189.2 1084.8,1191.2 1083.2,1192.4 1081.6,1192.3 1080.0,1192.5 1078.4,1192.6 1076.8,1194.5 1075.2,1193.4 1073.6,1194.7 1072.0,1196.8 1070.4,1196.1 1068.8,1196.4 1067.2,1195.3 1065.6,1195.2 1064.0,1197.6 1062.4,1195.6 1060.8,1197.0 1059.2,1197.3 1057.6,1197.0 1056.0,1196.9 1054.4,1197.8 1052.8,1197.9 1051.2,1196.7 1049.6,1197.6 1048.0,1198.8 1046.4,1198.7 1044.8,1197.8 1043.2,1198.8 1041.6,1198.6 1040.0,1197.7 1038.4,1198.1 1036.8,1200.2 1035.2,1200.0 1033.6,1199.0 1032.0,1199.2 1030.4,1198.5 1028.8,1197.9 1027.2,1198.4 1025.6,1198.5 1024.0,1198.6 1022.4,1197.5 1020.8,1199.5 1019.2,1198.3 1017.6,1196.9 1016.0,1198.7 1014.4,1197.0 1012.8,1198.6 1011.2,1197.7 1009.6,1197.9 1008.0,1197.2 1006.4,1198.6 1004.8,1196.8 1003.2,1196.2 1001.6,1197.3 1000.0,1197.7 998.4,1196.1 996.8,1196.9 995.2,1197.4 993.6,1195.6 992.0,1197.9 990.4,1196.4 988.8,1197.0 987.2,1196.4 985.6,1198.0 984.0,1197.6 982.4,1197.1 980.8,1196.9 979.2,1198.3 977.6,1197.0 976.0,1196.8 974.4,1196.3 972.8,1198.9 971.2,1199.0 969.6,1198.9 968.0,1199.5 966.4,1197.9 964.8,1199.4 963.2,1198.6 961.6,1197.6 960.0,1198.0 958.4,1198.0 956.8,1198.0 955.2,1198.0 953.6,1198.3 952.0,1200.1 950.4,1197.5 948.8,1198.8 947.2,1199.8 945.6,1200.0 944.0,1197.8 942.4,1200.2 940.8,1198.8 939.2,1199.9 937.6,1199.8 936.0,1200.6 934.4,1200.9 932.8,1200.5 931.2,1198.8 929.6,1199.3 928.0,1199.3 926.4,1198.8 924.8,1199.4 923.2,1199.4 921.6,1201.7 920.0,1200.7 918.4,1201.6 916.8,1201.9 915.2,1201.7 913.6,1201.4 912.0,1200.3 910.4,1200.3 908.8,1200.7 907.2,1202.0 905.6,1200.5 904.0,1201.2 902.4,1202.1 900.8,1200.1 899.2,1201.9 897.6,1200.0 896.0,1200.8 894.4,1202.1 892.8,1202.2 891.2,1203.1 889.6,1202.2 888.0,1203.0 886.4,1202.8 884.8,1201.1 883.2,1203.4 881.6,1200.7 880.0,1202.8 878.4,1201.9 876.8,1201.4 875.2,1201.8 873.6,1203.0 872.0,1203.6 870.4,1202.4 868.8,1203.6 867.2,1202.1 865.6,1203.7 864.0,1204.0 862.4,1203.3 860.8,1202.4 859.2,1202.2 857.6,1201.8 856.0,1203.9 854.4,1204.0 852.8,1202.3 851.2,1202.1 849.6,1204.4 848.0,1204.2 846.4,1203.4 844.8,1201.9 843.2,1204.3 841.6,1202.7 840.0,1203.6 838.4,1202.7 836.8,1204.7 835.2,1204.1 833.6,1202.3 832.0,1204.4 830.4,1203.1 828.8,1204.8 827.2,1203.3 825.6,1204.2 824.0,1204.6 822.4,1203.8 820.8,1203.1 819.2,1203.9 817.6,1203.1 816.0,1205.4 814.4,1203.9 812.8,1203.1 811.2,1204.5 809.6,1204.5 808.0,1205.2 806.4,1204.6 804.8,1203.5 803.2,1203.4 801.6,1206.4 800.0,1205.3 798.4,1204.8 796.8,1204.3 795.2,1205.9 793.6,1206.3 792.0,1205.8 790.4,1204.6 788.8,1205.0 787.2,1206.8 785.6,1205.5 784.0,1206.4 782.4,1204.5 780.8,1206.3 779.2,1207.3 777.6,1207.3 776.0,1207.3 774.4,1206.0 772.8,1206.0 771.2,1206.6 769.6,1206.4 768.0,1207.1 766.4,1206.6 764.8,1208.2 763.2,1208.4 761.6,1206.9 760.0,1207.7 758.4,1208.5 756.8,1208.8 755.2,1207.3 753.6,1207.0 752.0,1206.2 750.4,1206.4 748.8,1207.8 747.2,1206.8 745.6,1207.8 744.0,1209.1 742.4,1207.5 740.8,1208.2 739.2,1209.6 737.6,1208.2 736.0,1209.3 734.4,1209.8 732.8,1207.9 731.2,1207.8 729.6,1209.4 728.0,1208.7 726.4,1208.0 724.8,1208.3 723.2,1209.4 721.6,1208.6 720.0,1209.6 718.4,1208.5 716.8,1208.5 715.2,1208.8 713.6,1210.3 712.0,1208.5 710.4,1208.5 708.8,1208.4 707.2,1210.2 705.6,1210.9 704.0,1209.1 702.4,1211.3 700.8,1210.5 699.2,1209.9 697.6,1209.9 696.0,1211.1 694.4,1210.4 692.8,1210.9 691.2,1209.3 689.6,1210.5 688.0,1211.2 686.4,1209.8 684.8,1209.8 683.2,1209.8 681.6,1209.5 680.0,1210.0 678.4,1209.8 676.8,1209.2 675.2,1210.5 673.6,1210.4 672.0,1211.1 670.4,1210.1 668.8,1212.2 667.2,1209.8 665.6,1210.9 664.0,1209.7 662.4,1210.9 660.8,1210.6 659.2,1210.9 657.6,1210.3 656.0,1210.8 654.4,1211.7 652.8,1210.7 651.2,1210.6 649.6,1210.2 648.0,1211.1 646.4,1210.6 644.8,1212.1 643.2,1211.6 641.6,1210.9 640.0,1212.3 638.4,1213.4 636.8,1212.0 635.2,1212.0 633.6,1212.5 632.0,1212.5 630.4,1213.9 628.8,1212.5 627.2,1211.2 625.6,1213.0 624.0,1213.0 622.4,1212.6 620.8,1213.3 619.2,1213.9 617.6,1212.9 616.0,1212.4 614.4,1211.8 612.8,1212.9 611.2,1213.6 609.6,1211.9 608.0,1214.6 606.4,1213.6 604.8,1212.8 603.2,1213.5 601.6,1214.1 600.0,1213.7 598.4,1213.2 596.8,1214.7 595.2,1214.4 593.6,1215.2 592.0,1213.5 590.4,1214.1 588.8,1212.7 587.2,1213.4 585.6,1214.9 584.0,1215.3 582.4,1215.2 580.8,1213.2 579.2,1213.6 577.6,1214.7 576.0,1215.5 574.4,1213.5 572.8,1213.3 571.2,1213.8 569.6,1213.9 568.0,1213.6 566.4,1213.3 564.8,1213.8 563.2,1215.7 561.6,1215.5 560.0,1215.6 558.4,1214.9 556.8,1214.9 555.2,1214.5 553.6,1214.3 552.0,1213.9 550.4,1213.5 548.8,1215.0 547.2,1214.6 545.6,1214.6 544.0,1216.3 542.4,1213.6 540.8,1213.9 539.2,1215.9 537.6,1215.0 536.0,1215.5 534.4,1215.5 532.8,1216.0 531.2,1216.3 529.6,1216.2 528.0,1215.8 526.4,1215.5 524.8,1214.3 523.2,1215.9 521.6,1215.5 520.0,1216.1 518.4,1214.2 516.8,1216.7 515.2,1216.6 513.6,1214.3 512.0,1216.7 510.4,1216.6 508.8,1214.2 507.2,1215.0 505.6,1215.6 504.0,1216.5 502.4,1216.5 500.8,1214.7 499.2,1216.4 497.6,1216.4 496.0,1214.6 494.4,1216.7 492.8,1215.3 491.2,1214.8 489.6,1216.2 488.0,1216.2 486.4,1216.8 484.8,1215.1 483.2,1215.2 481.6,1215.3 480.0,1216.7 478.4,1216.5 476.8,1216.8 475.2,1216.5 473.6,1216.8 472.0,1216.5 470.4,1215.9 468.8,1216.3 467.2,1215.8 465.6,1216.5 464.0,1215.0 462.4,1215.4 460.8,1215.3 459.2,1216.3 457.6,1215.0 456.0,1215.9 454.4,1216.7 452.8,1216.2 451.2,1216.3 449.6,1215.3 448.0,1215.8 446.4,1215.1 444.8,1215.8 443.2,1215.1 441.6,1215.6 440.0,1215.9 438.4,1216.3 436.8,1215.5 435.2,1216.3 433.6,1216.0 432.0,1216.2 430.4,1216.3 428.8,1216.7 427.2,1216.4 425.6,1216.7 424.0,1216.4 422.4,1216.4 420.8,1216.4 419.2,1215.5 417.6,1215.8 416.0,1215.9 414.4,1216.6 412.8,1216.5 411.2,1216.4 409.6,1215.9 408.0,1216.4 406.4,1216.2 404.8,1216.1 403.2,1215.6 401.6,1216.5" fill="#000" stroke="#000" stroke-width="0.8" stroke-linejoin="round"/>
<path d="M494.0 1213.7V1210.9M498.3 1213.4V1210.4M501.1 1213.3V1210.0M504.0 1213.1V1210.7M511.1 1212.7V1209.1M515.0 1212.4V1208.8M517.6 1212.2V1209.0M519.8 1212.1V1208.5M522.8 1211.9V1208.8M527.2 1211.7V1207.5M531.5 1211.4V1207.7M535.0 1211.2V1207.1M539.0 1210.9V1206.6M541.8 1210.8V1208.2M546.5 1210.4V1207.7M548.9 1210.2V1208.0M553.6 1209.7V1205.8M558.4 1209.2V1205.0M561.5 1208.9V1205.1M566.0 1208.4V1203.9M572.7 1207.7V1203.3M575.8 1207.5V1204.0M580.0 1207.2V1203.7M584.6 1207.0V1203.6M588.7 1206.7V1203.5M593.2 1206.5V1201.9M597.1 1206.2V1201.9M600.7 1206.0V1202.4M603.0 1205.9V1200.8M609.7 1205.5V1200.3M619.8 1204.9V1198.2M624.3 1204.4V1200.4M626.9 1204.0V1196.9M631.1 1203.5V1196.1M634.2 1203.2V1200.7M637.1 1202.8V1198.6M641.4 1202.3V1194.4M644.0 1202.0V1194.8M647.3 1201.6V1196.8M650.0 1201.4V1194.4M654.3 1201.2V1192.9M657.4 1201.0V1196.0M659.7 1200.9V1193.7M662.2 1200.8V1196.5M665.8 1200.6V1191.9M670.3 1200.4V1193.5M674.0 1200.2V1196.9M677.1 1200.1V1191.0M681.6 1199.9V1194.3M686.2 1199.7V1190.5M689.7 1199.5V1192.9M691.9 1199.4V1195.5M695.1 1199.2V1191.4M698.7 1199.1V1189.4M702.4 1198.8V1191.0M707.1 1198.3V1189.9M710.4 1198.0V1189.7M713.1 1197.7V1188.3M716.2 1197.4V1191.4M720.6 1196.9V1190.9M725.0 1196.5V1188.6M727.6 1196.2V1189.5M735.3 1195.5V1188.2M739.2 1195.1V1185.0M743.5 1194.0V1188.4M745.9 1193.2V1183.5M748.1 1192.6V1184.3M752.8 1191.2V1186.4M755.9 1190.2V1179.2M758.3 1189.5V1181.5M761.7 1188.8V1180.1M765.3 1188.5V1180.8M769.4 1188.1V1178.6M771.7 1187.8V1181.6M776.5 1187.4V1177.9M779.2 1187.1V1182.4M787.2 1186.3V1179.5M794.4 1185.6V1179.5M797.7 1185.2V1181.7M800.7 1184.9V1180.7M804.0 1184.4V1178.3M808.9 1183.8V1178.6M813.5 1183.1V1176.6M817.2 1182.6V1173.9M820.5 1182.1V1172.8M824.1 1181.6V1173.9M826.3 1181.3V1174.8M829.3 1180.9V1175.7M833.4 1180.3V1171.7M837.3 1179.8V1171.2M841.8 1179.2V1174.1M845.8 1178.6V1170.1M849.6 1178.1V1170.5M856.5 1176.7V1167.3M859.4 1176.1V1168.9M861.7 1175.7V1168.2M866.0 1174.8V1165.6M868.3 1174.3V1165.5M871.6 1173.7V1165.9M875.1 1173.0V1164.2M879.3 1172.1V1164.2M882.1 1171.6V1164.9M885.6 1170.9V1165.4M889.8 1170.0V1166.0M892.6 1169.5V1164.8M895.5 1168.9V1163.9M899.5 1168.1V1162.0M903.9 1167.5V1160.8M907.1 1167.1V1160.5M909.9 1166.8V1159.6M914.5 1166.3V1162.0M922.5 1165.3V1155.6M929.5 1164.5V1157.2M933.7 1164.0V1156.3M937.2 1163.5V1156.5M940.2 1163.2V1157.6M945.0 1162.6V1150.6M951.6 1161.9V1152.2M960.2 1161.6V1149.6M963.2 1161.5V1146.5M967.9 1161.3V1147.4M970.5 1161.2V1146.2M974.9 1161.0V1145.2M979.9 1160.8V1143.7M982.4 1160.7V1143.3M987.1 1160.5V1150.1M990.2 1160.4V1142.3M993.8 1160.2V1157.0M996.6 1160.1V1146.7M998.9 1160.0V1151.0M1002.6 1159.6V1140.9M1005.7 1159.2V1149.2M1009.3 1158.6V1147.5M1016.7 1157.5V1150.7M1019.8 1157.1V1145.4M1024.6 1156.4V1146.7M1029.4 1155.7V1143.3M1034.0 1155.0V1143.9M1036.3 1154.6V1145.3M1038.5 1154.3V1144.9M1042.5 1153.7V1144.3M1045.0 1153.3V1151.2M1051.2 1152.3V1140.7M1055.5 1151.7V1140.5M1057.7 1151.4V1138.0M1062.1 1150.7V1137.5M1066.5 1150.0V1141.2M1071.4 1149.2V1145.4M1074.9 1149.0V1136.3M1079.3 1149.0V1139.6M1083.8 1149.0V1131.5M1087.3 1149.0V1128.7M1090.0 1149.0V1129.1M1092.8 1149.0V1121.5M1097.5 1149.0V1124.5M1099.8 1149.0V1138.1M1103.9 1149.0V1130.8M1107.8 1149.0V1127.5M1112.6 1149.0V1138.6M1115.6 1149.0V1125.1M1118.3 1149.0V1130.5M1121.3 1149.0V1131.6M1123.5 1149.0V1130.9M1126.6 1149.0V1133.9M1129.2 1149.0V1138.6M1132.2 1149.4V1134.6M1135.5 1150.0V1143.5M1138.8 1150.7V1134.6M1141.9 1151.3V1126.0M1145.3 1151.9V1135.6M1148.7 1152.6V1131.0M1153.3 1152.9V1138.4M1156.4 1152.7V1141.9M1159.7 1152.6V1130.2M1163.0 1152.4V1140.0M1167.4 1152.2V1144.8M1169.8 1152.1V1137.0M1173.7 1151.9V1139.2M1176.2 1151.8V1143.0M1179.8 1151.6V1140.6M1183.6 1151.6V1144.3M1187.8 1151.6V1142.7M1190.8 1151.6V1144.6M1194.3 1151.6V1141.3M1202.2 1151.9V1144.1M1205.2 1152.2V1145.1M1208.2 1152.3V1140.6M1210.3 1149.1V1139.5M1214.9 1142.4V1134.8M1219.0 1136.3V1130.1M1223.4 1129.7V1122.6M1226.8 1124.6V1118.9M1229.3 1120.1V1114.4M1233.9 1119.9V1110.3M1240.5 1134.3V1128.9M1244.9 1130.1V1122.0M1248.4 1125.1V1113.7M1251.5 1119.9V1114.9M1267.5 1141.9V1136.8M1270.0 1147.7V1142.7M1273.7 1150.4V1142.6M1277.8 1153.2V1149.8M1280.8 1155.2V1147.5M1288.5 1160.1V1156.2M1291.7 1162.4V1155.5M1296.6 1164.4V1156.3M1301.5 1163.5V1155.2M1304.3 1162.9V1157.7M1307.4 1161.3V1157.6M1310.9 1159.2V1154.9M1314.8 1156.6V1149.6M1318.9 1153.6V1142.8M1323.0 1150.6V1141.8M1325.1 1149.0V1138.6M1327.8 1147.0V1144.0M1334.8 1138.9V1126.0M1337.6 1132.4V1126.4M1342.0 1122.4V1117.7M1421.2 1173.4V1169.3M1424.2 1176.4V1172.9M1428.2 1179.9V1174.3M1431.1 1181.1V1179.0M1434.3 1178.4V1173.1M1441.9 1178.5V1172.7M1446.1 1180.5V1176.1M1448.3 1179.7V1170.0M1451.9 1178.0V1169.4M1455.9 1175.9V1171.9M1460.7 1173.6V1171.0M1463.4 1172.2V1167.0M1466.4 1171.3V1166.8M1469.2 1171.3V1163.8M1473.9 1171.3V1162.8M1477.2 1170.0V1162.3M1481.7 1167.7V1163.7M1485.0 1166.6V1160.9M1487.1 1166.6V1160.9M1490.8 1166.6V1163.1M1493.7 1166.4V1158.3M1498.1 1164.2V1159.1M1502.3 1162.2V1156.9M1505.5 1160.6V1153.5M1509.2 1158.7V1153.5M1513.5 1156.9V1151.4M1516.1 1156.4V1149.1M1520.5 1155.5V1148.9M1523.4 1155.7V1147.5M1528.2 1156.6V1152.4M1530.4 1157.1V1146.3M1534.8 1156.4V1143.6M1537.4 1155.9V1138.5M1539.6 1155.5V1137.8M1543.4 1154.4V1133.8M1548.3 1153.0V1125.9M1550.4 1152.7V1130.8M1557.7 1154.9V1125.2M1561.5 1154.5V1116.3M1564.6 1153.4V1117.0M1567.2 1152.4V1117.3M1571.3 1150.9V1114.3M1573.4 1150.2V1112.0M1582.8 1138.9V1115.5M1585.9 1135.2V1113.1M1590.3 1135.6V1127.5M1594.5 1136.0V1124.9M1598.0 1136.3V1130.1M1600.3 1136.6V1130.8M1605.1 1137.0V1116.4M1607.8 1137.4V1108.2M1610.5 1138.2V1120.4M1613.7 1139.2V1112.0M1616.2 1139.9V1124.8M1620.8 1141.3V1124.4M1624.4 1142.4V1107.5M1626.7 1143.0V1116.0M1631.5 1144.0V1123.6M1634.3 1142.7V1105.7M1637.2 1141.2V1106.5M1642.0 1138.9V1120.5M1645.7 1137.0V1128.2M1653.7 1133.2V1117.1M1656.4 1132.7V1127.3M1659.6 1133.0V1124.4M1662.6 1133.3V1122.9M1665.2 1133.6V1112.6M1667.4 1133.8V1127.1M1671.2 1134.2V1117.5M1675.0 1134.6V1111.6M1680.7 1135.7V1120.7M1683.1 1136.4V1116.7M1687.5 1137.7V1126.4M1692.3 1139.1V1123.5M1695.6 1140.1V1124.9M1699.2 1141.2V1115.0M1701.6 1141.9V1114.1M1707.6 1143.6V1125.2M1710.1 1144.4V1136.9M1719.7 1147.2V1141.2M1723.3 1148.2V1141.5M1726.9 1149.8V1141.1M1729.7 1152.2V1144.4M1737.7 1159.1V1152.2M1741.9 1162.7V1154.1M1745.6 1165.8V1157.3M1750.5 1169.5V1157.5M1753.9 1170.8V1156.4M1758.2 1172.3V1154.5M1760.8 1173.2V1156.2M1764.3 1174.4V1166.2M1766.9 1175.4V1162.2M1770.2 1176.5V1164.0M1774.0 1177.7V1172.3M1784.0 1180.3V1170.5M1786.5 1181.4V1171.5M1791.1 1183.3V1176.7M1795.4 1185.1V1177.3M1800.2 1187.0V1182.0M1802.9 1187.9V1184.3M1809.9 1190.1V1187.8M1813.6 1191.2V1184.1M1816.1 1192.0V1185.6M1819.3 1192.9V1187.6M1824.2 1194.3V1188.6M1828.9 1195.7V1189.7M1833.5 1196.8V1190.9M1836.2 1197.4V1194.1M1839.5 1198.0V1194.0M1841.9 1198.5V1194.1M1844.7 1199.1V1194.0M1851.4 1200.5V1196.1M1855.6 1201.3V1197.6M1860.8 1202.6V1200.1M1865.0 1203.7V1200.4M1869.0 1204.7V1201.4M1872.8 1205.6V1202.6M1876.0 1206.4V1204.2M1946.6 1214.1V1211.4M402.4 1214.0V1216.9M407.1 1214.0V1216.9M411.7 1214.0V1216.8M417.9 1214.0V1216.9M421.1 1214.0V1216.4M427.0 1213.9V1216.2M433.0 1213.9V1216.5M436.4 1213.9V1216.5M439.9 1213.9V1217.2M442.9 1213.9V1217.3M449.1 1213.9V1216.9M454.5 1213.9V1216.0M459.0 1213.9V1216.9M462.1 1213.9V1217.0M465.6 1213.8V1217.4M468.5 1213.8V1217.2M473.5 1213.8V1216.5M477.8 1213.8V1217.1M481.8 1213.8V1216.4M486.5 1213.8V1216.6M492.2 1213.7V1216.2M496.7 1213.7V1217.2M499.4 1213.6V1216.1M503.7 1213.6V1215.7M508.2 1213.5V1217.7M511.8 1213.5V1215.5M518.0 1213.4V1217.5M524.0 1213.3V1216.7M527.1 1213.3V1215.3M531.0 1213.2V1216.9M534.1 1213.2V1216.4M539.7 1213.1V1216.5M544.7 1213.0V1217.6M548.2 1212.9V1215.3M554.2 1212.8V1216.0M557.1 1212.7V1215.9M561.7 1212.6V1215.6M564.8 1212.5V1215.2M570.3 1212.4V1216.3M575.3 1212.3V1216.7M579.6 1212.2V1214.3M583.4 1212.1V1216.7M589.0 1211.9V1215.9M595.3 1211.7V1214.1M598.4 1211.6V1214.6M602.0 1211.5V1216.1M607.2 1211.3V1215.1M612.0 1211.2V1215.7M616.7 1211.1V1214.4M621.5 1210.9V1214.5M626.1 1210.6V1215.0M630.0 1210.4V1214.0M634.9 1210.1V1214.8M637.8 1210.0V1214.1M643.1 1209.7V1213.6M649.1 1209.4V1212.8M654.0 1209.2V1212.9M658.8 1209.1V1214.1M663.9 1209.0V1213.1M669.8 1208.8V1210.8M675.2 1208.7V1210.8M680.9 1208.5V1212.8M684.8 1208.4V1211.5M690.1 1208.3V1212.9M692.9 1208.2V1212.3M696.0 1208.1V1211.7M699.8 1208.0V1210.3M704.1 1207.8V1211.0M708.6 1207.6V1212.6M713.5 1207.4V1210.2M718.1 1207.2V1211.0M724.3 1206.9V1209.9M729.3 1206.7V1210.2M734.8 1206.4V1209.1M737.7 1206.3V1209.5M743.2 1206.1V1209.8M746.4 1205.9V1209.6M752.2 1205.6V1208.6M755.2 1205.5V1207.8M759.1 1205.3V1208.8M762.8 1205.0V1208.8M766.7 1204.8V1209.2M772.6 1204.5V1209.3M776.8 1204.3V1207.1M780.6 1204.1V1208.0M784.3 1203.9V1206.5M787.4 1203.7V1207.8M791.5 1203.5V1206.8M794.8 1203.3V1205.6M801.0 1203.0V1206.6M807.0 1202.7V1205.8M813.0 1202.5V1205.5M816.1 1202.4V1206.2M821.8 1202.2V1207.1M827.9 1202.0V1204.1M832.8 1201.8V1205.9M837.5 1201.6V1204.5M841.2 1201.5V1204.3M844.2 1201.4V1205.6M849.4 1201.2V1204.1M853.9 1201.1V1204.0M856.7 1201.0V1205.5M859.9 1200.8V1203.2M865.6 1200.6V1205.0M869.3 1200.5V1205.0M873.3 1200.4V1203.3M876.2 1200.3V1202.8M881.0 1200.1V1204.3M884.0 1200.0V1203.8M889.2 1199.8V1203.8M894.8 1199.6V1204.3M898.8 1199.4V1204.0M902.9 1199.2V1203.3M906.8 1199.0V1203.0M910.7 1198.8V1203.7M914.3 1198.7V1202.3M920.2 1198.4V1201.7M923.8 1198.2V1201.5M928.5 1198.0V1200.4M931.8 1197.8V1200.9M936.9 1197.5V1200.1M939.9 1197.4V1201.8M944.1 1197.2V1200.6M948.7 1197.0V1201.0M953.3 1196.7V1201.5M959.4 1196.4V1200.0M964.6 1196.2V1199.9M970.7 1195.9V1197.9M975.9 1195.6V1199.6M980.4 1195.4V1199.5M983.4 1195.3V1198.8M987.5 1195.1V1198.1M992.7 1194.8V1198.7M998.3 1194.9V1198.5M1004.2 1195.4V1200.4M1008.7 1195.7V1199.9M1012.6 1196.0V1199.1M1018.2 1196.4V1199.8M1024.2 1196.9V1200.1M1028.1 1197.2V1200.5M1032.3 1197.5V1199.7M1037.0 1197.3V1201.6M1042.6 1196.7V1201.7M1047.1 1196.3V1200.9M1053.1 1195.7V1199.6M1057.4 1195.3V1199.5M1060.6 1194.9V1199.1M1064.9 1194.5V1196.7M1068.0 1194.2V1198.0M1072.1 1193.8V1196.2M1076.9 1192.0V1196.7M1080.4 1190.6V1193.0M1083.8 1189.1V1191.6M1086.7 1187.9V1191.6M1091.3 1186.0V1189.8M1095.9 1184.1V1187.0M1099.1 1184.4V1189.0M1102.6 1184.8V1187.1M1107.0 1185.4V1188.8M1110.7 1185.8V1190.8M1116.9 1186.7V1189.7M1122.7 1187.6V1191.0M1127.7 1188.3V1190.9M1131.9 1188.9V1192.4M1137.5 1189.7V1193.4M1141.3 1190.3V1194.3M1144.1 1190.7V1195.4M1149.0 1191.4V1196.2M1152.8 1192.1V1195.9M1156.6 1192.8V1196.9M1162.8 1194.0V1197.1M1168.2 1195.1V1200.1M1171.0 1195.6V1197.7M1176.9 1196.8V1200.6M1183.1 1197.3V1200.6M1188.8 1197.1V1200.5M1192.9 1197.0V1201.2M1197.1 1196.8V1199.8M1201.8 1196.7V1200.5M1204.6 1196.6V1200.7M1208.3 1196.4V1200.9M1214.4 1194.0V1196.3M1217.6 1192.7V1196.0M1222.9 1186.3V1188.9M1226.9 1181.5V1183.6M1232.4 1169.8V1172.0M1238.1 1174.0V1178.9M1241.8 1174.9V1178.3M1247.6 1163.7V1165.9M1251.3 1159.8V1164.4M1256.3 1172.5V1175.7M1261.7 1180.0V1184.8M1267.2 1183.1V1185.3M1270.2 1184.3V1188.8M1274.0 1187.5V1190.1M1278.3 1190.9V1194.8M1284.4 1193.5V1196.7M1288.9 1194.8V1198.7M1294.8 1195.5V1197.6M1298.5 1195.5V1198.0M1304.0 1195.5V1199.7M1306.8 1195.5V1197.9M1311.0 1195.5V1198.7M1315.6 1194.7V1198.2M1320.1 1192.3V1196.2M1323.3 1190.6V1194.0M1327.6 1188.2V1191.0M1330.6 1186.5V1190.7M1334.6 1183.9V1186.6M1337.3 1181.7V1184.1M1341.6 1178.1V1181.6M1346.7 1169.4V1171.5M1350.6 1162.6V1165.5M1355.8 1161.0V1163.4M1362.1 1150.0V1154.7M1367.9 1139.7V1142.4M1373.0 1129.6V1133.7M1376.9 1119.8V1123.4M1382.9 1094.6V1098.5M1388.1 1074.2V1076.2M1393.8 1118.9V1123.0M1396.6 1140.8V1143.0M1401.9 1169.2V1172.8M1405.7 1179.9V1184.7M1410.5 1187.8V1192.0M1416.6 1193.4V1195.6M1419.5 1195.3V1199.0M1424.5 1197.7V1202.1M1428.2 1198.5V1202.5M1432.0 1199.2V1203.0M1437.0 1199.9V1203.2M1443.0 1200.7V1203.1M1448.4 1201.3V1204.9M1453.1 1201.5V1203.9M1457.0 1201.7V1206.5M1460.0 1201.8V1206.2M1465.3 1202.1V1206.4M1471.4 1202.1V1204.5M1475.5 1202.1V1204.1M1479.6 1202.1V1206.0M1483.5 1202.1V1206.1M1488.7 1201.1V1203.9M1492.4 1200.4V1205.0M1496.0 1199.7V1202.3M1500.4 1198.8V1200.9M1505.5 1198.2V1201.5M1509.3 1198.1V1202.3M1513.3 1198.0V1202.8M1518.6 1197.8V1200.8M1521.6 1197.7V1201.0M1527.5 1197.5V1202.0M1531.2 1197.4V1199.6M1534.1 1197.3V1201.9M1539.1 1197.3V1202.1M1544.1 1197.2V1201.0M1547.8 1197.1V1200.4M1551.6 1197.0V1199.4M1556.9 1196.9V1199.2M1560.7 1196.9V1200.7M1564.4 1196.8V1201.6M1569.0 1196.7V1199.2M1573.1 1196.6V1199.0M1577.9 1196.5V1200.3M1583.5 1196.1V1200.8M1589.7 1195.5V1200.2M1594.5 1194.9V1199.1M1599.5 1194.4V1198.5M1603.4 1194.0V1198.3M1606.3 1193.7V1197.3M1612.5 1194.7V1199.2M1618.5 1195.9V1198.3M1624.6 1197.1V1199.5M1628.2 1197.8V1202.0M1631.3 1198.4V1202.4M1635.5 1198.4V1201.0M1641.1 1198.4V1202.7M1645.6 1198.4V1201.2M1650.4 1198.4V1201.9M1654.4 1198.4V1202.6M1658.7 1198.6V1202.4M1662.8 1198.8V1201.8M1668.5 1199.0V1201.2M1674.6 1199.3V1203.6M1677.7 1199.5V1202.8M1680.9 1199.6V1204.2M1685.7 1199.9V1202.5M1688.5 1200.0V1204.6M1692.9 1200.2V1205.0M1696.4 1200.4V1204.5M1700.2 1200.6V1204.1M1704.6 1200.9V1204.1M1710.7 1201.5V1204.9M1714.1 1201.9V1205.1M1716.8 1202.1V1205.8M1723.1 1202.7V1206.2M1728.8 1203.2V1206.4M1732.4 1203.4V1207.8M1738.2 1203.7V1207.2M1743.5 1204.0V1208.3M1746.9 1204.2V1207.5M1751.2 1204.4V1207.2M1756.7 1204.7V1206.8M1760.2 1204.8V1208.2M1764.4 1205.1V1208.2M1767.3 1205.2V1208.0M1772.1 1205.5V1207.7M1776.6 1205.7V1208.6M1781.5 1205.9V1210.0M1786.9 1206.1V1208.3M1791.5 1206.3V1211.2M1795.1 1206.5V1210.7M1801.0 1207.7V1212.3M1806.7 1208.9V1211.3M1810.8 1209.2V1213.2M1814.7 1209.5V1214.2M1820.7 1209.9V1213.6M1826.6 1210.4V1213.4M1832.4 1210.8V1212.9M1836.1 1211.0V1215.0M1841.7 1211.3V1213.5M1845.5 1211.5V1215.2M1850.8 1211.7V1214.5M1856.3 1212.0V1215.6M1860.7 1212.4V1216.8M1865.6 1212.7V1215.0M1869.6 1213.0V1216.8M1874.1 1213.4V1217.7M1878.0 1213.7V1217.3M1883.8 1213.9V1216.1M1889.2 1213.9V1216.6M1894.2 1213.9V1216.5M1897.7 1213.9V1216.3M1902.4 1213.9V1216.6M1905.2 1213.9V1216.0M1909.9 1213.9V1217.6M1913.4 1214.0V1217.7M1919.4 1214.1V1218.9M1922.7 1214.1V1218.9M1927.1 1214.2V1216.9M1933.0 1214.3V1216.4M1936.6 1214.4V1218.3M1941.1 1214.4V1218.0M1944.5 1214.5V1216.8M1950.2 1214.5V1218.0M1953.9 1214.6V1216.9M1959.9 1214.6V1218.5M1965.8 1214.7V1217.5M1969.3 1214.7V1218.3M1973.9 1214.7V1218.2M1977.1 1214.8V1217.6M1981.9 1214.8V1217.0M1986.3 1214.8V1217.9M1991.0 1214.9V1218.3M1994.0 1214.9V1217.3M1999.4 1215.0V1218.3M2003.4 1215.0V1217.3M2009.2 1215.0V1217.8M2014.3 1215.1V1217.9M1100.0 1150.0V1108.0M1112.0 1150.0V1110.0M1147.0 1152.0V1104.0M1627.5 1140.0V1076.0M1567.2 1150.0V1111.0M1574.3 1150.0V1111.0M1559.2 1150.0V1116.7M1548.4 1150.0V1125.0M1668.5 1135.0V1109.2M1706.6 1142.0V1114.0" stroke="#000" stroke-width="2.6" fill="none"/>
<g stroke="#000" stroke-width="4.0" fill="none" stroke-linecap="butt">
<line x1="401.5" y1="36" x2="401.5" y2="1226.5"/>
<line x1="399.6" y1="1224.6" x2="2017.7" y2="1224.6"/>
<line x1="375.5" y1="1216.0" x2="401.5" y2="1216.0"/>
<line x1="375.5" y1="1026.1" x2="401.5" y2="1026.1"/>
<line x1="375.5" y1="836.3" x2="401.5" y2="836.3"/>
<line x1="375.5" y1="646.4" x2="401.5" y2="646.4"/>
<line x1="375.5" y1="456.5" x2="401.5" y2="456.5"/>
<line x1="375.5" y1="266.6" x2="401.5" y2="266.6"/>
<line x1="375.5" y1="76.8" x2="401.5" y2="76.8"/>
<line x1="387.5" y1="1121.1" x2="401.5" y2="1121.1"/>
<line x1="387.5" y1="931.2" x2="401.5" y2="931.2"/>
<line x1="387.5" y1="741.3" x2="401.5" y2="741.3"/>
<line x1="387.5" y1="551.5" x2="401.5" y2="551.5"/>
<line x1="387.5" y1="361.6" x2="401.5" y2="361.6"/>
<line x1="387.5" y1="171.7" x2="401.5" y2="171.7"/>
<line x1="401.4" y1="1224.6" x2="401.4" y2="1251.5"/>
<line x1="525.6" y1="1224.6" x2="525.6" y2="1240.5"/>
<line x1="649.8" y1="1224.6" x2="649.8" y2="1251.5"/>
<line x1="773.9" y1="1224.6" x2="773.9" y2="1240.5"/>
<line x1="898.1" y1="1224.6" x2="898.1" y2="1251.5"/>
<line x1="1022.3" y1="1224.6" x2="1022.3" y2="1240.5"/>
<line x1="1146.5" y1="1224.6" x2="1146.5" y2="1251.5"/>
<line x1="1270.7" y1="1224.6" x2="1270.7" y2="1240.5"/>
<line x1="1394.8" y1="1224.6" x2="1394.8" y2="1251.5"/>
<line x1="1519.0" y1="1224.6" x2="1519.0" y2="1240.5"/>
<line x1="1643.2" y1="1224.6" x2="1643.2" y2="1251.5"/>
<line x1="1767.4" y1="1224.6" x2="1767.4" y2="1240.5"/>
<line x1="1891.6" y1="1224.6" x2="1891.6" y2="1251.5"/>
<line x1="2015.7" y1="1224.6" x2="2015.7" y2="1240.5"/>
</g>
<g font-family="'Liberation Sans', Arial, Helvetica, sans-serif" fill="#000">
<text transform="translate(146.00,1046.06) scale(0.9000,1)" font-size="57.04" font-weight="bold" letter-spacing="2.06">1.0x10</text>
<text transform="translate(313.99,1013.98) scale(0.8600,1)" font-size="35.21" font-weight="bold" letter-spacing="1.93">-16</text>
<text transform="translate(145.90,856.19) scale(0.9000,1)" font-size="57.04" font-weight="bold" letter-spacing="2.08">2.0x10</text>
<text transform="translate(313.99,824.11) scale(0.8600,1)" font-size="35.21" font-weight="bold" letter-spacing="1.93">-16</text>
<text transform="translate(145.87,666.32) scale(0.9000,1)" font-size="57.04" font-weight="bold" letter-spacing="2.09">3.0x10</text>
<text transform="translate(313.99,634.24) scale(0.8600,1)" font-size="35.21" font-weight="bold" letter-spacing="1.93">-16</text>
<text transform="translate(145.84,476.45) scale(0.9000,1)" font-size="57.04" font-weight="bold" letter-spacing="2.09">4.0x10</text>
<text transform="translate(313.99,444.37) scale(0.8600,1)" font-size="35.21" font-weight="bold" letter-spacing="1.93">-16</text>
<text transform="translate(145.89,286.58) scale(0.9000,1)" font-size="57.04" font-weight="bold" letter-spacing="2.08">5.0x10</text>
<text transform="translate(313.99,254.50) scale(0.8600,1)" font-size="35.21" font-weight="bold" letter-spacing="1.93">-16</text>
<text transform="translate(145.90,96.71) scale(0.9000,1)" font-size="57.04" font-weight="bold" letter-spacing="2.08">6.0x10</text>
<text transform="translate(313.99,64.63) scale(0.8600,1)" font-size="35.21" font-weight="bold" letter-spacing="1.93">-16</text>
<text transform="translate(285.52,1224.05) scale(0.9000,1)" font-size="55.07" font-weight="bold" letter-spacing="3.65">0.0</text>
<text transform="translate(350.10,1313.56) scale(0.9300,1)" font-size="64.37" font-weight="bold" letter-spacing="1.19">940</text>
<text transform="translate(598.46,1313.56) scale(0.9300,1)" font-size="64.37" font-weight="bold" letter-spacing="1.19">942</text>
<text transform="translate(846.82,1313.56) scale(0.9300,1)" font-size="64.37" font-weight="bold" letter-spacing="0.07">944</text>
<text transform="translate(1095.18,1313.56) scale(0.9300,1)" font-size="64.37" font-weight="bold" letter-spacing="1.03">946</text>
<text transform="translate(1343.54,1313.56) scale(0.9300,1)" font-size="64.37" font-weight="bold" letter-spacing="0.87">948</text>
<text transform="translate(1591.90,1313.56) scale(0.9300,1)" font-size="64.37" font-weight="bold" letter-spacing="1.19">950</text>
<text transform="translate(1840.26,1313.56) scale(0.9300,1)" font-size="64.37" font-weight="bold" letter-spacing="1.19">952</text>
<text transform="translate(591.35,144.26) scale(0.9819,1)" font-size="74.23" font-weight="bold">230K</text>
<text transform="translate(533.07,434.00) scale(0.9839,1)" font-size="79.13">N</text>
<text transform="translate(587.78,463.30) scale(1.0414,1)" font-size="46.43">2</text>
<text transform="translate(634.50,434.01) scale(0.9472,1)" font-size="79.14">Pressure</text>
<text transform="translate(622.63,684.76) scale(1.0184,1)" font-size="74.01" fill="#118012">200 mb</text>
<text transform="translate(502.65,685.11) scale(1.0353,1)" font-size="74.01" fill="#118012">----</text>
<text transform="translate(646.02,775.76) scale(1.0040,1)" font-size="74.15" fill="#0a0ad8">50 mb</text>
<text transform="translate(502.65,776.65) scale(1.0334,1)" font-size="74.15" fill="#0a0ad8">----</text>
<text transform="translate(644.25,958.76) scale(1.0127,1)" font-size="74.15" fill="#e31212">20 mb</text>
<text transform="translate(502.65,959.65) scale(1.0334,1)" font-size="74.15" fill="#e31212">----</text>
<text transform="translate(647.46,1049.77) scale(1.0156,1)" font-size="72.79">10 mb</text>
<text transform="translate(502.65,1051.29) scale(1.0527,1)" font-size="72.79">----</text>
<text transform="translate(893.35,1399.50) scale(0.9504,1)" font-size="73.48">Wavenumber (cm</text>
<text transform="translate(1466.14,1366.60) scale(0.9504,1)" font-size="72.90">1</text>
<text transform="translate(1440.50,1369.02) scale(1.0358,1)" font-size="72.90">-</text>
<text transform="translate(1505.68,1398.05) scale(0.9061,1)" font-size="68.34">)</text>
<text transform="translate(82.80,1001.79) rotate(-90) scale(0.9553,1)" font-size="61.01">Abs. cross section (cm</text>
<text transform="translate(50.70,417.56) rotate(-90) scale(1.0117,1)" font-size="36.71">2</text>
<text transform="translate(82.80,395.70) rotate(-90) scale(0.9968,1)" font-size="58.07">/molec.)</text>
</g>
</svg>
</body></html>
